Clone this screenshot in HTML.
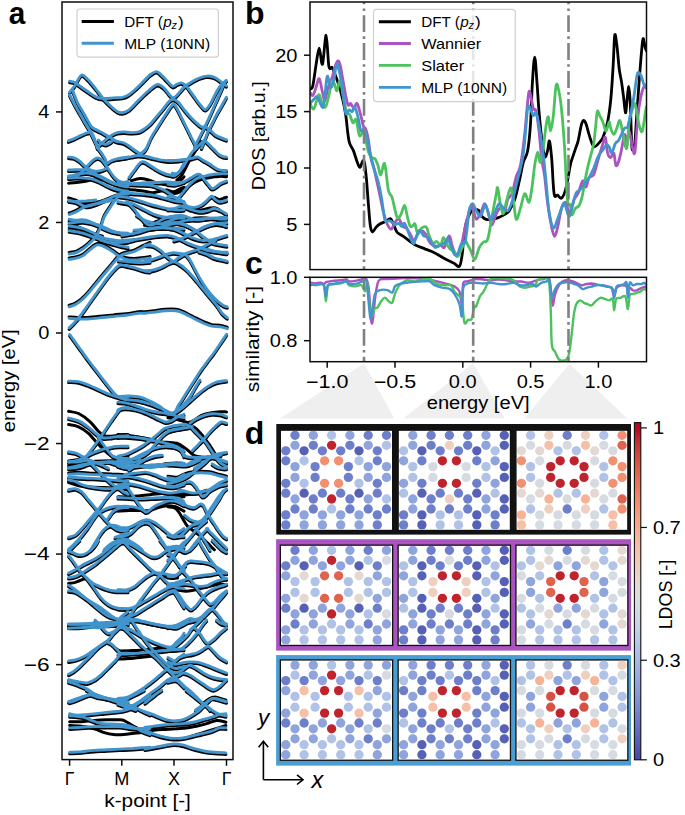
<!DOCTYPE html>
<html><head><meta charset="utf-8"><style>
html,body{margin:0;padding:0;background:#fff;}
svg{display:block;font-family:"Liberation Sans", sans-serif;}
</style></head><body>
<svg width="685" height="815" viewBox="0 0 685 815">
<rect x="0" y="0" width="685" height="815" fill="#fff"/>
<polygon points="364.0,363.5 280.0,418.4 394.3,418.4" fill="#efefef"/>
<polygon points="473.0,363.2 403.5,418.3 504.5,418.3" fill="#efefef"/>
<polygon points="569.5,363.8 524.5,418.6 627.3,418.6" fill="#efefef"/>
<defs><clipPath id="clipa"><rect x="62" y="2" width="171" height="757"/></clipPath></defs><g clip-path="url(#clipa)"><path d="M69.6,92.1 C70.5,91.0 72.9,88.5 74.8,85.7 C76.8,82.9 79.1,76.2 81.3,75.2 C83.4,74.1 85.3,77.1 87.7,79.3 C90.0,81.5 92.8,85.1 95.4,88.3 C98.0,91.5 100.5,95.5 103.1,98.5 C105.7,101.5 108.5,104.1 110.8,106.2 C113.2,108.4 115.3,110.3 117.2,111.4 C119.2,112.5 120.5,112.9 122.4,112.7 C124.3,112.5 126.4,111.8 128.8,110.1 C131.2,108.4 133.9,105.0 136.5,102.4 C139.1,99.8 142.0,96.8 144.2,94.7 C146.5,92.5 149.0,90.4 150.0,89.5" fill="none" stroke="#000" stroke-width="3.0" stroke-linecap="round" transform="translate(0,1.50)"/><path d="M69.6,81.2 C70.5,81.4 72.9,81.5 74.8,82.5 C76.8,83.4 79.1,85.5 81.3,87.0 C83.4,88.5 85.3,89.9 87.7,91.5 C90.0,93.1 92.8,95.4 95.4,96.6 C98.0,97.8 100.1,98.3 103.1,98.5 C106.1,98.8 110.2,98.1 113.4,97.9 C116.6,97.7 119.8,97.8 122.4,97.3 C124.9,96.7 126.4,96.2 128.8,94.7 C131.2,93.2 133.9,90.6 136.5,88.3 C139.1,85.9 142.0,82.8 144.2,80.6 C146.5,78.3 149.0,75.7 150.0,74.8" fill="none" stroke="#000" stroke-width="3.0" stroke-linecap="round" transform="translate(0,1.50)"/><path d="M69.6,94.7 C70.5,96.4 73.1,101.8 74.8,105.0 C76.6,108.2 78.3,111.0 80.0,114.0 C81.7,117.0 83.6,120.4 85.1,122.9 C86.6,125.5 87.7,127.0 89.0,129.4 C90.3,131.7 91.5,134.5 92.8,137.1 C94.1,139.7 95.7,143.0 96.7,144.8 C97.7,146.6 98.3,147.5 98.6,148.0" fill="none" stroke="#000" stroke-width="3.0" stroke-linecap="round" transform="translate(0,1.50)"/><path d="M72.3,89.5 C73.1,91.7 75.7,98.8 77.4,102.4 C79.1,106.0 80.8,108.4 82.6,111.4 C84.3,114.4 86.2,117.8 87.7,120.4 C89.2,122.9 90.3,125.3 91.5,126.8 C92.8,128.3 93.5,128.3 95.4,129.4 C97.3,130.4 100.8,131.9 103.1,133.2 C105.5,134.5 107.4,135.8 109.5,137.1 C111.7,138.4 114.9,140.3 116.0,140.9" fill="none" stroke="#000" stroke-width="3.0" stroke-linecap="round" transform="translate(0,1.50)"/><path d="M68.4,140.9 C69.5,140.5 72.7,139.3 74.8,138.4 C77.0,137.4 79.1,136.1 81.3,135.2 C83.4,134.2 86.0,133.0 87.7,132.6 C89.4,132.2 90.4,131.4 91.5,132.6 C92.7,133.8 93.8,137.1 94.8,139.7 C95.7,142.2 96.9,146.6 97.3,148.0" fill="none" stroke="#000" stroke-width="3.0" stroke-linecap="round" transform="translate(0,1.50)"/><path d="M99.3,145.4 C100.1,144.7 102.5,142.5 104.4,140.9 C106.3,139.3 108.7,137.2 110.8,135.8 C113.0,134.4 115.1,133.2 117.2,132.6 C119.4,131.9 121.3,131.9 123.7,131.9 C126.0,131.9 128.8,132.6 131.4,132.6 C133.9,132.6 136.7,132.7 139.1,131.9 C141.4,131.2 143.7,129.4 145.5,128.1 C147.3,126.8 149.3,124.9 150.0,124.2" fill="none" stroke="#000" stroke-width="3.0" stroke-linecap="round" transform="translate(0,1.50)"/><path d="M150.0,89.5 C150.2,89.3 150.1,89.1 151.4,88.3 C152.7,87.4 155.7,84.4 157.8,84.4 C160.0,84.4 162.3,86.6 164.3,88.3 C166.2,90.0 168.0,93.1 169.4,94.7 C170.8,96.2 171.4,97.5 172.6,97.6 C173.8,97.8 174.7,97.4 176.5,95.7 C178.3,94.0 181.5,89.6 183.5,87.6 C185.6,85.6 186.5,85.2 188.7,83.8 C190.8,82.4 193.4,80.6 196.4,79.3 C199.4,78.0 203.7,76.4 206.7,76.1 C209.7,75.7 212.2,76.6 214.4,77.3 C216.5,78.1 218.0,79.5 219.5,80.6 C221.0,81.6 222.2,82.9 223.4,83.8 C224.5,84.6 225.9,85.4 226.4,85.7" fill="none" stroke="#000" stroke-width="3.0" stroke-linecap="round" transform="translate(0,1.50)"/><path d="M150.0,74.8 C151.1,74.2 154.6,71.5 156.6,71.6 C158.5,71.7 160.0,73.9 161.7,75.4 C163.4,76.9 165.0,78.7 166.8,80.6 C168.7,82.4 170.9,85.7 172.6,86.3 C174.3,86.9 175.6,84.7 177.1,84.2 C178.6,83.6 180.1,82.6 181.6,82.9 C183.1,83.1 184.7,84.4 186.1,85.7 C187.5,87.0 188.3,88.5 190.0,90.8 C191.7,93.2 194.5,97.3 196.4,99.8 C198.3,102.4 200.0,104.6 201.5,106.2 C203.0,107.9 203.9,109.9 205.4,109.5 C206.9,109.0 208.8,106.4 210.5,103.7 C212.2,101.0 213.9,96.5 215.7,93.4 C217.4,90.3 219.0,87.2 220.8,85.1 C222.6,82.9 225.5,81.3 226.4,80.6" fill="none" stroke="#000" stroke-width="3.0" stroke-linecap="round" transform="translate(0,1.50)"/><path d="M150.0,124.2 C150.2,124.0 150.1,124.4 151.4,122.9 C152.7,121.5 155.7,117.8 157.8,115.2 C160.0,112.7 162.3,109.9 164.3,107.5 C166.2,105.2 167.9,102.5 169.4,101.1 C170.9,99.7 171.8,99.0 173.3,99.2 C174.8,99.4 176.7,100.8 178.4,102.4 C180.1,104.0 181.6,106.5 183.5,108.8 C185.5,111.2 187.8,114.2 190.0,116.5 C192.1,118.9 194.5,121.2 196.4,122.9 C198.3,124.7 200.0,126.2 201.5,126.8 C203.0,127.4 203.9,126.2 205.4,126.8 C206.9,127.4 208.8,129.3 210.5,130.7 C212.2,132.0 213.9,134.0 215.7,135.2 C217.4,136.3 219.0,137.0 220.8,137.7 C222.6,138.5 225.5,139.3 226.4,139.7" fill="none" stroke="#000" stroke-width="3.0" stroke-linecap="round" transform="translate(0,1.50)"/><path d="M141.1,153.4 C141.9,152.8 143.9,152.3 145.6,149.5 C147.4,146.8 149.4,140.9 151.4,137.1 C153.5,133.3 155.7,130.2 157.8,126.8 C160.0,123.4 162.3,119.5 164.3,116.5 C166.2,113.5 167.9,110.9 169.4,108.8 C171.0,106.8 172.2,104.3 173.5,104.3 C174.8,104.3 175.7,106.4 177.1,108.8 C178.6,111.3 180.5,115.7 182.3,119.1 C184.0,122.5 185.9,126.4 187.4,129.4 C188.9,132.4 190.1,134.7 191.2,137.1 C192.4,139.4 193.6,141.7 194.5,143.5 C195.3,145.3 196.1,147.3 196.4,148.0" fill="none" stroke="#000" stroke-width="3.0" stroke-linecap="round" transform="translate(0,1.50)"/><path d="M225.9,80.6 C225.4,81.6 224.0,84.2 222.7,87.0 C221.4,89.8 219.8,93.6 218.2,97.3 C216.6,100.9 214.8,105.0 213.1,108.8 C211.4,112.7 209.6,117.0 207.9,120.4 C206.3,123.8 204.8,126.6 203.5,129.4 C202.1,132.2 200.7,134.9 199.6,137.1 C198.5,139.2 197.9,140.4 197.0,142.2 C196.2,144.0 194.9,147.0 194.5,148.0" fill="none" stroke="#000" stroke-width="3.0" stroke-linecap="round" transform="translate(0,1.50)"/><path d="M226.4,97.3 C225.7,98.5 223.7,102.2 222.1,105.0 C220.5,107.7 218.7,110.7 216.9,114.0 C215.2,117.2 213.3,121.2 211.8,124.2 C210.3,127.2 209.0,129.6 207.9,131.9 C206.9,134.3 206.2,136.2 205.4,138.4 C204.5,140.5 203.5,143.2 202.8,144.8 C202.2,146.4 201.7,147.5 201.5,148.0" fill="none" stroke="#000" stroke-width="3.0" stroke-linecap="round" transform="translate(0,1.50)"/><path d="M98.4,148.8 C99.0,149.6 100.6,151.6 101.8,153.3 C102.9,154.9 104.1,157.1 105.1,158.8 C106.0,160.4 106.4,162.8 107.3,163.2 C108.2,163.6 108.9,161.7 110.6,161.0 C112.2,160.2 115.0,159.3 117.2,158.8 C119.4,158.2 122.0,157.9 123.8,157.7 C125.6,157.4 127.3,157.2 128.0,157.1" fill="none" stroke="#000" stroke-width="3.0" stroke-linecap="round" transform="translate(0,1.50)"/><path d="M98.4,140.0 C99.0,140.6 100.5,142.6 101.8,143.3 C103.0,144.0 104.7,144.6 106.2,144.4 C107.6,144.2 109.5,142.9 110.6,142.2 C111.7,141.5 112.4,140.4 112.8,140.0" fill="none" stroke="#000" stroke-width="3.0" stroke-linecap="round" transform="translate(0,1.50)"/><path d="M68.6,157.1 C69.5,157.2 72.3,157.2 74.1,157.9 C76.0,158.6 77.9,159.9 79.7,161.2 C81.4,162.5 83.0,164.6 84.6,165.9 C86.3,167.3 87.9,168.7 89.6,169.6 C91.4,170.5 93.3,171.1 95.1,171.2 C97.0,171.4 98.9,171.1 100.6,170.7 C102.4,170.3 104.8,169.2 105.6,168.9" fill="none" stroke="#000" stroke-width="3.0" stroke-linecap="round" transform="translate(0,1.50)"/><path d="M76.4,176.4 C77.3,175.7 80.0,173.8 81.9,172.0 C83.7,170.3 85.6,167.9 87.4,165.9 C89.2,164.0 91.3,161.8 92.9,160.4 C94.6,159.1 96.0,158.2 97.3,158.0 C98.7,157.8 100.0,158.5 101.2,159.3 C102.4,160.2 103.4,161.7 104.5,163.2 C105.6,164.7 106.7,166.5 107.8,168.2 C108.9,169.8 109.9,171.5 111.1,173.1 C112.3,174.8 113.6,176.7 115.0,178.1 C116.4,179.5 117.9,180.7 119.4,181.4 C120.9,182.1 122.4,182.5 123.8,182.5 C125.3,182.5 127.3,181.6 128.0,181.4" fill="none" stroke="#000" stroke-width="3.0" stroke-linecap="round" transform="translate(0,1.50)"/><path d="M68.6,170.0 C69.7,170.0 73.0,169.9 75.3,169.8 C77.5,169.7 79.9,169.5 81.9,169.6 C83.9,169.7 85.4,169.8 87.4,170.4 C89.4,171.0 91.8,172.1 94.0,173.1 C96.2,174.1 98.4,175.3 100.6,176.4 C102.9,177.5 105.1,178.6 107.3,179.8 C109.5,180.9 111.9,182.1 113.9,183.1 C115.9,184.0 117.8,184.7 119.4,185.3 C121.1,185.8 122.4,186.1 123.8,186.4 C125.3,186.7 127.3,186.8 128.0,186.9" fill="none" stroke="#000" stroke-width="3.0" stroke-linecap="round" transform="translate(0,1.50)"/><path d="M68.6,175.9 C69.5,175.8 72.1,175.5 74.1,175.1 C76.2,174.7 78.7,174.0 80.8,173.7 C82.8,173.3 84.3,173.0 86.3,173.1 C88.3,173.2 90.9,173.7 92.9,174.2 C94.9,174.8 96.6,175.6 98.4,176.4 C100.3,177.3 102.1,178.3 104.0,179.2 C105.8,180.1 107.6,181.1 109.5,182.0 C111.3,182.8 113.2,183.6 115.0,184.2 C116.8,184.7 118.4,185.0 120.5,185.3 C122.7,185.5 126.8,185.7 128.0,185.8" fill="none" stroke="#000" stroke-width="3.0" stroke-linecap="round" transform="translate(0,1.50)"/><path d="M68.6,181.7 C69.9,181.6 73.8,181.4 76.4,181.1 C78.9,180.8 81.7,180.4 84.1,180.0 C86.5,179.6 88.5,179.0 90.7,178.6 C92.9,178.3 95.1,178.1 97.3,178.1 C99.5,178.1 102.9,178.6 104.0,178.6" fill="none" stroke="#000" stroke-width="3.0" stroke-linecap="round" transform="translate(0,1.50)"/><path d="M68.6,178.1 C69.9,178.0 73.8,177.5 76.4,177.5 C78.9,177.5 81.7,177.9 84.1,178.1 C86.5,178.3 88.5,178.2 90.7,178.6 C92.9,179.1 95.1,179.9 97.3,180.9 C99.5,181.8 101.8,183.1 104.0,184.2 C106.2,185.3 108.4,186.6 110.6,187.5 C112.8,188.4 115.0,189.1 117.2,189.7 C119.4,190.2 122.0,190.5 123.8,190.8 C125.6,191.1 127.3,191.3 128.0,191.3" fill="none" stroke="#000" stroke-width="3.0" stroke-linecap="round" transform="translate(0,1.50)"/><path d="M68.6,196.3 C69.7,196.7 73.0,197.6 75.3,198.5 C77.5,199.4 79.9,201.0 81.9,201.8 C83.9,202.7 85.6,203.3 87.4,203.5 C89.2,203.7 91.1,203.3 92.9,202.9 C94.8,202.6 96.6,202.0 98.4,201.3 C100.3,200.5 102.1,199.4 104.0,198.5 C105.8,197.7 107.6,197.1 109.5,196.3 C111.3,195.6 113.3,194.7 115.0,194.1 C116.7,193.6 117.9,193.4 119.4,193.0 C120.9,192.6 122.4,192.2 123.8,191.9 C125.3,191.6 127.3,191.4 128.0,191.3" fill="none" stroke="#000" stroke-width="3.0" stroke-linecap="round" transform="translate(0,1.50)"/><path d="M68.6,200.2 C69.7,200.5 73.2,201.1 75.3,201.8 C77.3,202.6 79.1,203.9 80.8,204.6 C82.4,205.3 83.5,206.1 85.2,206.3 C86.8,206.4 88.7,206.2 90.7,205.7 C92.7,205.2 95.1,204.3 97.3,203.5 C99.5,202.7 101.9,201.6 104.0,200.7 C106.0,199.9 107.6,199.4 109.5,198.5 C111.3,197.7 113.0,196.5 115.0,195.8 C117.0,195.0 119.5,194.4 121.6,194.1 C123.8,193.8 127.0,194.1 128.0,194.1" fill="none" stroke="#000" stroke-width="3.0" stroke-linecap="round" transform="translate(0,1.50)"/><path d="M115.8,141.1 C116.2,141.2 116.5,141.3 118.0,141.7 C119.5,142.0 122.4,142.3 124.6,143.3 C126.8,144.3 129.2,146.3 131.3,147.7 C133.3,149.1 135.1,150.7 136.8,151.6 C138.4,152.5 139.7,153.6 141.2,153.3 C142.7,152.9 144.9,150.0 145.6,149.4" fill="none" stroke="#000" stroke-width="3.0" stroke-linecap="round" transform="translate(0,1.50)"/><path d="M118.0,158.8 C119.1,158.6 122.4,158.0 124.6,157.7 C126.8,157.3 129.0,156.9 131.3,156.6 C133.5,156.2 135.7,155.6 137.9,155.5 C140.1,155.4 142.3,155.6 144.5,156.0 C146.7,156.4 148.9,157.1 151.1,157.7 C153.3,158.2 155.5,158.9 157.8,159.3 C160.0,159.8 162.2,160.2 164.4,160.4 C166.6,160.7 168.8,161.0 171.0,161.0 C173.2,161.0 175.5,160.6 177.6,160.4 C179.8,160.2 183.0,160.0 184.0,159.9" fill="none" stroke="#000" stroke-width="3.0" stroke-linecap="round" transform="translate(0,1.50)"/><path d="M129.0,177.5 C130.0,176.3 132.5,172.4 134.6,169.8 C136.6,167.2 139.3,163.3 141.2,162.1 C143.0,160.9 143.6,161.7 145.6,162.6 C147.6,163.6 150.6,165.9 153.3,167.6 C156.1,169.3 159.2,171.3 162.2,172.6 C165.1,173.9 168.8,174.9 171.0,175.3 C173.2,175.8 173.9,176.1 175.4,175.3 C176.9,174.6 178.4,172.9 179.8,170.9 C181.3,168.9 183.3,164.5 184.0,163.2" fill="none" stroke="#000" stroke-width="3.0" stroke-linecap="round" transform="translate(0,1.50)"/><path d="M131.3,179.2 C132.7,178.8 137.1,177.1 140.1,177.0 C143.0,176.9 146.2,177.9 148.9,178.6 C151.7,179.4 154.1,180.7 156.6,181.4 C159.2,182.1 162.0,182.7 164.4,183.1 C166.8,183.4 169.0,183.8 171.0,183.6 C173.0,183.4 174.7,183.0 176.5,182.0 C178.4,180.9 180.8,178.6 182.0,177.5 C183.3,176.4 183.7,175.7 184.0,175.3" fill="none" stroke="#000" stroke-width="3.0" stroke-linecap="round" transform="translate(0,1.50)"/><path d="M118.0,182.0 C119.1,182.1 122.4,182.8 124.6,183.1 C126.8,183.3 128.7,183.6 131.3,183.6 C133.8,183.6 137.1,183.2 140.1,183.1 C143.0,182.9 146.0,182.6 148.9,182.5 C151.9,182.4 154.8,182.6 157.8,182.5 C160.7,182.4 163.6,182.0 166.6,182.0 C169.5,182.0 172.5,182.5 175.4,182.5 C178.3,182.5 182.6,182.1 184.0,182.0" fill="none" stroke="#000" stroke-width="3.0" stroke-linecap="round" transform="translate(0,1.50)"/><path d="M126.8,184.2 C129.0,184.3 136.0,184.5 140.1,184.7 C144.1,184.9 148.2,184.8 151.1,185.3 C154.1,185.7 155.5,186.7 157.8,187.5 C160.0,188.3 162.4,189.2 164.4,190.2 C166.4,191.3 167.9,192.2 169.9,193.6 C171.9,194.9 174.2,197.1 176.5,198.5 C178.9,199.9 182.8,201.3 184.0,201.8" fill="none" stroke="#000" stroke-width="3.0" stroke-linecap="round" transform="translate(0,1.50)"/><path d="M118.0,188.6 C119.5,188.5 123.9,188.0 126.8,188.0 C129.8,188.0 132.7,188.3 135.7,188.6 C138.6,188.9 141.7,189.2 144.5,189.7 C147.3,190.2 149.7,191.3 152.2,191.3 C154.8,191.3 157.6,190.2 160.0,189.7 C162.4,189.2 164.4,188.5 166.6,188.6 C168.8,188.7 171.0,190.4 173.2,190.2 C175.4,190.1 178.0,188.2 179.8,187.5 C181.6,186.7 183.3,186.1 184.0,185.8" fill="none" stroke="#000" stroke-width="3.0" stroke-linecap="round" transform="translate(0,1.50)"/><path d="M118.0,194.1 C119.5,193.9 123.9,193.1 126.8,193.0 C129.8,192.9 132.7,193.4 135.7,193.6 C138.6,193.7 141.6,193.8 144.5,194.1 C147.4,194.4 150.4,194.7 153.3,195.2 C156.3,195.8 159.4,196.7 162.2,197.4 C164.9,198.2 167.5,199.0 169.9,199.6 C172.3,200.3 174.2,200.9 176.5,201.3 C178.9,201.7 182.8,201.7 184.0,201.8" fill="none" stroke="#000" stroke-width="3.0" stroke-linecap="round" transform="translate(0,1.50)"/><path d="M118.0,196.3 C119.5,196.5 123.9,196.9 126.8,197.4 C129.8,198.0 132.7,198.8 135.7,199.6 C138.6,200.5 141.6,201.5 144.5,202.4 C147.4,203.3 150.4,204.3 153.3,205.2 C156.3,206.0 159.4,206.7 162.2,207.4 C164.9,208.0 167.3,208.6 169.9,209.0 C172.5,209.5 175.3,210.0 177.6,210.1 C180.0,210.2 183.0,209.7 184.0,209.6" fill="none" stroke="#000" stroke-width="3.0" stroke-linecap="round" transform="translate(0,1.50)"/><path d="M118.0,201.8 C119.1,202.0 122.8,202.6 124.6,202.9 C126.5,203.3 127.6,203.1 129.0,204.0 C130.5,205.0 132.0,206.8 133.5,208.5 C134.9,210.1 136.4,212.1 137.9,214.0 C139.3,215.8 140.8,217.8 142.3,219.5 C143.8,221.2 145.2,223.0 146.7,223.9 C148.2,224.8 149.5,225.2 151.1,225.0 C152.8,224.8 154.8,223.7 156.6,222.8 C158.5,221.9 160.3,220.4 162.2,219.5 C164.0,218.6 165.9,217.8 167.7,217.3 C169.5,216.7 171.2,216.4 173.2,216.2 C175.2,216.0 178.0,216.0 179.8,216.2 C181.6,216.4 183.3,217.1 184.0,217.3" fill="none" stroke="#000" stroke-width="3.0" stroke-linecap="round" transform="translate(0,1.50)"/><path d="M126.8,201.8 C127.9,202.2 131.3,203.1 133.5,204.0 C135.7,205.0 137.9,206.3 140.1,207.4 C142.3,208.5 144.5,209.6 146.7,210.7 C148.9,211.8 151.1,213.1 153.3,214.0 C155.5,214.9 157.8,215.6 160.0,216.2 C162.2,216.7 164.4,217.1 166.6,217.3 C168.8,217.5 170.3,217.1 173.2,217.3 C176.1,217.5 182.2,218.2 184.0,218.4" fill="none" stroke="#000" stroke-width="3.0" stroke-linecap="round" transform="translate(0,1.50)"/><path d="M144.5,223.9 C145.6,223.6 148.9,223.0 151.1,222.3 C153.3,221.5 155.5,220.3 157.8,219.5 C160.0,218.7 162.2,217.8 164.4,217.3 C166.6,216.7 169.9,216.4 171.0,216.2" fill="none" stroke="#000" stroke-width="3.0" stroke-linecap="round" transform="translate(0,1.50)"/><path d="M162.2,223.9 C163.1,223.6 165.9,222.4 167.7,221.7 C169.5,221.0 171.2,220.2 173.2,219.5 C175.2,218.8 178.0,217.8 179.8,217.3 C181.6,216.7 183.3,216.4 184.0,216.2" fill="none" stroke="#000" stroke-width="3.0" stroke-linecap="round" transform="translate(0,1.50)"/><path d="M140.1,230.0 C141.9,229.7 147.4,228.7 151.1,228.3 C154.8,228.0 158.5,227.8 162.2,227.8 C165.9,227.8 169.6,228.2 173.2,228.3 C176.9,228.5 182.2,228.8 184.0,228.9" fill="none" stroke="#000" stroke-width="3.0" stroke-linecap="round" transform="translate(0,1.50)"/><path d="M168.0,160.4 C169.1,160.4 172.4,160.5 174.6,160.4 C176.8,160.3 179.2,160.1 181.3,159.9 C183.3,159.7 184.9,159.6 186.8,159.3 C188.6,159.0 190.5,158.6 192.3,158.2 C194.1,157.9 196.0,156.7 197.8,157.1 C199.7,157.5 201.3,159.2 203.3,160.4 C205.4,161.6 207.8,162.9 210.0,164.3 C212.2,165.7 214.6,167.7 216.6,168.7 C218.6,169.7 220.5,170.1 222.1,170.4 C223.8,170.6 225.8,170.4 226.5,170.4" fill="none" stroke="#000" stroke-width="3.0" stroke-linecap="round" transform="translate(0,1.50)"/><path d="M172.4,173.1 C173.0,173.2 174.6,173.9 175.7,173.7 C176.8,173.5 177.8,173.2 179.0,172.0 C180.3,170.8 182.0,168.7 183.5,166.5 C184.9,164.3 186.4,161.2 187.9,158.8 C189.3,156.4 190.8,154.0 192.3,152.1 C193.8,150.3 195.2,149.2 196.7,147.7 C198.2,146.3 199.8,144.6 201.1,143.3 C202.4,142.0 203.9,140.6 204.4,140.0" fill="none" stroke="#000" stroke-width="3.0" stroke-linecap="round" transform="translate(0,1.50)"/><path d="M176.8,178.6 C177.6,177.9 179.8,176.3 181.3,174.2 C182.7,172.2 184.2,169.3 185.7,166.5 C187.1,163.7 188.6,160.2 190.1,157.7 C191.6,155.1 193.2,153.1 194.5,151.0 C195.8,149.0 196.9,147.0 197.8,145.5 C198.7,144.0 199.5,143.1 200.0,142.2 C200.6,141.3 200.9,140.4 201.1,140.0" fill="none" stroke="#000" stroke-width="3.0" stroke-linecap="round" transform="translate(0,1.50)"/><path d="M204.4,140.0 C205.4,140.9 208.3,143.9 210.0,145.5 C211.6,147.2 212.9,148.5 214.4,149.9 C215.9,151.4 217.3,153.3 218.8,154.4 C220.3,155.5 221.9,156.1 223.2,156.6 C224.5,157.0 226.0,157.0 226.5,157.1" fill="none" stroke="#000" stroke-width="3.0" stroke-linecap="round" transform="translate(0,1.50)"/><path d="M168.0,184.2 C169.1,184.3 172.4,184.9 174.6,184.7 C176.8,184.5 179.0,183.9 181.3,183.1 C183.5,182.2 185.9,180.9 187.9,179.8 C189.9,178.6 191.7,177.4 193.4,176.4 C195.1,175.5 196.5,174.4 197.8,174.2 C199.1,174.0 200.0,174.4 201.1,175.3 C202.2,176.3 203.2,178.1 204.4,179.8 C205.7,181.4 207.6,183.8 208.9,185.3 C210.1,186.7 210.9,188.4 212.2,188.6 C213.5,188.8 215.1,187.3 216.6,186.4 C218.1,185.5 219.3,184.0 221.0,183.1 C222.7,182.1 225.6,181.2 226.5,180.9" fill="none" stroke="#000" stroke-width="3.0" stroke-linecap="round" transform="translate(0,1.50)"/><path d="M168.0,189.7 C169.1,190.1 172.4,191.9 174.6,191.9 C176.8,191.9 179.0,190.8 181.3,189.7 C183.5,188.6 185.7,186.7 187.9,185.3 C190.1,183.8 192.3,182.1 194.5,180.9 C196.7,179.7 198.9,178.8 201.1,178.1 C203.3,177.4 205.5,176.9 207.8,176.4 C210.0,176.0 212.2,175.6 214.4,175.3 C216.6,175.1 219.0,174.8 221.0,174.8 C223.0,174.8 225.6,175.2 226.5,175.3" fill="none" stroke="#000" stroke-width="3.0" stroke-linecap="round" transform="translate(0,1.50)"/><path d="M179.0,197.4 C179.8,196.5 182.0,193.7 183.5,191.9 C184.9,190.1 186.4,188.0 187.9,186.4 C189.3,184.7 190.8,183.2 192.3,182.0 C193.8,180.7 195.2,179.5 196.7,178.6 C198.2,177.8 199.3,177.5 201.1,177.0 C203.0,176.4 205.5,175.8 207.8,175.3 C210.0,174.9 212.2,174.5 214.4,174.2 C216.6,174.0 219.0,173.8 221.0,173.7 C223.0,173.6 225.6,173.7 226.5,173.7" fill="none" stroke="#000" stroke-width="3.0" stroke-linecap="round" transform="translate(0,1.50)"/><path d="M168.0,196.3 C169.1,196.5 172.8,197.1 174.6,197.4 C176.5,197.8 177.6,197.6 179.0,198.5 C180.5,199.4 182.0,201.7 183.5,202.9 C184.9,204.2 186.0,205.5 187.9,206.3 C189.7,207.0 192.3,207.5 194.5,207.4 C196.7,207.2 199.3,206.1 201.1,205.2 C203.0,204.2 204.1,203.1 205.5,201.8 C207.0,200.5 208.9,198.3 210.0,197.4 C211.1,196.5 211.2,195.9 212.2,196.3 C213.1,196.7 214.2,198.7 215.5,199.6 C216.8,200.5 218.1,201.7 219.9,201.8 C221.7,201.9 225.4,200.5 226.5,200.2" fill="none" stroke="#000" stroke-width="3.0" stroke-linecap="round" transform="translate(0,1.50)"/><path d="M210.0,197.4 C210.7,197.1 212.9,195.7 214.4,195.8 C215.9,195.9 217.3,197.8 218.8,198.0 C220.3,198.2 221.9,197.2 223.2,196.9 C224.5,196.5 226.0,195.9 226.5,195.8" fill="none" stroke="#000" stroke-width="3.0" stroke-linecap="round" transform="translate(0,1.50)"/><path d="M168.0,209.6 C169.1,209.4 172.4,209.0 174.6,208.5 C176.8,207.9 179.0,206.3 181.3,206.3 C183.5,206.3 185.7,207.7 187.9,208.5 C190.1,209.2 192.3,210.1 194.5,210.7 C196.7,211.2 198.9,211.8 201.1,211.8 C203.3,211.8 205.5,211.2 207.8,210.7 C210.0,210.1 212.2,208.5 214.4,208.5 C216.6,208.5 219.0,209.8 221.0,210.7 C223.0,211.6 225.6,213.4 226.5,214.0" fill="none" stroke="#000" stroke-width="3.0" stroke-linecap="round" transform="translate(0,1.50)"/><path d="M190.1,209.6 C191.9,209.4 197.4,209.0 201.1,208.5 C204.8,207.9 209.4,206.4 212.2,206.3 C214.9,206.1 215.9,206.4 217.7,207.4 C219.5,208.3 221.7,210.7 223.2,211.8 C224.7,212.9 226.0,213.6 226.5,214.0" fill="none" stroke="#000" stroke-width="3.0" stroke-linecap="round" transform="translate(0,1.50)"/><path d="M168.0,217.3 C169.1,217.1 172.4,216.6 174.6,216.2 C176.8,215.8 179.0,214.9 181.3,215.1 C183.5,215.3 185.7,216.6 187.9,217.3 C190.1,218.0 192.3,219.1 194.5,219.5 C196.7,219.9 198.9,219.7 201.1,219.5 C203.3,219.3 205.5,218.6 207.8,218.4 C210.0,218.2 212.2,218.3 214.4,218.4 C216.6,218.5 219.0,218.9 221.0,219.0 C223.0,219.0 225.6,219.0 226.5,219.0" fill="none" stroke="#000" stroke-width="3.0" stroke-linecap="round" transform="translate(0,1.50)"/><path d="M168.0,219.5 C169.8,219.7 175.4,221.0 179.0,220.6 C182.7,220.2 186.4,218.0 190.1,217.3 C193.8,216.6 197.4,216.2 201.1,216.2 C204.8,216.2 207.9,216.4 212.2,217.3 C216.4,218.2 224.1,221.0 226.5,221.7" fill="none" stroke="#000" stroke-width="3.0" stroke-linecap="round" transform="translate(0,1.50)"/><path d="M168.0,223.9 C169.5,223.7 174.3,222.8 176.8,222.8 C179.4,222.8 181.3,223.2 183.5,223.9 C185.7,224.7 188.2,226.2 190.1,227.2 C191.9,228.2 193.8,229.5 194.5,230.0" fill="none" stroke="#000" stroke-width="3.0" stroke-linecap="round" transform="translate(0,1.50)"/><path d="M201.1,228.3 C202.6,227.8 207.4,225.8 210.0,225.0 C212.5,224.3 214.4,223.9 216.6,223.9 C218.8,223.9 221.6,224.7 223.2,225.0 C224.9,225.4 226.0,225.9 226.5,226.1" fill="none" stroke="#000" stroke-width="3.0" stroke-linecap="round" transform="translate(0,1.50)"/><path d="M134.1,230.3 C136.2,230.1 143.0,229.5 146.9,229.1 C150.7,228.6 153.7,228.4 157.1,227.8 C160.5,227.1 163.9,226.1 167.3,225.2 C170.7,224.4 174.1,223.5 177.5,222.7 C180.9,221.8 183.5,220.7 187.7,220.1 C192.0,219.5 198.0,219.3 203.1,218.8 C208.2,218.4 214.4,217.8 218.4,217.6 C222.4,217.3 225.4,217.6 226.8,217.6" fill="none" stroke="#000" stroke-width="3.0" stroke-linecap="round" transform="translate(0,1.50)"/><path d="M122.1,235.4 C124.5,235.0 132.1,233.9 136.6,232.9 C141.2,231.8 145.2,229.9 149.4,229.1 C153.7,228.2 158.1,227.8 162.2,227.8 C166.3,227.8 170.5,228.2 173.9,229.1 C177.4,229.9 179.5,231.4 182.6,232.9 C185.8,234.4 189.4,236.7 192.9,238.0 C196.3,239.3 199.7,240.3 203.1,240.5 C206.5,240.8 209.3,240.1 213.3,239.3 C217.3,238.4 224.6,236.1 226.8,235.4" fill="none" stroke="#000" stroke-width="3.0" stroke-linecap="round" transform="translate(0,1.50)"/><path d="M122.1,240.5 C124.5,240.3 131.7,239.9 136.6,239.3 C141.6,238.6 146.9,237.4 152.0,236.7 C157.1,236.1 163.0,235.2 167.3,235.4 C171.6,235.7 174.1,236.7 177.5,238.0 C180.9,239.3 184.3,241.6 187.7,243.1 C191.2,244.6 194.6,245.9 198.0,246.9 C201.4,248.0 204.8,248.6 208.2,249.5 C211.6,250.3 215.3,251.4 218.4,252.0 C221.5,252.7 225.4,253.1 226.8,253.3" fill="none" stroke="#000" stroke-width="3.0" stroke-linecap="round" transform="translate(0,1.50)"/><path d="M173.9,240.5 C175.4,240.1 179.5,239.3 182.6,238.0 C185.8,236.7 189.4,234.6 192.9,232.9 C196.3,231.2 199.7,229.3 203.1,227.8 C206.5,226.3 209.3,224.8 213.3,223.9 C217.3,223.1 224.6,222.9 226.8,222.7" fill="none" stroke="#000" stroke-width="3.0" stroke-linecap="round" transform="translate(0,1.50)"/><path d="M136.6,215.0 C137.9,215.9 141.8,218.8 144.3,220.1 C146.9,221.4 149.0,222.0 152.0,222.7 C155.0,223.3 158.5,223.9 162.2,223.9 C165.9,223.9 170.1,222.5 173.9,222.7 C177.8,222.9 181.6,223.9 185.2,225.2 C188.8,226.5 192.4,228.4 195.4,230.3 C198.4,232.2 200.1,234.6 203.1,236.7 C206.1,238.8 209.3,241.6 213.3,243.1 C217.3,244.6 224.6,245.2 226.8,245.7" fill="none" stroke="#000" stroke-width="3.0" stroke-linecap="round" transform="translate(0,1.50)"/><path d="M68.6,381.1 C70.3,381.2 75.1,380.9 78.6,381.7 C82.1,382.4 85.9,384.0 89.6,385.5 C93.3,387.0 97.3,389.0 100.6,390.5 C104.0,392.0 106.9,393.3 109.5,394.4 C112.1,395.4 114.1,396.1 116.1,396.6 C118.1,397.0 119.6,397.0 121.6,397.1 C123.6,397.2 127.0,397.1 128.0,397.1" fill="none" stroke="#000" stroke-width="3.0" stroke-linecap="round" transform="translate(0,1.50)"/><path d="M68.6,409.8 C70.3,410.2 75.1,410.4 78.6,412.0 C82.1,413.7 86.3,416.8 89.6,419.8 C92.9,422.7 96.0,427.3 98.4,429.7 C100.8,432.1 101.8,433.3 104.0,434.1 C106.2,434.9 109.1,434.8 111.7,434.7 C114.3,434.6 116.7,433.8 119.4,433.6 C122.1,433.3 126.6,433.1 128.0,433.0" fill="none" stroke="#000" stroke-width="3.0" stroke-linecap="round" transform="translate(0,1.50)"/><path d="M68.6,418.1 C70.3,418.6 75.4,419.5 78.6,420.9 C81.7,422.2 84.6,424.4 87.4,426.4 C90.2,428.4 93.1,431.3 95.1,433.0 C97.2,434.7 98.1,435.5 99.5,436.3 C101.0,437.1 101.9,437.8 104.0,438.0 C106.0,438.2 109.1,437.7 111.7,437.4 C114.3,437.1 116.7,436.6 119.4,436.3 C122.1,436.0 126.6,435.9 128.0,435.8" fill="none" stroke="#000" stroke-width="3.0" stroke-linecap="round" transform="translate(0,1.50)"/><path d="M68.6,423.1 C70.3,423.4 75.3,423.8 78.6,425.3 C81.9,426.7 85.4,429.1 88.5,431.9 C91.6,434.7 94.8,439.1 97.3,441.8 C99.9,444.6 101.8,446.4 104.0,448.5 C106.2,450.5 108.4,452.7 110.6,454.0 C112.8,455.3 115.0,455.8 117.2,456.2 C119.4,456.6 122.0,456.3 123.8,456.2 C125.6,456.1 127.3,455.7 128.0,455.6" fill="none" stroke="#000" stroke-width="3.0" stroke-linecap="round" transform="translate(0,1.50)"/><path d="M98.4,437.4 C99.7,439.3 103.8,445.3 106.2,448.5 C108.6,451.6 110.4,454.5 112.8,456.2 C115.2,457.8 118.0,458.0 120.5,458.4 C123.1,458.8 126.8,458.4 128.0,458.4" fill="none" stroke="#000" stroke-width="3.0" stroke-linecap="round" transform="translate(0,1.50)"/><path d="M84.1,459.5 C85.2,458.0 88.5,453.6 90.7,450.7 C92.9,447.7 95.1,445.0 97.3,441.8 C99.5,438.7 101.8,435.2 104.0,431.9 C106.2,428.6 108.6,424.9 110.6,422.0 C112.6,419.0 114.5,416.4 116.1,414.2 C117.8,412.0 119.1,409.8 120.5,408.7 C122.0,407.6 123.7,407.8 124.9,407.6 C126.2,407.4 127.5,407.6 128.0,407.6" fill="none" stroke="#000" stroke-width="3.0" stroke-linecap="round" transform="translate(0,1.50)"/><path d="M68.6,451.8 C69.7,452.0 73.0,452.1 75.3,452.9 C77.5,453.6 79.7,455.1 81.9,456.2 C84.1,457.3 86.3,458.5 88.5,459.5 C90.7,460.5 92.9,461.3 95.1,462.3 C97.3,463.2 99.5,464.0 101.8,465.0 C104.0,466.0 107.3,467.8 108.4,468.3" fill="none" stroke="#000" stroke-width="3.0" stroke-linecap="round" transform="translate(0,1.50)"/><path d="M68.6,461.7 C69.9,461.5 73.8,461.3 76.4,460.6 C78.9,459.9 81.3,458.6 84.1,457.3 C86.8,456.0 90.0,454.2 92.9,452.9 C95.9,451.6 98.8,450.5 101.8,449.6 C104.7,448.6 107.6,447.9 110.6,447.4 C113.5,446.8 116.5,446.4 119.4,446.3 C122.3,446.1 126.6,446.3 128.0,446.3" fill="none" stroke="#000" stroke-width="3.0" stroke-linecap="round" transform="translate(0,1.50)"/><path d="M68.6,459.5 C69.7,459.4 73.0,459.0 75.3,458.6 C77.5,458.3 79.7,457.9 81.9,457.3 C84.1,456.7 87.4,455.5 88.5,455.1" fill="none" stroke="#000" stroke-width="3.0" stroke-linecap="round" transform="translate(0,1.50)"/><path d="M68.6,468.3 C70.3,468.2 75.1,468.0 78.6,467.2 C82.1,466.5 85.9,464.8 89.6,463.9 C93.3,463.1 97.0,462.6 100.6,462.3 C104.3,461.9 108.0,461.7 111.7,461.7 C115.4,461.7 120.0,462.2 122.7,462.3 C125.5,462.4 127.2,462.3 128.0,462.3" fill="none" stroke="#000" stroke-width="3.0" stroke-linecap="round" transform="translate(0,1.50)"/><path d="M89.6,461.7 C90.5,462.6 93.8,465.9 95.1,467.2 C96.4,468.6 97.0,469.5 97.3,470.0" fill="none" stroke="#000" stroke-width="3.0" stroke-linecap="round" transform="translate(0,1.50)"/><path d="M108.4,461.7 C109.5,462.1 112.8,463.0 115.0,463.9 C117.2,464.8 119.5,466.5 121.6,467.2 C123.8,468.0 127.0,468.2 128.0,468.3" fill="none" stroke="#000" stroke-width="3.0" stroke-linecap="round" transform="translate(0,1.50)"/><path d="M118.0,396.6 C119.8,396.5 125.4,395.9 129.0,396.0 C132.7,396.1 136.4,396.2 140.1,397.1 C143.8,398.0 147.8,400.0 151.1,401.5 C154.4,403.1 157.4,404.8 160.0,406.5 C162.5,408.3 164.7,410.7 166.6,412.0 C168.4,413.3 169.3,414.4 171.0,414.2 C172.7,414.0 174.4,412.6 176.5,410.9 C178.7,409.3 182.8,405.4 184.0,404.3" fill="none" stroke="#000" stroke-width="3.0" stroke-linecap="round" transform="translate(0,1.50)"/><path d="M118.0,402.1 C119.1,402.2 121.9,402.1 124.6,402.6 C127.4,403.2 131.1,404.3 134.6,405.4 C138.1,406.5 141.9,408.2 145.6,409.3 C149.3,410.4 153.5,411.4 156.6,412.0 C159.8,412.7 162.0,412.8 164.4,413.1 C166.8,413.5 168.8,413.7 171.0,414.2 C173.2,414.8 175.5,415.9 177.6,416.4 C179.8,417.0 183.0,417.4 184.0,417.5" fill="none" stroke="#000" stroke-width="3.0" stroke-linecap="round" transform="translate(0,1.50)"/><path d="M118.0,409.8 C119.1,409.5 121.9,408.3 124.6,408.2 C127.4,408.1 131.4,408.6 134.6,409.3 C137.7,409.9 140.6,411.0 143.4,412.0 C146.2,413.0 148.6,414.1 151.1,415.3 C153.7,416.5 156.5,418.1 158.9,419.2 C161.2,420.3 163.5,421.7 165.5,422.0 C167.5,422.2 169.2,421.6 171.0,420.9 C172.8,420.1 174.4,418.6 176.5,417.5 C178.7,416.4 182.8,414.8 184.0,414.2" fill="none" stroke="#000" stroke-width="3.0" stroke-linecap="round" transform="translate(0,1.50)"/><path d="M118.0,433.0 C119.8,433.2 125.4,433.6 129.0,434.1 C132.7,434.6 136.4,435.1 140.1,435.8 C143.8,436.4 148.2,437.2 151.1,438.0 C154.1,438.7 155.5,439.7 157.8,440.2 C160.0,440.6 162.2,440.5 164.4,440.7 C166.6,440.9 168.8,440.9 171.0,441.3 C173.2,441.7 175.5,442.1 177.6,442.9 C179.8,443.8 183.0,445.7 184.0,446.3" fill="none" stroke="#000" stroke-width="3.0" stroke-linecap="round" transform="translate(0,1.50)"/><path d="M118.0,436.9 C119.8,436.9 125.4,436.7 129.0,436.9 C132.7,437.1 136.4,437.4 140.1,438.0 C143.8,438.5 147.8,439.5 151.1,440.2 C154.4,440.8 157.4,441.3 160.0,441.8 C162.5,442.4 164.4,442.9 166.6,443.5 C168.8,444.0 171.0,444.3 173.2,445.2 C175.4,446.0 178.0,446.6 179.8,448.5 C181.6,450.3 183.3,454.9 184.0,456.2" fill="none" stroke="#000" stroke-width="3.0" stroke-linecap="round" transform="translate(0,1.50)"/><path d="M118.0,456.2 C119.5,455.8 123.9,455.1 126.8,454.0 C129.8,452.9 132.9,451.0 135.7,449.6 C138.4,448.1 140.8,446.8 143.4,445.2 C146.0,443.5 148.7,441.5 151.1,439.6 C153.5,437.8 155.5,435.9 157.8,434.1 C160.0,432.3 162.2,429.9 164.4,428.6 C166.6,427.3 168.8,426.9 171.0,426.4 C173.2,425.8 175.5,425.5 177.6,425.3 C179.8,425.0 183.0,424.8 184.0,424.7" fill="none" stroke="#000" stroke-width="3.0" stroke-linecap="round" transform="translate(0,1.50)"/><path d="M118.0,459.5 C119.8,459.5 125.4,459.9 129.0,459.5 C132.7,459.1 136.8,458.6 140.1,457.3 C143.4,456.0 146.3,454.0 148.9,451.8 C151.5,449.6 153.3,446.6 155.5,444.0 C157.8,441.5 160.1,438.3 162.2,436.3 C164.2,434.3 165.9,433.0 167.7,431.9 C169.5,430.8 171.2,430.2 173.2,429.7 C175.2,429.1 178.0,429.0 179.8,428.6 C181.6,428.2 183.3,427.7 184.0,427.5" fill="none" stroke="#000" stroke-width="3.0" stroke-linecap="round" transform="translate(0,1.50)"/><path d="M131.3,459.5 C132.7,458.8 137.1,456.6 140.1,455.1 C143.0,453.6 146.0,452.0 148.9,450.7 C151.9,449.4 154.8,448.1 157.8,447.4 C160.7,446.6 163.6,446.3 166.6,446.3 C169.5,446.3 172.5,446.6 175.4,447.4 C178.3,448.1 182.6,450.1 184.0,450.7" fill="none" stroke="#000" stroke-width="3.0" stroke-linecap="round" transform="translate(0,1.50)"/><path d="M118.0,466.1 C119.8,466.3 125.4,467.2 129.0,467.2 C132.7,467.2 136.4,466.5 140.1,466.1 C143.8,465.8 147.4,465.3 151.1,465.0 C154.8,464.8 158.5,464.7 162.2,464.5 C165.9,464.3 169.6,464.1 173.2,463.9 C176.9,463.7 182.2,463.5 184.0,463.4" fill="none" stroke="#000" stroke-width="3.0" stroke-linecap="round" transform="translate(0,1.50)"/><path d="M129.0,470.0 C130.5,469.0 135.1,465.7 137.9,463.9 C140.6,462.2 142.8,460.8 145.6,459.5 C148.4,458.2 151.7,456.9 154.4,456.2 C157.2,455.5 160.9,455.3 162.2,455.1" fill="none" stroke="#000" stroke-width="3.0" stroke-linecap="round" transform="translate(0,1.50)"/><path d="M172.4,413.1 C173.5,412.6 176.8,411.7 179.0,409.8 C181.3,408.0 183.8,404.3 185.7,402.1 C187.5,399.9 188.6,398.8 190.1,396.6 C191.6,394.4 193.2,391.0 194.5,388.8 C195.8,386.6 196.9,384.8 197.8,383.3 C198.7,381.8 199.7,380.6 200.0,380.0" fill="none" stroke="#000" stroke-width="3.0" stroke-linecap="round" transform="translate(0,1.50)"/><path d="M168.0,414.2 C169.1,414.0 172.4,414.0 174.6,413.1 C176.8,412.2 178.7,410.7 181.3,408.7 C183.8,406.7 187.1,403.6 190.1,401.0 C193.0,398.4 196.0,395.6 198.9,393.3 C201.9,390.9 204.8,388.5 207.8,386.6 C210.7,384.8 213.5,383.2 216.6,382.2 C219.7,381.2 224.9,380.8 226.5,380.6" fill="none" stroke="#000" stroke-width="3.0" stroke-linecap="round" transform="translate(0,1.50)"/><path d="M168.0,416.4 C169.8,416.8 175.7,417.9 179.0,418.6 C182.4,419.4 185.3,420.9 187.9,420.9 C190.5,420.9 192.3,419.8 194.5,418.6 C196.7,417.5 198.6,415.4 201.1,414.2 C203.7,413.0 207.2,412.1 210.0,411.5 C212.7,410.8 214.9,410.6 217.7,410.4 C220.5,410.2 225.1,410.4 226.5,410.4" fill="none" stroke="#000" stroke-width="3.0" stroke-linecap="round" transform="translate(0,1.50)"/><path d="M190.1,423.1 C191.2,422.3 194.3,419.9 196.7,418.6 C199.1,417.4 201.9,416.2 204.4,415.3 C207.0,414.5 209.6,413.9 212.2,413.7 C214.7,413.5 217.5,413.8 219.9,414.2 C222.3,414.7 225.4,416.1 226.5,416.4" fill="none" stroke="#000" stroke-width="3.0" stroke-linecap="round" transform="translate(0,1.50)"/><path d="M184.6,424.2 C185.5,424.5 188.2,425.1 190.1,426.4 C191.9,427.7 193.8,430.1 195.6,431.9 C197.4,433.7 199.5,435.8 201.1,437.4 C202.8,439.1 204.1,440.0 205.5,441.8 C207.0,443.7 208.5,446.3 210.0,448.5 C211.4,450.7 212.7,453.2 214.4,455.1 C216.0,456.9 217.9,458.4 219.9,459.5 C221.9,460.6 225.4,461.3 226.5,461.7" fill="none" stroke="#000" stroke-width="3.0" stroke-linecap="round" transform="translate(0,1.50)"/><path d="M190.1,423.1 C191.2,423.8 194.5,425.5 196.7,427.5 C198.9,429.5 201.1,432.5 203.3,435.2 C205.5,438.0 207.9,441.1 210.0,444.0 C212.0,447.0 213.6,450.3 215.5,452.9 C217.3,455.5 219.2,457.8 221.0,459.5 C222.8,461.2 225.6,462.3 226.5,462.8" fill="none" stroke="#000" stroke-width="3.0" stroke-linecap="round" transform="translate(0,1.50)"/><path d="M192.3,450.7 C193.4,449.6 196.9,446.1 198.9,444.0 C200.9,442.0 202.6,440.5 204.4,438.5 C206.3,436.5 208.1,433.9 210.0,431.9 C211.8,429.9 213.6,428.0 215.5,426.4 C217.3,424.7 219.2,422.5 221.0,422.0 C222.8,421.4 225.6,422.9 226.5,423.1" fill="none" stroke="#000" stroke-width="3.0" stroke-linecap="round" transform="translate(0,1.50)"/><path d="M168.0,430.8 C169.1,430.6 172.4,430.1 174.6,429.7 C176.8,429.3 179.0,429.0 181.3,428.6 C183.5,428.2 186.0,427.9 187.9,427.5 C189.7,427.1 191.6,426.6 192.3,426.4" fill="none" stroke="#000" stroke-width="3.0" stroke-linecap="round" transform="translate(0,1.50)"/><path d="M168.0,441.8 C169.5,441.8 174.1,441.1 176.8,441.8 C179.6,442.6 182.4,444.8 184.6,446.3 C186.8,447.7 188.4,449.4 190.1,450.7 C191.7,452.0 192.7,453.2 194.5,454.0 C196.3,454.8 198.9,455.3 201.1,455.6 C203.3,456.0 205.5,455.9 207.8,456.2 C210.0,456.5 212.2,456.7 214.4,457.3 C216.6,457.8 219.0,459.0 221.0,459.5 C223.0,460.1 225.6,460.4 226.5,460.6" fill="none" stroke="#000" stroke-width="3.0" stroke-linecap="round" transform="translate(0,1.50)"/><path d="M168.0,446.3 C169.1,446.3 172.4,446.1 174.6,446.8 C176.8,447.5 179.4,449.1 181.3,450.7 C183.1,452.2 183.8,455.1 185.7,456.2 C187.5,457.3 189.7,457.1 192.3,457.3 C194.9,457.5 198.2,457.5 201.1,457.3 C204.1,457.1 207.2,456.7 210.0,456.2 C212.7,455.6 214.9,454.6 217.7,454.0 C220.5,453.3 225.1,452.6 226.5,452.3" fill="none" stroke="#000" stroke-width="3.0" stroke-linecap="round" transform="translate(0,1.50)"/><path d="M168.0,463.9 C169.5,463.9 173.9,463.7 176.8,463.9 C179.8,464.1 183.5,465.2 185.7,465.0 C187.9,464.8 188.2,463.7 190.1,462.8 C191.9,461.9 194.3,460.4 196.7,459.5 C199.1,458.6 201.9,457.7 204.4,457.3 C207.0,456.9 209.6,456.9 212.2,457.3 C214.7,457.7 217.5,458.7 219.9,459.5 C222.3,460.3 225.4,461.8 226.5,462.3" fill="none" stroke="#000" stroke-width="3.0" stroke-linecap="round" transform="translate(0,1.50)"/><path d="M194.5,468.3 C195.6,467.6 198.9,465.4 201.1,463.9 C203.3,462.4 205.5,460.8 207.8,459.5 C210.0,458.2 212.2,456.9 214.4,456.2 C216.6,455.5 219.9,455.3 221.0,455.1" fill="none" stroke="#000" stroke-width="3.0" stroke-linecap="round" transform="translate(0,1.50)"/><path d="M212.2,463.9 C213.1,464.5 215.9,466.5 217.7,467.2 C219.5,468.0 221.7,468.2 223.2,468.3 C224.7,468.5 226.0,468.3 226.5,468.3" fill="none" stroke="#000" stroke-width="3.0" stroke-linecap="round" transform="translate(0,1.50)"/><path d="M68.6,462.2 C70.3,462.1 75.4,462.0 78.6,461.7 C81.7,461.3 85.9,460.3 87.4,460.0" fill="none" stroke="#000" stroke-width="3.0" stroke-linecap="round" transform="translate(0,1.50)"/><path d="M68.6,467.7 C71.2,467.2 79.7,465.2 84.1,464.4 C88.5,463.6 90.5,463.1 95.1,462.8 C99.7,462.4 106.2,462.2 111.7,462.2 C117.2,462.2 125.3,462.7 128.0,462.8" fill="none" stroke="#000" stroke-width="3.0" stroke-linecap="round" transform="translate(0,-1.50)"/><path d="M87.4,460.0 C88.3,460.9 91.1,463.7 92.9,465.5 C94.8,467.4 96.6,469.2 98.4,471.0 C100.3,472.9 102.1,474.7 104.0,476.6 C105.8,478.4 107.8,480.6 109.5,482.1 C111.1,483.6 112.2,484.3 113.9,485.4 C115.6,486.5 117.8,487.6 119.4,488.7 C121.1,489.8 122.4,491.1 123.8,492.0 C125.3,492.9 127.3,493.9 128.0,494.2" fill="none" stroke="#000" stroke-width="3.0" stroke-linecap="round" transform="translate(0,1.50)"/><path d="M68.6,474.4 C70.3,474.3 75.1,473.8 78.6,473.8 C82.1,473.8 85.9,474.2 89.6,474.4 C93.3,474.5 97.0,474.7 100.6,474.9 C104.3,475.1 108.0,475.3 111.7,475.5 C115.4,475.6 120.0,475.8 122.7,476.0 C125.5,476.2 127.2,476.5 128.0,476.6" fill="none" stroke="#000" stroke-width="3.0" stroke-linecap="round" transform="translate(0,-1.50)"/><path d="M68.6,477.1 C70.3,477.2 75.1,477.5 78.6,477.7 C82.1,477.9 85.9,478.0 89.6,478.2 C93.3,478.4 97.0,478.5 100.6,478.8 C104.3,479.0 108.0,479.5 111.7,479.9 C115.4,480.2 120.0,480.8 122.7,481.0 C125.5,481.2 127.2,481.0 128.0,481.0" fill="none" stroke="#000" stroke-width="3.0" stroke-linecap="round" transform="translate(0,1.50)"/><path d="M68.6,481.0 C70.3,481.5 75.1,483.6 78.6,484.3 C82.1,485.0 85.9,485.1 89.6,485.4 C93.3,485.7 97.0,485.8 100.6,485.9 C104.3,486.1 108.0,486.2 111.7,486.5 C115.4,486.8 120.0,487.2 122.7,487.6 C125.5,488.0 127.2,488.5 128.0,488.7" fill="none" stroke="#000" stroke-width="3.0" stroke-linecap="round" transform="translate(0,1.50)"/><path d="M68.6,479.9 C69.7,480.2 72.7,480.6 75.3,481.5 C77.8,482.5 80.8,484.4 84.1,485.4 C87.4,486.4 91.4,487.1 95.1,487.6 C98.8,488.2 102.5,488.6 106.2,488.7 C109.9,488.8 113.6,488.4 117.2,488.2 C120.9,487.9 126.2,487.2 128.0,487.1" fill="none" stroke="#000" stroke-width="3.0" stroke-linecap="round" transform="translate(0,1.50)"/><path d="M68.6,489.8 C69.7,489.6 73.0,488.3 75.3,488.7 C77.5,489.1 79.9,490.4 81.9,492.0 C83.9,493.7 85.4,496.3 87.4,498.6 C89.4,501.0 92.0,504.0 94.0,506.4 C96.0,508.8 97.7,510.8 99.5,513.0 C101.4,515.2 103.2,517.6 105.1,519.6 C106.9,521.7 108.6,523.5 110.6,525.2 C112.6,526.8 115.0,528.6 117.2,529.6 C119.4,530.5 122.0,530.7 123.8,530.7 C125.6,530.7 127.3,529.8 128.0,529.6" fill="none" stroke="#000" stroke-width="3.0" stroke-linecap="round" transform="translate(0,1.50)"/><path d="M68.6,537.3 C69.7,536.9 73.0,536.6 75.3,535.1 C77.5,533.6 79.7,530.9 81.9,528.5 C84.1,526.1 86.3,523.3 88.5,520.7 C90.7,518.2 93.1,515.4 95.1,513.0 C97.2,510.6 98.8,508.8 100.6,506.4 C102.5,504.0 104.3,501.0 106.2,498.6 C108.0,496.3 109.9,493.9 111.7,492.0 C113.5,490.2 115.2,488.5 117.2,487.6 C119.2,486.7 122.0,486.8 123.8,486.5 C125.6,486.2 127.3,486.0 128.0,485.9" fill="none" stroke="#000" stroke-width="3.0" stroke-linecap="round" transform="translate(0,1.50)"/><path d="M68.6,549.4 C70.3,547.8 75.4,543.0 78.6,539.5 C81.7,536.0 84.8,532.0 87.4,528.5 C90.0,525.0 92.2,521.1 94.0,518.5 C95.9,515.9 96.8,514.5 98.4,513.0 C100.1,511.5 102.1,510.6 104.0,509.7 C105.8,508.8 107.6,508.0 109.5,507.5 C111.3,506.9 113.0,506.6 115.0,506.4 C117.0,506.2 119.5,506.2 121.6,506.4 C123.8,506.6 127.0,507.3 128.0,507.5" fill="none" stroke="#000" stroke-width="3.0" stroke-linecap="round" transform="translate(0,1.50)"/><path d="M107.3,519.6 C108.2,518.3 111.0,513.7 112.8,511.9 C114.6,510.1 116.3,509.3 118.3,508.6 C120.3,507.9 123.3,507.7 124.9,507.5 C126.6,507.3 127.5,507.5 128.0,507.5" fill="none" stroke="#000" stroke-width="3.0" stroke-linecap="round" transform="translate(0,1.50)"/><path d="M104.0,550.0 C105.1,549.0 108.4,545.5 110.6,543.9 C112.8,542.4 115.0,541.3 117.2,540.6 C119.4,539.9 122.0,539.7 123.8,539.5 C125.6,539.3 127.3,539.5 128.0,539.5" fill="none" stroke="#000" stroke-width="3.0" stroke-linecap="round" transform="translate(0,1.50)"/><path d="M115.0,537.3 C116.1,536.9 119.5,535.8 121.6,535.1 C123.8,534.4 127.0,533.2 128.0,532.9" fill="none" stroke="#000" stroke-width="3.0" stroke-linecap="round" transform="translate(0,1.50)"/><path d="M90.7,550.0 C92.0,547.9 96.2,540.7 98.4,537.3 C100.6,533.9 102.3,531.4 104.0,529.6 C105.6,527.7 106.7,527.0 108.4,526.3 C110.0,525.5 111.9,525.0 113.9,525.2 C115.9,525.3 118.2,526.8 120.5,527.4 C122.9,527.9 126.8,528.3 128.0,528.5" fill="none" stroke="#000" stroke-width="3.0" stroke-linecap="round" transform="translate(0,1.50)"/><path d="M118.0,461.1 C119.5,461.2 124.1,461.5 126.8,461.7 C129.6,461.8 132.4,462.5 134.6,462.2 C136.8,461.9 139.2,460.4 140.1,460.0" fill="none" stroke="#000" stroke-width="3.0" stroke-linecap="round" transform="translate(0,1.50)"/><path d="M118.0,465.0 C119.8,464.9 125.4,464.2 129.0,464.4 C132.7,464.6 136.8,465.5 140.1,466.1 C143.4,466.6 146.0,467.6 148.9,467.7 C151.9,467.8 154.6,467.1 157.8,466.6 C160.9,466.2 164.6,465.3 167.7,465.0 C170.8,464.6 173.8,464.4 176.5,464.4 C179.2,464.4 182.8,464.9 184.0,465.0" fill="none" stroke="#000" stroke-width="3.0" stroke-linecap="round" transform="translate(0,-1.50)"/><path d="M124.6,474.4 C126.3,474.2 131.1,473.6 134.6,473.3 C138.1,472.9 142.3,472.0 145.6,472.1 C148.9,472.3 151.7,473.4 154.4,474.4 C157.2,475.3 159.8,476.7 162.2,477.7 C164.6,478.6 166.6,479.6 168.8,479.9 C171.0,480.2 172.9,480.2 175.4,479.3 C178.0,478.4 182.6,475.2 184.0,474.4" fill="none" stroke="#000" stroke-width="3.0" stroke-linecap="round" transform="translate(0,1.50)"/><path d="M118.0,477.7 C119.8,477.5 125.4,476.4 129.0,476.6 C132.7,476.7 136.4,477.9 140.1,478.8 C143.8,479.7 147.8,481.0 151.1,482.1 C154.4,483.2 157.2,484.6 160.0,485.4 C162.7,486.2 165.1,486.8 167.7,487.1 C170.3,487.3 172.7,487.5 175.4,487.1 C178.1,486.6 182.6,484.8 184.0,484.3" fill="none" stroke="#000" stroke-width="3.0" stroke-linecap="round" transform="translate(0,1.50)"/><path d="M118.0,485.4 C119.8,485.1 125.4,483.6 129.0,483.7 C132.7,483.8 136.4,485.0 140.1,485.9 C143.8,486.9 147.4,488.3 151.1,489.3 C154.8,490.3 159.0,491.4 162.2,492.0 C165.3,492.7 167.3,493.1 169.9,493.1 C172.5,493.1 175.3,492.4 177.6,492.0 C180.0,491.7 183.0,491.1 184.0,490.9" fill="none" stroke="#000" stroke-width="3.0" stroke-linecap="round" transform="translate(0,1.50)"/><path d="M118.0,495.3 C119.8,495.3 125.4,495.5 129.0,495.3 C132.7,495.2 136.4,494.6 140.1,494.2 C143.8,493.9 147.4,493.5 151.1,493.1 C154.8,492.8 158.9,492.0 162.2,492.0 C165.5,492.0 168.1,492.6 171.0,493.1 C173.9,493.7 177.7,495.0 179.8,495.3 C182.0,495.7 183.3,495.3 184.0,495.3" fill="none" stroke="#000" stroke-width="3.0" stroke-linecap="round" transform="translate(0,1.50)"/><path d="M118.0,497.5 C119.8,497.6 125.4,497.9 129.0,498.1 C132.7,498.3 136.4,498.6 140.1,498.6 C143.8,498.6 147.4,498.3 151.1,498.1 C154.8,497.9 158.9,497.6 162.2,497.5 C165.5,497.5 168.1,497.4 171.0,497.5 C173.9,497.7 177.7,497.9 179.8,498.6 C182.0,499.4 183.3,501.4 184.0,502.0" fill="none" stroke="#000" stroke-width="3.0" stroke-linecap="round" transform="translate(0,1.50)"/><path d="M124.6,483.2 C125.4,484.3 127.6,487.6 129.0,489.8 C130.5,492.0 132.0,494.2 133.5,496.4 C134.9,498.6 136.4,501.0 137.9,503.1 C139.3,505.1 141.0,507.1 142.3,508.6 C143.6,510.1 144.5,511.5 145.6,511.9 C146.7,512.3 147.4,511.7 148.9,510.8 C150.4,509.9 152.2,507.7 154.4,506.4 C156.6,505.1 159.6,504.0 162.2,503.1 C164.7,502.1 167.3,501.0 169.9,500.9 C172.5,500.7 175.3,501.2 177.6,502.0 C180.0,502.7 183.0,504.7 184.0,505.3" fill="none" stroke="#000" stroke-width="3.0" stroke-linecap="round" transform="translate(0,1.50)"/><path d="M118.0,506.4 C119.8,506.4 125.4,506.0 129.0,506.4 C132.7,506.7 137.3,507.7 140.1,508.6 C142.8,509.5 144.7,511.3 145.6,511.9" fill="none" stroke="#000" stroke-width="3.0" stroke-linecap="round" transform="translate(0,1.50)"/><path d="M118.0,509.7 C119.8,509.6 125.4,509.2 129.0,509.1 C132.7,509.0 136.8,509.1 140.1,509.1 C143.4,509.1 146.0,509.6 148.9,509.1 C151.9,508.7 154.8,507.2 157.8,506.4 C160.7,505.5 163.6,504.4 166.6,504.2 C169.5,504.0 172.5,504.4 175.4,505.3 C178.3,506.2 182.6,509.0 184.0,509.7" fill="none" stroke="#000" stroke-width="3.0" stroke-linecap="round" transform="translate(0,1.50)"/><path d="M118.0,528.5 C119.8,528.3 125.4,528.5 129.0,527.4 C132.7,526.3 137.1,523.1 140.1,521.8 C143.0,520.5 144.5,519.6 146.7,519.6 C148.9,519.6 151.1,520.7 153.3,521.8 C155.5,522.9 157.8,524.6 160.0,526.3 C162.2,527.9 164.4,530.1 166.6,531.8 C168.8,533.4 170.3,535.5 173.2,536.2 C176.1,536.9 182.2,536.2 184.0,536.2" fill="none" stroke="#000" stroke-width="3.0" stroke-linecap="round" transform="translate(0,1.50)"/><path d="M118.0,537.3 C119.1,537.1 122.4,536.9 124.6,536.2 C126.8,535.5 129.0,534.5 131.3,532.9 C133.5,531.2 135.7,527.9 137.9,526.3 C140.1,524.6 142.5,523.3 144.5,522.9 C146.5,522.6 148.4,522.9 150.0,524.0 C151.7,525.2 153.0,527.5 154.4,529.6 C155.9,531.6 157.4,534.0 158.9,536.2 C160.3,538.4 162.0,540.8 163.3,542.8 C164.6,544.8 165.7,547.1 166.6,548.3 C167.5,549.5 168.4,549.7 168.8,550.0" fill="none" stroke="#000" stroke-width="3.0" stroke-linecap="round" transform="translate(0,1.50)"/><path d="M118.0,540.6 C119.1,540.4 122.4,539.3 124.6,539.5 C126.8,539.7 129.0,540.6 131.3,541.7 C133.5,542.8 136.0,544.8 137.9,546.1 C139.7,547.5 141.6,549.4 142.3,550.0" fill="none" stroke="#000" stroke-width="3.0" stroke-linecap="round" transform="translate(0,1.50)"/><path d="M173.2,536.2 C173.9,535.6 175.8,534.2 177.6,532.9 C179.4,531.6 183.0,529.2 184.0,528.5" fill="none" stroke="#000" stroke-width="3.0" stroke-linecap="round" transform="translate(0,1.50)"/><path d="M166.6,548.3 C167.3,548.2 169.3,547.6 171.0,547.2 C172.7,546.9 174.4,546.1 176.5,546.1 C178.7,546.1 182.8,547.1 184.0,547.2" fill="none" stroke="#000" stroke-width="3.0" stroke-linecap="round" transform="translate(0,1.50)"/><path d="M168.0,464.4 C169.5,464.5 173.9,464.8 176.8,465.0 C179.8,465.2 183.5,465.6 185.7,465.5 C187.9,465.4 188.4,465.0 190.1,464.4 C191.7,463.9 193.9,462.9 195.6,462.2 C197.3,461.5 199.3,460.4 200.0,460.0" fill="none" stroke="#000" stroke-width="3.0" stroke-linecap="round" transform="translate(0,1.50)"/><path d="M168.0,477.7 C169.5,477.9 174.1,479.1 176.8,478.8 C179.6,478.4 182.0,476.4 184.6,475.5 C187.1,474.5 189.5,473.7 192.3,473.3 C195.1,472.8 198.2,472.7 201.1,472.7 C204.1,472.7 207.2,472.8 210.0,473.3 C212.7,473.7 214.9,474.7 217.7,475.5 C220.5,476.2 225.1,477.3 226.5,477.7" fill="none" stroke="#000" stroke-width="3.0" stroke-linecap="round" transform="translate(0,-1.50)"/><path d="M168.0,483.2 C169.1,483.0 172.4,482.6 174.6,482.1 C176.8,481.5 179.0,480.8 181.3,479.9 C183.5,479.0 185.9,477.9 187.9,476.6 C189.9,475.3 191.6,473.6 193.4,472.1 C195.2,470.7 197.1,469.2 198.9,467.7 C200.8,466.3 203.0,464.6 204.4,463.3 C205.9,462.0 207.2,460.6 207.8,460.0" fill="none" stroke="#000" stroke-width="3.0" stroke-linecap="round" transform="translate(0,1.50)"/><path d="M168.0,485.4 C169.1,485.6 172.4,486.7 174.6,486.5 C176.8,486.3 179.2,485.0 181.3,484.3 C183.3,483.6 185.1,482.5 186.8,482.1 C188.4,481.7 189.7,481.3 191.2,482.1 C192.7,482.8 194.1,484.7 195.6,486.5 C197.1,488.3 198.9,491.5 200.0,493.1 C201.1,494.8 201.3,496.1 202.2,496.4 C203.2,496.8 204.3,496.3 205.5,495.3 C206.8,494.4 208.3,492.2 210.0,490.9 C211.6,489.6 213.6,488.5 215.5,487.6 C217.3,486.7 219.2,485.9 221.0,485.4 C222.8,484.8 225.6,484.5 226.5,484.3" fill="none" stroke="#000" stroke-width="3.0" stroke-linecap="round" transform="translate(0,1.50)"/><path d="M179.0,489.8 C180.1,490.1 183.3,490.9 185.7,491.5 C188.1,492.0 190.8,493.0 193.4,493.1 C196.0,493.2 198.6,492.6 201.1,492.0 C203.7,491.5 206.5,490.9 208.9,489.8 C211.2,488.7 213.5,486.7 215.5,485.4 C217.5,484.1 219.2,483.0 221.0,482.1 C222.8,481.2 225.6,480.2 226.5,479.9" fill="none" stroke="#000" stroke-width="3.0" stroke-linecap="round" transform="translate(0,1.50)"/><path d="M179.0,494.2 C181.8,493.9 191.0,492.9 195.6,492.0 C200.2,491.1 204.8,489.3 206.6,488.7" fill="none" stroke="#000" stroke-width="3.0" stroke-linecap="round" transform="translate(0,1.50)"/><path d="M168.0,497.5 C169.1,497.6 172.4,497.4 174.6,498.1 C176.8,498.8 179.0,500.6 181.3,502.0 C183.5,503.3 185.7,505.5 187.9,506.4 C190.1,507.3 192.5,507.9 194.5,507.5 C196.5,507.1 198.6,504.5 200.0,504.2 C201.5,503.8 202.2,504.0 203.3,505.3 C204.4,506.6 205.5,509.9 206.6,511.9 C207.8,513.9 208.7,515.4 210.0,517.4 C211.2,519.4 212.9,521.8 214.4,524.0 C215.9,526.3 217.3,528.6 218.8,530.7 C220.3,532.7 221.9,534.9 223.2,536.2 C224.5,537.5 226.0,538.0 226.5,538.4" fill="none" stroke="#000" stroke-width="3.0" stroke-linecap="round" transform="translate(0,1.50)"/><path d="M168.0,505.3 C169.1,505.5 172.8,505.5 174.6,506.4 C176.5,507.3 177.6,508.8 179.0,510.8 C180.5,512.8 182.0,516.1 183.5,518.5 C184.9,520.9 186.4,523.5 187.9,525.2 C189.3,526.8 190.8,527.4 192.3,528.5 C193.8,529.6 195.2,530.7 196.7,531.8 C198.2,532.9 199.7,533.8 201.1,535.1 C202.6,536.4 204.1,538.0 205.5,539.5 C207.0,541.0 208.5,542.4 210.0,543.9 C211.4,545.4 213.6,547.6 214.4,548.3" fill="none" stroke="#000" stroke-width="3.0" stroke-linecap="round" transform="translate(0,1.50)"/><path d="M168.0,535.1 C169.1,535.5 172.4,537.3 174.6,537.3 C176.8,537.3 179.0,536.6 181.3,535.1 C183.5,533.6 186.0,530.1 187.9,528.5 C189.7,526.8 190.8,525.9 192.3,525.2 C193.8,524.4 195.2,524.6 196.7,524.0 C198.2,523.5 199.7,522.8 201.1,521.8 C202.6,520.9 204.1,520.0 205.5,518.5 C207.0,517.1 208.5,515.0 210.0,513.0 C211.4,511.0 212.9,508.6 214.4,506.4 C215.9,504.2 217.3,502.1 218.8,499.8 C220.3,497.4 221.9,493.9 223.2,492.0 C224.5,490.2 226.0,489.3 226.5,488.7" fill="none" stroke="#000" stroke-width="3.0" stroke-linecap="round" transform="translate(0,1.50)"/><path d="M184.6,515.2 C185.5,515.9 188.1,518.5 190.1,519.6 C192.1,520.7 194.9,521.7 196.7,521.8 C198.6,522.0 199.7,521.7 201.1,520.7 C202.6,519.8 204.1,518.2 205.5,516.3 C207.0,514.5 208.5,511.9 210.0,509.7 C211.4,507.5 212.9,505.3 214.4,503.1 C215.9,500.9 217.3,498.5 218.8,496.4 C220.3,494.4 222.5,491.8 223.2,490.9" fill="none" stroke="#000" stroke-width="3.0" stroke-linecap="round" transform="translate(0,1.50)"/><path d="M179.0,550.0 C180.0,549.0 182.7,546.0 184.6,543.9 C186.4,541.8 188.2,539.5 190.1,537.3 C191.9,535.1 193.8,532.7 195.6,530.7 C197.4,528.6 199.3,526.8 201.1,525.2 C203.0,523.5 205.7,521.5 206.6,520.7" fill="none" stroke="#000" stroke-width="3.0" stroke-linecap="round" transform="translate(0,1.50)"/><path d="M190.1,550.0 C190.8,549.0 193.0,545.9 194.5,543.9 C196.0,542.0 197.4,540.2 198.9,538.4 C200.4,536.6 201.9,534.5 203.3,532.9 C204.8,531.2 207.0,529.2 207.8,528.5" fill="none" stroke="#000" stroke-width="3.0" stroke-linecap="round" transform="translate(0,1.50)"/><path d="M195.6,528.5 C196.5,529.6 199.7,533.1 201.1,535.1 C202.6,537.1 203.3,538.8 204.4,540.6 C205.5,542.4 206.8,544.6 207.8,546.1 C208.7,547.7 209.6,549.4 210.0,550.0" fill="none" stroke="#000" stroke-width="3.0" stroke-linecap="round" transform="translate(0,1.50)"/><path d="M206.6,528.5 C207.6,529.4 210.3,532.1 212.2,534.0 C214.0,535.8 215.9,537.7 217.7,539.5 C219.5,541.3 221.7,543.6 223.2,545.0 C224.7,546.5 226.0,547.8 226.5,548.3" fill="none" stroke="#000" stroke-width="3.0" stroke-linecap="round" transform="translate(0,1.50)"/><path d="M217.7,460.0 C218.2,460.6 219.5,462.2 221.0,463.3 C222.5,464.4 225.6,466.1 226.5,466.6" fill="none" stroke="#000" stroke-width="3.0" stroke-linecap="round" transform="translate(0,1.50)"/><path d="M168.0,547.2 C169.1,547.2 172.8,547.1 174.6,547.2 C176.5,547.4 178.3,548.2 179.0,548.3" fill="none" stroke="#000" stroke-width="3.0" stroke-linecap="round" transform="translate(0,1.50)"/><path d="M79.7,540.0 C78.6,541.1 74.9,544.8 73.0,546.6 C71.2,548.5 69.4,550.3 68.6,551.0" fill="none" stroke="#000" stroke-width="3.0" stroke-linecap="round" transform="translate(0,1.50)"/><path d="M68.6,551.0 C69.4,551.3 71.4,552.1 73.0,552.7 C74.7,553.3 76.7,554.6 78.6,554.9 C80.4,555.2 82.2,555.0 84.1,554.4 C85.9,553.7 87.8,552.5 89.6,551.0 C91.4,549.6 93.7,547.4 95.1,545.5 C96.6,543.7 97.9,540.9 98.4,540.0" fill="none" stroke="#000" stroke-width="3.0" stroke-linecap="round" transform="translate(0,1.50)"/><path d="M68.6,555.5 C69.4,556.4 71.6,559.0 73.0,561.0 C74.5,563.0 76.0,565.6 77.5,567.6 C78.9,569.6 80.4,571.5 81.9,573.1 C83.3,574.8 84.5,575.9 86.3,577.5 C88.1,579.2 90.7,581.6 92.9,583.1 C95.1,584.5 97.3,585.4 99.5,586.4 C101.8,587.4 104.0,588.4 106.2,589.1 C108.4,589.9 110.4,590.4 112.8,590.8 C115.2,591.2 118.0,591.3 120.5,591.3 C123.1,591.4 126.8,591.3 128.0,591.3" fill="none" stroke="#000" stroke-width="3.0" stroke-linecap="round" transform="translate(0,1.50)"/><path d="M68.6,573.1 C69.7,572.6 73.0,571.1 75.3,569.8 C77.5,568.5 79.7,566.7 81.9,565.4 C84.1,564.1 86.3,563.2 88.5,562.1 C90.7,561.0 92.9,560.1 95.1,558.8 C97.3,557.5 99.5,556.0 101.8,554.4 C104.0,552.7 106.4,550.5 108.4,548.8 C110.4,547.2 112.1,545.6 113.9,544.4 C115.7,543.2 117.8,542.0 119.4,541.7 C121.1,541.3 122.4,541.7 123.8,542.2 C125.3,542.7 127.3,544.0 128.0,544.4" fill="none" stroke="#000" stroke-width="3.0" stroke-linecap="round" transform="translate(0,1.50)"/><path d="M68.6,577.5 C69.7,577.4 73.0,577.2 75.3,576.4 C77.5,575.7 79.7,574.4 81.9,573.1 C84.1,571.8 86.3,570.2 88.5,568.7 C90.7,567.2 92.9,565.9 95.1,564.3 C97.3,562.6 99.5,560.6 101.8,558.8 C104.0,556.9 106.2,555.1 108.4,553.3 C110.6,551.4 113.0,549.4 115.0,547.7 C117.0,546.1 118.4,544.6 120.5,543.3 C122.7,542.0 126.8,540.6 128.0,540.0" fill="none" stroke="#000" stroke-width="3.0" stroke-linecap="round" transform="translate(0,1.50)"/><path d="M68.6,582.0 C69.7,581.8 72.7,581.6 75.3,580.9 C77.8,580.1 82.6,578.1 84.1,577.5" fill="none" stroke="#000" stroke-width="3.0" stroke-linecap="round" transform="translate(0,1.50)"/><path d="M68.6,585.3 C69.7,586.0 73.0,588.0 75.3,589.7 C77.5,591.3 79.7,593.4 81.9,595.2 C84.1,597.1 86.3,598.9 88.5,600.7 C90.7,602.6 92.9,604.4 95.1,606.3 C97.3,608.1 99.5,610.1 101.8,611.8 C104.0,613.4 106.2,615.1 108.4,616.2 C110.6,617.3 112.8,617.8 115.0,618.4 C117.2,619.0 119.5,619.1 121.6,619.5 C123.8,619.9 127.0,620.4 128.0,620.6" fill="none" stroke="#000" stroke-width="3.0" stroke-linecap="round" transform="translate(0,1.50)"/><path d="M68.6,590.8 C69.7,591.0 72.7,590.8 75.3,591.9 C77.8,593.0 81.1,595.6 84.1,597.4 C87.0,599.3 90.0,601.1 92.9,602.9 C95.9,604.8 98.8,606.4 101.8,608.5 C104.7,610.5 108.0,613.2 110.6,615.1 C113.2,616.9 115.0,618.4 117.2,619.5 C119.4,620.6 122.0,621.0 123.8,621.7 C125.6,622.4 127.3,623.6 128.0,623.9" fill="none" stroke="#000" stroke-width="3.0" stroke-linecap="round" transform="translate(0,1.50)"/><path d="M84.1,575.3 C85.0,576.4 87.8,579.6 89.6,582.0 C91.4,584.4 93.3,587.1 95.1,589.7 C97.0,592.3 98.8,595.2 100.6,597.4 C102.5,599.6 104.3,601.5 106.2,602.9 C108.0,604.4 109.5,605.3 111.7,606.3 C113.9,607.2 116.7,608.0 119.4,608.5 C122.1,608.9 126.6,608.9 128.0,609.0" fill="none" stroke="#000" stroke-width="3.0" stroke-linecap="round" transform="translate(0,1.50)"/><path d="M68.6,623.9 C70.3,623.9 75.1,624.0 78.6,623.9 C82.1,623.8 85.9,623.6 89.6,623.4 C93.3,623.2 97.0,623.0 100.6,622.8 C104.3,622.6 108.0,622.4 111.7,622.3 C115.4,622.2 120.0,622.3 122.7,622.3 C125.5,622.3 127.2,622.3 128.0,622.3" fill="none" stroke="#000" stroke-width="3.0" stroke-linecap="round" transform="translate(0,1.50)"/><path d="M68.6,627.2 C70.3,627.2 75.1,627.4 78.6,627.2 C82.1,627.1 85.9,626.4 89.6,626.1 C93.3,625.9 97.0,625.8 100.6,625.6 C104.3,625.4 107.1,625.1 111.7,625.0 C116.3,624.9 125.3,625.0 128.0,625.0" fill="none" stroke="#000" stroke-width="3.0" stroke-linecap="round" transform="translate(0,1.50)"/><path d="M120.5,617.3 C121.3,616.7 123.7,614.9 124.9,614.0 C126.2,613.1 127.5,612.1 128.0,611.8" fill="none" stroke="#000" stroke-width="3.0" stroke-linecap="round" transform="translate(0,1.50)"/><path d="M118.0,542.2 C119.8,542.4 125.4,542.0 129.0,543.3 C132.7,544.6 136.4,547.7 140.1,549.9 C143.8,552.1 148.2,555.5 151.1,556.6 C154.1,557.7 155.5,557.3 157.8,556.6 C160.0,555.8 162.4,553.4 164.4,552.1 C166.4,550.9 168.1,549.6 169.9,548.8 C171.7,548.1 173.6,547.7 175.4,547.7 C177.3,547.7 179.5,548.3 180.9,548.8 C182.4,549.4 183.5,550.7 184.0,551.0" fill="none" stroke="#000" stroke-width="3.0" stroke-linecap="round" transform="translate(0,1.50)"/><path d="M122.4,540.0 C123.5,541.3 126.8,545.3 129.0,547.7 C131.3,550.1 133.5,552.1 135.7,554.4 C137.9,556.6 140.1,558.8 142.3,561.0 C144.5,563.2 146.9,565.8 148.9,567.6 C150.9,569.4 152.6,570.7 154.4,572.0 C156.3,573.3 157.9,573.7 160.0,575.3 C162.0,577.0 164.7,580.3 166.6,582.0 C168.4,583.6 169.3,584.4 171.0,585.3 C172.7,586.2 174.4,586.9 176.5,587.5 C178.7,588.0 182.8,588.4 184.0,588.6" fill="none" stroke="#000" stroke-width="3.0" stroke-linecap="round" transform="translate(0,1.50)"/><path d="M160.0,540.0 C160.7,540.9 162.9,543.7 164.4,545.5 C165.9,547.4 167.3,549.2 168.8,551.0 C170.3,552.9 171.6,554.4 173.2,556.6 C174.9,558.8 176.9,561.9 178.7,564.3 C180.5,566.7 183.2,569.8 184.0,570.9" fill="none" stroke="#000" stroke-width="3.0" stroke-linecap="round" transform="translate(0,1.50)"/><path d="M118.0,589.7 C119.5,589.7 124.1,590.2 126.8,589.7 C129.6,589.1 132.2,587.9 134.6,586.4 C137.0,584.9 139.2,582.5 141.2,580.9 C143.2,579.2 144.7,577.7 146.7,576.4 C148.7,575.2 151.1,573.7 153.3,573.1 C155.5,572.6 157.8,572.9 160.0,573.1 C162.2,573.3 164.4,573.9 166.6,574.2 C168.8,574.6 171.4,575.3 173.2,575.3 C175.1,575.3 175.8,575.3 177.6,574.2 C179.4,573.1 183.0,569.6 184.0,568.7" fill="none" stroke="#000" stroke-width="3.0" stroke-linecap="round" transform="translate(0,1.50)"/><path d="M160.0,574.2 C161.1,574.5 164.4,575.4 166.6,575.9 C168.8,576.3 171.4,576.9 173.2,577.0 C175.1,577.1 176.9,576.5 177.6,576.4" fill="none" stroke="#000" stroke-width="3.0" stroke-linecap="round" transform="translate(0,1.50)"/><path d="M129.0,617.3 C130.0,615.8 132.7,611.2 134.6,608.5 C136.4,605.7 138.1,603.5 140.1,600.7 C142.1,598.0 144.5,594.8 146.7,591.9 C148.9,589.0 151.3,585.6 153.3,583.1 C155.4,580.5 157.0,578.8 158.9,576.4 C160.7,574.0 162.5,571.3 164.4,568.7 C166.2,566.1 168.1,563.6 169.9,561.0 C171.7,558.4 173.8,555.6 175.4,553.3 C177.1,550.9 178.4,548.5 179.8,546.6 C181.3,544.8 183.3,542.9 184.0,542.2" fill="none" stroke="#000" stroke-width="3.0" stroke-linecap="round" transform="translate(0,1.50)"/><path d="M118.0,608.5 C119.8,608.5 126.1,608.8 129.0,608.5 C132.0,608.1 133.3,607.4 135.7,606.3 C138.1,605.2 140.8,603.3 143.4,601.8 C146.0,600.4 148.6,598.9 151.1,597.4 C153.7,595.9 156.3,594.5 158.9,593.0 C161.4,591.5 164.2,589.7 166.6,588.6 C169.0,587.5 171.0,587.1 173.2,586.4 C175.4,585.6 178.0,584.9 179.8,584.2 C181.6,583.4 183.3,582.3 184.0,582.0" fill="none" stroke="#000" stroke-width="3.0" stroke-linecap="round" transform="translate(0,1.50)"/><path d="M118.0,619.5 C119.5,619.1 123.9,618.2 126.8,617.3 C129.8,616.4 132.7,615.5 135.7,614.0 C138.6,612.5 141.6,610.3 144.5,608.5 C147.4,606.6 150.4,604.8 153.3,602.9 C156.3,601.1 159.6,599.1 162.2,597.4 C164.7,595.8 166.6,594.1 168.8,593.0 C171.0,591.9 174.3,591.2 175.4,590.8" fill="none" stroke="#000" stroke-width="3.0" stroke-linecap="round" transform="translate(0,1.50)"/><path d="M118.0,621.7 C119.5,621.3 123.9,619.9 126.8,619.5 C129.8,619.1 132.7,619.1 135.7,619.5 C138.6,619.9 141.6,621.0 144.5,621.7 C147.4,622.4 150.4,623.3 153.3,623.9 C156.3,624.6 159.2,625.2 162.2,625.6 C165.1,625.9 168.4,626.2 171.0,626.1 C173.6,626.0 175.5,625.8 177.6,625.0 C179.8,624.3 183.0,622.3 184.0,621.7" fill="none" stroke="#000" stroke-width="3.0" stroke-linecap="round" transform="translate(0,1.50)"/><path d="M173.2,590.8 C173.8,591.5 175.4,593.6 176.5,595.2 C177.6,596.9 178.6,598.7 179.8,600.7 C181.1,602.8 183.3,606.3 184.0,607.4" fill="none" stroke="#000" stroke-width="3.0" stroke-linecap="round" transform="translate(0,1.50)"/><path d="M118.0,627.2 C119.1,627.4 122.4,627.9 124.6,628.3 C126.8,628.8 130.1,629.7 131.3,630.0" fill="none" stroke="#000" stroke-width="3.0" stroke-linecap="round" transform="translate(0,1.50)"/><path d="M168.0,549.9 C168.7,549.8 170.9,549.1 172.4,548.8 C173.9,548.6 175.4,548.0 176.8,548.3 C178.3,548.6 179.8,549.8 181.3,550.5 C182.7,551.1 184.2,552.2 185.7,552.1 C187.1,552.1 188.6,551.0 190.1,549.9 C191.6,548.8 193.2,547.0 194.5,545.5 C195.8,544.0 197.1,542.0 197.8,541.1 C198.6,540.2 198.7,540.2 198.9,540.0" fill="none" stroke="#000" stroke-width="3.0" stroke-linecap="round" transform="translate(0,1.50)"/><path d="M168.0,547.7 C169.1,547.5 172.8,546.6 174.6,546.6 C176.5,546.6 178.3,547.5 179.0,547.7" fill="none" stroke="#000" stroke-width="3.0" stroke-linecap="round" transform="translate(0,1.50)"/><path d="M186.8,540.0 C186.0,540.7 183.8,542.8 182.4,544.4 C180.9,546.1 179.4,548.1 177.9,549.9 C176.5,551.8 174.8,554.0 173.5,555.5 C172.2,556.9 171.1,558.0 170.2,558.8 C169.3,559.5 168.4,559.7 168.0,559.9" fill="none" stroke="#000" stroke-width="3.0" stroke-linecap="round" transform="translate(0,1.50)"/><path d="M198.9,540.0 C199.5,541.1 201.1,544.6 202.2,546.6 C203.3,548.6 204.4,550.3 205.5,552.1 C206.6,554.0 207.8,556.0 208.9,557.7 C210.0,559.3 211.1,560.6 212.2,562.1 C213.3,563.6 214.4,564.8 215.5,566.5 C216.6,568.2 217.7,570.4 218.8,572.0 C219.9,573.7 220.8,575.3 222.1,576.4 C223.4,577.5 225.8,578.3 226.5,578.6" fill="none" stroke="#000" stroke-width="3.0" stroke-linecap="round" transform="translate(0,1.50)"/><path d="M212.2,540.0 C212.9,540.7 215.1,542.9 216.6,544.4 C218.1,545.9 219.7,547.7 221.0,548.8 C222.3,549.9 223.4,550.5 224.3,551.0 C225.2,551.6 226.2,552.0 226.5,552.1" fill="none" stroke="#000" stroke-width="3.0" stroke-linecap="round" transform="translate(0,1.50)"/><path d="M168.0,554.4 C168.7,554.7 170.9,555.3 172.4,556.6 C173.9,557.9 175.4,560.2 176.8,562.1 C178.3,563.9 179.8,567.4 181.3,567.6 C182.7,567.8 184.2,564.3 185.7,563.2 C187.1,562.1 188.2,561.3 190.1,561.0 C191.9,560.7 194.5,561.3 196.7,561.5 C198.9,561.7 201.1,561.7 203.3,562.1 C205.5,562.5 207.9,563.0 210.0,563.7 C212.0,564.5 213.6,565.5 215.5,566.5 C217.3,567.5 219.2,568.7 221.0,569.8 C222.8,570.9 225.6,572.6 226.5,573.1" fill="none" stroke="#000" stroke-width="3.0" stroke-linecap="round" transform="translate(0,1.50)"/><path d="M168.0,576.4 C169.1,576.4 172.8,577.0 174.6,576.4 C176.5,575.9 177.8,574.4 179.0,573.1 C180.3,571.8 181.3,570.0 182.4,568.7 C183.5,567.4 185.1,565.9 185.7,565.4" fill="none" stroke="#000" stroke-width="3.0" stroke-linecap="round" transform="translate(0,1.50)"/><path d="M168.0,584.2 C169.1,584.0 172.4,583.6 174.6,583.1 C176.8,582.5 179.0,581.6 181.3,580.9 C183.5,580.1 185.5,579.4 187.9,578.6 C190.3,577.9 193.0,577.0 195.6,576.4 C198.2,575.9 200.6,575.7 203.3,575.3 C206.1,575.0 209.8,574.6 212.2,574.2 C214.6,573.9 215.3,573.3 217.7,573.1 C220.1,572.9 225.1,573.1 226.5,573.1" fill="none" stroke="#000" stroke-width="3.0" stroke-linecap="round" transform="translate(0,1.50)"/><path d="M168.0,588.6 C169.5,588.6 173.9,588.4 176.8,588.6 C179.8,588.8 182.7,589.7 185.7,589.7 C188.6,589.7 191.6,589.1 194.5,588.6 C197.4,588.0 200.4,587.1 203.3,586.4 C206.3,585.6 209.6,584.7 212.2,584.2 C214.7,583.6 216.4,583.2 218.8,583.1 C221.2,582.9 225.2,583.1 226.5,583.1" fill="none" stroke="#000" stroke-width="3.0" stroke-linecap="round" transform="translate(0,1.50)"/><path d="M168.0,586.4 C169.1,586.2 172.4,585.6 174.6,585.3 C176.8,584.9 179.0,584.4 181.3,584.2 C183.5,584.0 185.7,584.0 187.9,584.2 C190.1,584.4 192.3,584.9 194.5,585.3 C196.7,585.6 198.9,586.4 201.1,586.4 C203.3,586.4 205.5,586.0 207.8,585.3 C210.0,584.5 212.2,582.9 214.4,582.0 C216.6,581.0 219.0,580.3 221.0,579.8 C223.0,579.2 225.6,578.8 226.5,578.6" fill="none" stroke="#000" stroke-width="3.0" stroke-linecap="round" transform="translate(0,1.50)"/><path d="M168.0,591.9 C169.1,591.7 172.8,590.2 174.6,590.8 C176.5,591.3 177.6,593.4 179.0,595.2 C180.5,597.1 182.0,599.8 183.5,601.8 C184.9,603.9 186.6,606.1 187.9,607.4 C189.2,608.6 189.9,609.8 191.2,609.6 C192.5,609.4 194.1,607.7 195.6,606.3 C197.1,604.8 198.6,602.6 200.0,600.7 C201.5,598.9 202.8,596.9 204.4,595.2 C206.1,593.6 207.9,592.1 210.0,590.8 C212.0,589.5 214.4,588.4 216.6,587.5 C218.8,586.6 221.6,585.8 223.2,585.3 C224.9,584.7 226.0,584.4 226.5,584.2" fill="none" stroke="#000" stroke-width="3.0" stroke-linecap="round" transform="translate(0,1.50)"/><path d="M181.3,569.8 C182.4,570.9 185.9,574.2 187.9,576.4 C189.9,578.6 191.7,580.9 193.4,583.1 C195.1,585.3 196.3,587.7 197.8,589.7 C199.3,591.7 200.8,593.4 202.2,595.2 C203.7,597.1 205.4,599.3 206.6,600.7 C207.9,602.2 208.9,603.7 210.0,604.0 C211.1,604.4 212.0,603.9 213.3,602.9 C214.6,602.0 216.2,600.0 217.7,598.5 C219.2,597.1 220.6,595.4 222.1,594.1 C223.6,592.8 225.8,591.3 226.5,590.8" fill="none" stroke="#000" stroke-width="3.0" stroke-linecap="round" transform="translate(0,1.50)"/><path d="M168.0,627.2 C169.5,626.9 173.9,626.1 176.8,625.0 C179.8,623.9 183.5,621.7 185.7,620.6 C187.9,619.5 188.4,618.6 190.1,618.4 C191.7,618.2 193.8,619.7 195.6,619.5 C197.4,619.3 199.3,618.6 201.1,617.3 C203.0,616.0 205.0,613.2 206.6,611.8 C208.3,610.3 209.6,608.5 211.1,608.5 C212.5,608.5 214.0,610.3 215.5,611.8 C217.0,613.2 218.4,615.5 219.9,617.3 C221.4,619.1 223.2,621.7 224.3,622.8 C225.4,623.9 226.2,623.7 226.5,623.9" fill="none" stroke="#000" stroke-width="3.0" stroke-linecap="round" transform="translate(0,1.50)"/><path d="M190.1,630.0 C191.2,629.0 194.5,626.0 196.7,623.9 C198.9,621.8 201.3,619.3 203.3,617.3 C205.4,615.3 207.0,613.6 208.9,611.8 C210.7,609.9 212.5,608.3 214.4,606.3 C216.2,604.2 217.9,602.0 219.9,599.6 C221.9,597.2 225.4,593.2 226.5,591.9" fill="none" stroke="#000" stroke-width="3.0" stroke-linecap="round" transform="translate(0,1.50)"/><path d="M68.6,624.4 C70.3,624.4 75.1,624.2 78.6,624.2 C82.1,624.2 86.3,624.3 89.6,624.4 C92.9,624.5 95.7,625.0 98.4,625.0 C101.2,625.0 103.4,624.7 106.2,624.4 C108.9,624.1 112.1,623.7 115.0,623.3 C117.9,622.9 121.7,622.5 123.8,622.2 C126.0,621.9 127.3,621.7 128.0,621.7" fill="none" stroke="#000" stroke-width="3.0" stroke-linecap="round" transform="translate(0,1.50)"/><path d="M68.6,628.3 C70.3,628.2 75.1,627.9 78.6,627.7 C82.1,627.5 86.3,627.2 89.6,627.2 C92.9,627.2 95.7,627.8 98.4,627.7 C101.2,627.6 103.8,627.0 106.2,626.6 C108.6,626.3 110.6,626.1 112.8,625.5 C115.0,625.0 117.6,624.0 119.4,623.3 C121.3,622.6 123.1,621.5 123.8,621.1" fill="none" stroke="#000" stroke-width="3.0" stroke-linecap="round" transform="translate(0,-1.50)"/><path d="M95.1,620.0 C95.9,620.7 98.1,622.8 99.5,624.4 C101.0,626.1 102.5,628.5 104.0,629.9 C105.4,631.4 106.9,632.9 108.4,633.3 C109.9,633.6 111.3,632.9 112.8,632.1 C114.3,631.4 115.7,629.9 117.2,628.8 C118.7,627.7 119.8,626.4 121.6,625.5 C123.4,624.6 127.0,623.7 128.0,623.3" fill="none" stroke="#000" stroke-width="3.0" stroke-linecap="round" transform="translate(0,1.50)"/><path d="M68.6,660.9 C69.7,660.7 73.0,660.3 75.3,659.8 C77.5,659.2 79.5,658.6 81.9,657.5 C84.3,656.4 87.0,654.8 89.6,653.1 C92.2,651.5 94.9,649.3 97.3,647.6 C99.7,645.9 102.1,644.5 104.0,643.2 C105.8,641.9 106.9,641.3 108.4,639.9 C109.9,638.4 111.3,636.0 112.8,634.4 C114.3,632.7 115.7,631.4 117.2,629.9 C118.7,628.5 120.2,626.8 121.6,625.5 C123.1,624.2 125.0,622.9 126.0,622.2 C127.1,621.5 127.7,621.3 128.0,621.1" fill="none" stroke="#000" stroke-width="3.0" stroke-linecap="round" transform="translate(0,1.50)"/><path d="M68.6,674.1 C69.4,673.7 71.2,673.2 73.0,671.9 C74.9,670.6 77.5,668.4 79.7,666.4 C81.9,664.4 84.1,662.0 86.3,659.8 C88.5,657.5 90.7,655.3 92.9,653.1 C95.1,650.9 97.3,648.3 99.5,646.5 C101.8,644.7 104.1,642.5 106.2,642.1 C108.2,641.7 109.9,643.0 111.7,644.3 C113.5,645.6 115.7,648.3 117.2,649.8 C118.7,651.3 119.2,652.6 120.5,653.1 C121.8,653.7 123.7,653.1 124.9,653.1 C126.2,653.1 127.5,653.1 128.0,653.1" fill="none" stroke="#000" stroke-width="3.0" stroke-linecap="round" transform="translate(0,1.50)"/><path d="M108.4,641.0 C109.3,641.7 112.1,644.0 113.9,645.4 C115.7,646.8 117.8,648.5 119.4,649.3 C121.1,650.0 122.4,649.8 123.8,649.8 C125.3,649.9 127.3,649.6 128.0,649.6" fill="none" stroke="#000" stroke-width="3.0" stroke-linecap="round" transform="translate(0,1.50)"/><path d="M68.6,679.6 C70.3,680.0 75.4,681.3 78.6,681.8 C81.7,682.4 84.6,683.3 87.4,682.9 C90.2,682.6 92.7,681.1 95.1,679.6 C97.5,678.2 99.5,676.1 101.8,674.1 C104.0,672.1 106.2,669.7 108.4,667.5 C110.6,665.3 113.0,663.1 115.0,660.9 C117.0,658.6 119.6,655.3 120.5,654.2" fill="none" stroke="#000" stroke-width="3.0" stroke-linecap="round" transform="translate(0,1.50)"/><path d="M68.6,681.8 C70.3,682.4 75.6,684.0 78.6,685.2 C81.5,686.3 83.9,687.2 86.3,688.5 C88.7,689.8 90.7,691.6 92.9,692.9 C95.1,694.2 97.3,695.3 99.5,696.2 C101.8,697.1 104.0,697.8 106.2,698.4 C108.4,699.0 110.6,699.1 112.8,699.5 C115.0,699.9 116.9,700.2 119.4,700.6 C122.0,701.0 126.6,701.5 128.0,701.7" fill="none" stroke="#000" stroke-width="3.0" stroke-linecap="round" transform="translate(0,1.50)"/><path d="M68.6,701.7 C71.2,700.8 80.4,697.3 84.1,696.2 C87.8,695.1 88.3,694.9 90.7,695.1 C93.1,695.3 95.9,696.7 98.4,697.3 C101.0,697.8 103.4,698.0 106.2,698.4 C108.9,698.8 112.1,699.3 115.0,699.5 C117.9,699.7 121.7,699.7 123.8,699.5 C126.0,699.3 127.3,698.6 128.0,698.4" fill="none" stroke="#000" stroke-width="3.0" stroke-linecap="round" transform="translate(0,1.50)"/><path d="M119.4,700.6 C120.2,701.0 122.4,702.1 123.8,702.8 C125.3,703.6 127.3,704.7 128.0,705.0" fill="none" stroke="#000" stroke-width="3.0" stroke-linecap="round" transform="translate(0,1.50)"/><path d="M118.0,622.2 C119.5,622.0 123.9,621.4 126.8,621.1 C129.8,620.8 132.5,620.4 135.7,620.6 C138.8,620.7 142.1,621.6 145.6,622.2 C149.1,622.9 153.0,623.7 156.6,624.4 C160.3,625.2 164.4,626.1 167.7,626.6 C171.0,627.2 174.3,627.9 176.5,627.7 C178.7,627.5 179.7,626.3 180.9,625.5 C182.2,624.8 183.5,623.7 184.0,623.3" fill="none" stroke="#000" stroke-width="3.0" stroke-linecap="round" transform="translate(0,1.50)"/><path d="M118.0,624.4 C119.8,625.2 125.4,627.0 129.0,628.8 C132.7,630.7 136.4,633.4 140.1,635.5 C143.8,637.5 147.4,639.3 151.1,641.0 C154.8,642.6 158.9,644.4 162.2,645.4 C165.5,646.4 168.6,647.6 171.0,647.1 C173.4,646.5 174.7,643.8 176.5,642.1 C178.4,640.3 180.8,638.0 182.0,636.6 C183.3,635.1 183.7,633.8 184.0,633.3" fill="none" stroke="#000" stroke-width="3.0" stroke-linecap="round" transform="translate(0,1.50)"/><path d="M122.4,626.6 C123.5,627.7 126.8,631.0 129.0,633.3 C131.3,635.5 133.5,637.7 135.7,639.9 C137.9,642.1 140.1,644.5 142.3,646.5 C144.5,648.5 146.7,650.2 148.9,652.0 C151.1,653.9 153.3,655.5 155.5,657.5 C157.8,659.6 160.1,662.1 162.2,664.2 C164.2,666.2 165.9,667.9 167.7,669.7 C169.5,671.5 171.4,673.2 173.2,675.2 C175.1,677.2 176.9,679.8 178.7,681.8 C180.5,683.9 183.2,686.4 184.0,687.4" fill="none" stroke="#000" stroke-width="3.0" stroke-linecap="round" transform="translate(0,1.50)"/><path d="M118.0,649.8 C119.8,649.7 125.4,649.4 129.0,649.3 C132.7,649.1 136.4,649.0 140.1,648.7 C143.8,648.4 147.4,648.0 151.1,647.6 C154.8,647.2 158.9,646.6 162.2,646.5 C165.5,646.4 169.5,647.0 171.0,647.1" fill="none" stroke="#000" stroke-width="3.0" stroke-linecap="round" transform="translate(0,1.50)"/><path d="M118.0,654.2 C119.8,654.1 125.4,653.9 129.0,653.7 C132.7,653.5 136.4,653.4 140.1,653.1 C143.8,652.9 147.4,652.4 151.1,652.0 C154.8,651.7 158.9,651.3 162.2,650.9 C165.5,650.6 168.4,650.1 171.0,649.8 C173.6,649.5 175.5,649.4 177.6,649.3 C179.8,649.2 183.0,649.3 184.0,649.3" fill="none" stroke="#000" stroke-width="3.0" stroke-linecap="round" transform="translate(0,1.50)"/><path d="M118.0,657.5 C119.8,657.5 125.4,657.3 129.0,657.0 C132.7,656.7 136.4,656.3 140.1,655.9 C143.8,655.5 149.3,655.0 151.1,654.8" fill="none" stroke="#000" stroke-width="3.0" stroke-linecap="round" transform="translate(0,1.50)"/><path d="M131.3,620.0 C132.0,621.1 134.2,624.4 135.7,626.6 C137.1,628.8 138.6,631.0 140.1,633.3 C141.6,635.5 143.0,637.9 144.5,639.9 C146.0,641.9 147.3,643.4 148.9,645.4 C150.6,647.4 152.6,650.0 154.4,652.0 C156.3,654.0 158.1,655.7 160.0,657.5 C161.8,659.4 163.8,661.6 165.5,663.1 C167.1,664.5 168.2,665.5 169.9,666.4 C171.6,667.3 173.6,668.4 175.4,668.6 C177.3,668.8 179.5,667.9 180.9,667.5 C182.4,667.1 183.5,666.6 184.0,666.4" fill="none" stroke="#000" stroke-width="3.0" stroke-linecap="round" transform="translate(0,1.50)"/><path d="M118.0,698.4 C119.5,698.2 123.9,698.2 126.8,697.3 C129.8,696.4 132.7,694.5 135.7,692.9 C138.6,691.2 141.6,689.4 144.5,687.4 C147.4,685.3 150.4,683.1 153.3,680.7 C156.3,678.3 159.6,675.2 162.2,673.0 C164.7,670.8 166.6,669.5 168.8,667.5 C171.0,665.5 173.4,662.7 175.4,660.9 C177.4,659.0 179.5,657.5 180.9,656.4 C182.4,655.3 183.5,654.6 184.0,654.2" fill="none" stroke="#000" stroke-width="3.0" stroke-linecap="round" transform="translate(0,1.50)"/><path d="M124.6,708.3 C126.1,707.8 130.5,706.5 133.5,705.0 C136.4,703.6 139.3,701.5 142.3,699.5 C145.2,697.5 148.2,695.1 151.1,692.9 C154.1,690.7 157.4,688.3 160.0,686.3 C162.5,684.2 164.4,682.2 166.6,680.7 C168.8,679.3 171.4,677.6 173.2,677.4 C175.1,677.2 175.8,678.2 177.6,679.6 C179.4,681.1 183.0,685.2 184.0,686.3" fill="none" stroke="#000" stroke-width="3.0" stroke-linecap="round" transform="translate(0,1.50)"/><path d="M118.0,703.9 C119.1,704.3 122.4,705.4 124.6,706.1 C126.8,706.9 129.4,707.7 131.3,708.3 C133.1,709.0 134.9,709.7 135.7,710.0" fill="none" stroke="#000" stroke-width="3.0" stroke-linecap="round" transform="translate(0,1.50)"/><path d="M168.0,626.6 C169.1,626.7 172.4,627.4 174.6,627.2 C176.8,627.0 179.0,626.3 181.3,625.5 C183.5,624.7 186.0,622.9 187.9,622.2 C189.7,621.5 190.8,621.5 192.3,621.1 C193.8,620.7 196.0,620.2 196.7,620.0" fill="none" stroke="#000" stroke-width="3.0" stroke-linecap="round" transform="translate(0,1.50)"/><path d="M168.0,647.6 C169.1,647.4 172.4,647.6 174.6,646.5 C176.8,645.4 179.0,643.0 181.3,641.0 C183.5,639.0 185.9,636.6 187.9,634.4 C189.9,632.1 191.6,628.1 193.4,627.7 C195.2,627.4 197.3,630.3 198.9,632.1 C200.6,634.0 201.9,636.9 203.3,638.8 C204.8,640.6 205.9,643.2 207.8,643.2 C209.6,643.2 212.2,640.6 214.4,638.8 C216.6,636.9 219.0,634.0 221.0,632.1 C223.0,630.3 225.6,628.5 226.5,627.7" fill="none" stroke="#000" stroke-width="3.0" stroke-linecap="round" transform="translate(0,1.50)"/><path d="M206.6,620.0 C205.9,620.9 203.7,623.5 202.2,625.5 C200.8,627.5 199.5,629.9 197.8,632.1 C196.2,634.4 194.1,636.7 192.3,638.8 C190.5,640.8 188.6,642.6 186.8,644.3 C184.9,645.9 183.3,647.8 181.3,648.7 C179.2,649.6 176.8,649.6 174.6,649.8 C172.4,650.0 169.1,649.8 168.0,649.8" fill="none" stroke="#000" stroke-width="3.0" stroke-linecap="round" transform="translate(0,1.50)"/><path d="M216.6,620.0 C217.3,620.6 219.3,622.5 221.0,623.3 C222.7,624.1 225.6,624.7 226.5,625.0" fill="none" stroke="#000" stroke-width="3.0" stroke-linecap="round" transform="translate(0,1.50)"/><path d="M168.0,657.5 C169.1,658.1 172.8,660.9 174.6,660.9 C176.5,660.9 177.2,658.5 179.0,657.5 C180.9,656.6 183.5,655.9 185.7,655.3 C187.9,654.8 190.1,654.8 192.3,654.2 C194.5,653.7 196.7,653.1 198.9,652.0 C201.1,650.9 203.9,648.5 205.5,647.6 C207.2,646.7 207.4,645.8 208.9,646.5 C210.3,647.2 212.5,650.2 214.4,652.0 C216.2,653.9 217.9,656.0 219.9,657.5 C221.9,659.1 225.4,660.8 226.5,661.4" fill="none" stroke="#000" stroke-width="3.0" stroke-linecap="round" transform="translate(0,1.50)"/><path d="M168.0,662.0 C169.1,662.3 172.4,664.0 174.6,664.2 C176.8,664.4 179.0,663.4 181.3,663.1 C183.5,662.7 185.7,662.1 187.9,662.0 C190.1,661.8 192.3,661.8 194.5,662.0 C196.7,662.1 198.6,662.3 201.1,663.1 C203.7,663.8 207.2,665.3 210.0,666.4 C212.7,667.5 214.9,668.6 217.7,669.7 C220.5,670.8 225.1,672.5 226.5,673.0" fill="none" stroke="#000" stroke-width="3.0" stroke-linecap="round" transform="translate(0,1.50)"/><path d="M168.0,669.7 C169.1,670.2 172.4,672.8 174.6,673.0 C176.8,673.2 179.4,671.7 181.3,670.8 C183.1,669.9 184.2,668.4 185.7,667.5 C187.1,666.6 188.2,665.1 190.1,665.3 C191.9,665.5 194.5,667.3 196.7,668.6 C198.9,669.9 201.1,671.7 203.3,673.0 C205.5,674.3 207.6,675.4 210.0,676.3 C212.4,677.2 214.9,678.0 217.7,678.5 C220.5,679.1 225.1,679.4 226.5,679.6" fill="none" stroke="#000" stroke-width="3.0" stroke-linecap="round" transform="translate(0,1.50)"/><path d="M168.0,679.6 C169.1,679.3 172.8,678.2 174.6,677.4 C176.5,676.7 177.6,675.9 179.0,675.2 C180.5,674.5 181.6,673.0 183.5,673.0 C185.3,673.0 187.9,674.1 190.1,675.2 C192.3,676.3 194.5,678.2 196.7,679.6 C198.9,681.1 201.1,682.6 203.3,684.0 C205.5,685.5 208.1,687.5 210.0,688.5 C211.8,689.4 212.7,689.9 214.4,689.6 C216.0,689.2 217.9,687.9 219.9,686.3 C221.9,684.6 225.4,680.7 226.5,679.6" fill="none" stroke="#000" stroke-width="3.0" stroke-linecap="round" transform="translate(0,1.50)"/><path d="M168.0,681.8 C169.1,681.6 172.8,680.2 174.6,680.2 C176.5,680.2 177.2,680.6 179.0,681.8 C180.9,683.0 183.5,685.5 185.7,687.4 C187.9,689.2 190.1,690.9 192.3,692.9 C194.5,694.9 197.1,697.7 198.9,699.5 C200.8,701.3 201.9,703.6 203.3,703.9 C204.8,704.3 206.3,702.6 207.8,701.7 C209.2,700.8 210.3,698.8 212.2,698.4 C214.0,698.0 216.4,699.0 218.8,699.5 C221.2,700.1 225.2,701.3 226.5,701.7" fill="none" stroke="#000" stroke-width="3.0" stroke-linecap="round" transform="translate(0,1.50)"/><path d="M195.6,710.0 C196.5,709.4 199.7,707.1 201.1,706.1 C202.6,705.1 203.3,703.7 204.4,703.9 C205.5,704.1 206.8,706.2 207.8,707.2 C208.7,708.2 209.6,709.5 210.0,710.0" fill="none" stroke="#000" stroke-width="3.0" stroke-linecap="round" transform="translate(0,1.50)"/><path d="M69.7,702.2 C71.0,701.8 74.4,700.8 77.4,699.6 C80.4,698.5 85.1,696.1 87.7,695.1 C90.3,694.2 90.7,693.6 92.8,693.9 C95.0,694.1 97.5,695.6 100.5,696.4 C103.5,697.3 107.4,698.4 110.8,699.0 C114.2,699.6 118.1,700.5 121.1,700.3 C124.1,700.1 126.2,698.8 128.8,697.7 C131.4,696.6 134.4,694.9 136.5,693.9 C138.7,692.8 140.4,691.9 141.7,691.3 C142.9,690.6 143.8,690.2 144.2,690.0" fill="none" stroke="#000" stroke-width="3.0" stroke-linecap="round" transform="translate(0,1.50)"/><path d="M69.7,700.5 L74.8,699.0" fill="none" stroke="#000" stroke-width="3.0" stroke-linecap="round" transform="translate(0,1.50)"/><path d="M86.4,690.0 C87.7,690.6 91.1,692.6 94.1,693.9 C97.1,695.1 100.8,696.4 104.4,697.7 C108.0,699.0 112.3,700.5 116.0,701.6 C119.6,702.6 123.2,703.3 126.2,704.1 C129.2,705.0 131.4,705.6 133.9,706.7 C136.5,707.8 139.0,709.3 141.7,710.6 C144.3,711.8 148.6,713.8 150.0,714.4" fill="none" stroke="#000" stroke-width="3.0" stroke-linecap="round" transform="translate(0,1.50)"/><path d="M69.7,713.8 C71.0,714.0 74.4,714.9 77.4,715.1 C80.4,715.2 83.8,714.7 87.7,714.4 C91.5,714.1 96.3,713.6 100.5,713.1 C104.8,712.7 109.5,712.3 113.4,711.8 C117.2,711.4 120.7,711.2 123.7,710.6 C126.7,709.9 128.8,709.3 131.4,708.0 C133.9,706.7 136.5,704.6 139.1,702.8 C141.7,701.1 145.0,699.0 146.8,697.7 C148.6,696.4 149.5,695.6 150.0,695.1" fill="none" stroke="#000" stroke-width="3.0" stroke-linecap="round" transform="translate(0,1.50)"/><path d="M69.7,715.7 C71.0,715.8 74.8,716.0 77.4,716.3 C80.0,716.7 82.6,716.9 85.1,717.6 C87.7,718.4 90.3,719.9 92.8,720.8 C95.4,721.8 97.5,722.9 100.5,723.4 C103.5,723.9 107.0,723.8 110.8,724.0 C114.7,724.3 119.8,724.2 123.7,724.7 C127.5,725.2 130.9,726.2 133.9,727.3 C136.9,728.3 139.0,729.9 141.7,731.1 C144.3,732.3 148.6,733.8 150.0,734.3" fill="none" stroke="#000" stroke-width="3.0" stroke-linecap="round" transform="translate(0,1.50)"/><path d="M69.7,720.2 C71.6,720.2 77.2,720.4 81.3,720.2 C85.3,720.0 89.8,719.2 94.1,718.9 C98.4,718.6 102.9,718.4 107.0,718.3 C111.0,718.2 115.7,718.2 118.5,718.3 C121.3,718.4 121.5,718.0 123.7,718.9 C125.8,719.8 128.8,722.0 131.4,723.4 C133.9,724.8 136.0,726.2 139.1,727.3 C142.2,728.3 148.2,729.4 150.0,729.8" fill="none" stroke="#000" stroke-width="3.0" stroke-linecap="round" transform="translate(0,1.50)"/><path d="M69.7,724.0 C71.6,724.2 77.2,724.2 81.3,724.7 C85.3,725.2 90.3,726.2 94.1,727.3 C98.0,728.3 101.2,730.1 104.4,731.1 C107.6,732.1 110.2,732.7 113.4,733.0 C116.6,733.4 120.2,733.3 123.7,733.0 C127.1,732.8 130.9,732.1 133.9,731.8 C136.9,731.4 139.0,731.3 141.7,731.1 C144.3,730.9 148.6,730.6 150.0,730.5" fill="none" stroke="#000" stroke-width="3.0" stroke-linecap="round" transform="translate(0,1.50)"/><path d="M69.7,727.9 C71.6,727.8 77.2,727.5 81.3,727.3 C85.3,727.0 89.8,726.7 94.1,726.6 C98.4,726.5 102.7,726.6 107.0,726.6 C111.2,726.6 116.2,726.4 119.8,726.6 C123.5,726.8 126.0,727.6 128.8,727.9 C131.6,728.2 133.9,728.4 136.5,728.5 C139.1,728.6 142.0,728.5 144.2,728.5 C146.5,728.5 149.0,728.5 150.0,728.5" fill="none" stroke="#000" stroke-width="3.0" stroke-linecap="round" transform="translate(0,1.50)"/><path d="M69.7,752.3 C71.6,752.2 77.2,752.0 81.3,751.7 C85.3,751.3 89.8,750.7 94.1,750.4 C98.4,750.1 102.7,750.0 107.0,749.7 C111.2,749.5 115.5,749.3 119.8,749.1 C124.1,748.9 129.0,748.7 132.7,748.5 C136.3,748.2 138.8,748.0 141.7,747.8 C144.5,747.6 148.6,747.3 150.0,747.2" fill="none" stroke="#000" stroke-width="3.0" stroke-linecap="round" transform="translate(0,1.50)"/><path d="M145.0,702.8 C146.1,702.0 149.3,699.4 151.4,697.7 C153.6,696.0 156.1,693.9 157.8,692.6 C159.6,691.3 161.1,690.4 161.7,690.0" fill="none" stroke="#000" stroke-width="3.0" stroke-linecap="round" transform="translate(0,1.50)"/><path d="M186.1,690.0 C187.2,690.9 190.4,693.4 192.5,695.1 C194.7,696.9 197.0,698.8 199.0,700.3 C200.9,701.8 202.4,702.8 204.1,704.1 C205.8,705.4 207.5,706.7 209.2,708.0 C210.9,709.3 212.7,710.8 214.4,711.8 C216.1,712.9 217.6,713.8 219.5,714.4 C221.4,715.1 224.9,715.5 225.9,715.7" fill="none" stroke="#000" stroke-width="3.0" stroke-linecap="round" transform="translate(0,1.50)"/><path d="M204.1,704.1 C205.0,703.5 207.5,701.2 209.2,700.3 C210.9,699.3 212.7,698.5 214.4,698.4 C216.1,698.2 217.6,699.1 219.5,699.6 C221.4,700.2 224.9,701.2 225.9,701.6" fill="none" stroke="#000" stroke-width="3.0" stroke-linecap="round" transform="translate(0,-1.50)"/><path d="M145.0,711.8 C146.3,712.3 150.1,713.4 152.7,714.4 C155.3,715.4 157.8,716.7 160.4,717.6 C163.0,718.6 165.6,719.7 168.1,720.2 C170.7,720.7 173.3,720.9 175.8,720.8 C178.4,720.7 181.0,720.4 183.5,719.5 C186.1,718.7 188.7,717.2 191.2,715.7 C193.8,714.2 196.8,712.3 199.0,710.6 C201.1,708.8 202.4,707.1 204.1,705.4 C205.8,703.7 208.4,701.1 209.2,700.3" fill="none" stroke="#000" stroke-width="3.0" stroke-linecap="round" transform="translate(0,1.50)"/><path d="M145.0,727.3 C146.7,727.0 151.9,726.4 155.3,726.0 C158.7,725.5 162.1,725.0 165.6,724.7 C169.0,724.4 172.4,724.3 175.8,724.0 C179.3,723.8 182.7,723.8 186.1,723.4 C189.5,723.0 193.2,722.2 196.4,721.5 C199.6,720.7 202.4,719.8 205.4,718.9 C208.4,718.0 212.0,717.1 214.4,716.3 C216.7,715.6 217.6,714.8 219.5,714.4 C221.4,714.0 224.9,713.9 225.9,713.8" fill="none" stroke="#000" stroke-width="3.0" stroke-linecap="round" transform="translate(0,1.50)"/><path d="M145.0,730.5 C146.7,730.1 151.9,729.0 155.3,728.5 C158.7,728.1 162.1,728.1 165.6,727.9 C169.0,727.7 172.4,727.5 175.8,727.3 C179.3,727.0 182.7,727.0 186.1,726.6 C189.5,726.2 193.0,725.4 196.4,724.7 C199.8,723.9 203.2,723.1 206.7,722.1 C210.1,721.2 213.7,719.1 216.9,718.9 C220.2,718.7 224.4,720.5 225.9,720.8" fill="none" stroke="#000" stroke-width="3.0" stroke-linecap="round" transform="translate(0,1.50)"/><path d="M145.0,729.8 C146.3,730.5 150.1,732.6 152.7,733.7 C155.3,734.7 157.4,735.5 160.4,736.2 C163.4,737.0 167.3,737.9 170.7,738.2 C174.1,738.5 177.5,738.5 181.0,738.2 C184.4,737.9 187.8,737.0 191.2,736.2 C194.7,735.5 198.1,734.5 201.5,733.7 C205.0,732.8 208.8,732.1 211.8,731.1 C214.8,730.1 217.2,728.4 219.5,727.9 C221.9,727.4 224.9,727.9 225.9,727.9" fill="none" stroke="#000" stroke-width="3.0" stroke-linecap="round" transform="translate(0,1.50)"/><path d="M145.0,729.8 C146.7,730.5 151.0,732.4 155.3,733.7 C159.6,735.0 166.0,737.0 170.7,737.5 C175.4,738.1 178.8,737.7 183.5,736.9 C188.3,736.0 194.2,733.8 199.0,732.4 C203.7,731.0 207.3,729.9 211.8,728.5 C216.3,727.1 223.6,724.8 225.9,724.0" fill="none" stroke="#000" stroke-width="3.0" stroke-linecap="round" transform="translate(0,1.50)"/><path d="M145.0,749.1 C146.7,748.8 151.9,747.8 155.3,747.2 C158.7,746.5 162.3,745.8 165.6,745.2 C168.8,744.7 171.6,744.0 174.5,744.0 C177.5,744.0 180.3,744.5 183.5,745.2 C186.8,746.0 190.4,747.5 193.8,748.5 C197.2,749.4 200.7,750.4 204.1,751.0 C207.5,751.7 210.7,752.0 214.4,752.3 C218.0,752.6 224.0,752.8 225.9,752.9" fill="none" stroke="#000" stroke-width="3.0" stroke-linecap="round" transform="translate(0,1.50)"/><path d="M69.1,306.8 C70.0,306.5 72.8,305.9 74.8,304.9 C76.9,303.8 79.1,302.2 81.3,300.4 C83.4,298.6 85.6,296.3 87.7,294.0 C89.8,291.6 92.0,288.8 94.1,286.2 C96.3,283.7 98.4,281.1 100.5,278.5 C102.7,276.0 104.8,273.4 107.0,270.8 C109.1,268.3 111.7,265.2 113.4,263.1 C115.1,261.1 116.0,259.9 117.2,258.6 C118.5,257.3 119.6,256.3 121.1,255.4 C122.6,254.6 124.1,254.1 126.2,253.5 C128.4,252.8 131.4,252.5 133.9,251.6 C136.5,250.6 139.0,249.0 141.7,247.7 C144.3,246.4 148.6,244.5 150.0,243.9" fill="none" stroke="#000" stroke-width="3.0" stroke-linecap="round" transform="translate(0,-1.50)"/><path d="M69.1,328.0 C70.0,327.0 72.8,324.5 74.8,322.2 C76.9,320.0 79.1,317.3 81.3,314.5 C83.4,311.7 85.6,308.5 87.7,305.5 C89.8,302.5 92.0,299.5 94.1,296.5 C96.3,293.5 98.4,290.5 100.5,287.5 C102.7,284.5 104.8,281.3 107.0,278.5 C109.1,275.8 111.5,273.0 113.4,270.8 C115.3,268.7 117.0,266.7 118.5,265.7 C120.0,264.7 120.7,264.9 122.4,265.1 C124.1,265.2 126.4,265.8 128.8,266.3 C131.2,266.9 133.9,267.5 136.5,268.3 C139.1,269.0 142.0,270.3 144.2,270.8 C146.5,271.4 149.0,271.4 150.0,271.5" fill="none" stroke="#000" stroke-width="3.0" stroke-linecap="round" transform="translate(0,1.50)"/><path d="M69.2,259.4 C70.4,259.2 74.2,258.8 76.5,258.2 C78.8,257.6 81.1,256.8 83.2,255.5 C85.3,254.2 87.2,252.0 89.0,250.6 C90.8,249.2 92.4,247.8 93.8,246.8 C95.2,245.9 96.1,245.1 97.6,244.9 C99.0,244.7 100.7,245.2 102.5,245.8 C104.3,246.4 106.3,247.6 108.2,248.7 C110.1,249.8 112.4,251.5 114.0,252.6 C115.6,253.7 116.6,254.7 117.9,255.5 C119.2,256.3 120.3,256.8 121.7,257.4 C123.1,258.0 124.2,258.9 126.2,259.3 C128.2,259.7 131.3,259.9 133.9,259.9 C136.5,259.9 139.0,259.6 141.7,259.3 C144.4,259.0 148.6,258.2 150.0,258.0" fill="none" stroke="#000" stroke-width="3.0" stroke-linecap="round" transform="translate(0,-1.50)"/><path d="M118.5,260.6 C120.2,260.8 125.4,261.5 128.8,261.8 C132.2,262.2 135.5,262.5 139.1,262.5 C142.6,262.5 148.2,261.9 150.0,261.8" fill="none" stroke="#000" stroke-width="3.0" stroke-linecap="round" transform="translate(0,1.50)"/><path d="M100.5,240.0 C101.6,240.3 104.4,241.5 107.0,241.9 C109.5,242.4 112.7,242.6 116.0,242.6 C119.2,242.6 123.2,242.4 126.2,241.9 C129.2,241.5 132.7,240.3 133.9,240.0" fill="none" stroke="#000" stroke-width="3.0" stroke-linecap="round" transform="translate(0,1.50)"/><path d="M145.0,270.8 C146.3,270.7 150.1,270.7 152.7,270.2 C155.3,269.7 158.1,268.6 160.4,267.6 C162.8,266.7 164.7,265.4 166.8,264.4 C169.0,263.4 171.3,261.9 173.3,261.8 C175.2,261.7 176.5,262.7 178.4,263.8 C180.3,264.8 182.7,266.4 184.8,268.3 C187.0,270.1 189.1,272.3 191.2,274.7 C193.4,277.0 195.5,279.8 197.7,282.4 C199.8,285.0 202.0,287.5 204.1,290.1 C206.2,292.7 208.4,295.2 210.5,297.8 C212.7,300.4 215.0,302.9 216.9,305.5 C218.9,308.1 220.4,311.2 222.1,313.2 C223.8,315.3 226.4,317.0 227.2,317.7" fill="none" stroke="#000" stroke-width="3.0" stroke-linecap="round" transform="translate(0,1.50)"/><path d="M145.0,260.6 C146.3,260.3 150.1,259.9 152.7,259.3 C155.3,258.6 158.1,257.6 160.4,256.7 C162.8,255.8 164.7,254.8 166.8,254.1 C169.0,253.5 171.1,253.0 173.3,252.8 C175.4,252.7 177.8,253.3 179.7,253.5 C181.6,253.7 183.3,253.4 184.8,254.1 C186.3,254.9 187.4,256.3 188.7,258.0 C190.0,259.7 191.2,262.1 192.5,264.4 C193.8,266.8 194.9,269.3 196.4,272.1 C197.9,274.9 199.8,278.3 201.5,281.1 C203.2,283.9 205.0,286.5 206.7,288.8 C208.4,291.2 209.9,293.1 211.8,295.2 C213.7,297.4 216.3,300.0 218.2,301.7 C220.2,303.4 221.9,304.7 223.4,305.5 C224.9,306.4 226.6,306.6 227.2,306.8" fill="none" stroke="#000" stroke-width="3.0" stroke-linecap="round" transform="translate(0,1.50)"/><path d="M145.0,245.1 C146.3,245.2 150.1,244.9 152.7,245.8 C155.3,246.6 158.1,248.5 160.4,250.3 C162.8,252.1 164.9,255.0 166.8,256.7 C168.8,258.4 170.9,259.7 172.0,260.6 C173.1,261.4 172.4,262.0 173.5,261.6 C174.6,261.2 176.5,259.2 178.4,258.0 C180.3,256.7 182.7,255.2 184.8,254.1 C187.0,253.1 188.9,252.4 191.2,251.6 C193.6,250.7 196.4,250.1 199.0,249.0 C201.5,247.9 204.3,246.4 206.7,245.1 C209.0,243.9 211.6,242.1 213.1,241.3 C214.6,240.4 215.2,240.2 215.7,240.0" fill="none" stroke="#000" stroke-width="3.0" stroke-linecap="round" transform="translate(0,1.50)"/><path d="M199.0,247.7 C200.2,248.1 204.1,249.6 206.7,250.3 C209.2,250.9 211.8,251.2 214.4,251.6 C216.9,251.9 219.9,252.1 222.1,252.2 C224.2,252.3 226.4,252.2 227.2,252.2" fill="none" stroke="#000" stroke-width="3.0" stroke-linecap="round" transform="translate(0,1.50)"/><path d="M199.0,251.6 C200.2,252.0 204.1,253.1 206.7,254.1 C209.2,255.2 211.8,257.0 214.4,258.0 C216.9,258.9 219.9,259.4 222.1,259.9 C224.2,260.4 226.4,261.0 227.2,261.2" fill="none" stroke="#000" stroke-width="3.0" stroke-linecap="round" transform="translate(0,1.50)"/><path d="M69.7,334.5 C71.1,336.4 75.1,342.0 78.0,346.0 C80.9,350.0 84.0,354.5 87.0,358.5 C90.0,362.5 92.8,366.2 95.8,370.0 C98.8,373.8 101.8,377.8 104.7,381.5 C107.6,385.2 110.6,389.3 113.0,392.0 C115.4,394.7 116.8,396.2 119.0,397.5 C121.2,398.8 123.0,398.9 126.4,399.5 C129.8,400.1 135.3,400.2 139.2,401.0 C143.1,401.8 146.5,402.8 150.0,404.0 C153.5,405.2 157.0,406.8 160.0,408.0 C163.0,409.2 165.7,410.6 168.0,411.5 C170.3,412.4 172.3,414.4 174.0,413.5 C175.7,412.6 176.7,408.2 178.0,406.0 C179.3,403.8 180.4,402.5 182.0,400.0 C183.6,397.5 185.6,394.2 187.6,391.0 C189.6,387.8 191.8,384.4 194.0,381.0 C196.2,377.6 198.7,373.5 200.9,370.3 C203.1,367.1 204.9,364.8 207.0,362.0 C209.1,359.2 211.3,356.5 213.5,353.5 C215.7,350.5 217.8,347.2 220.0,344.0 C222.2,340.8 225.5,335.8 226.6,334.2" fill="none" stroke="#000" stroke-width="3.0" stroke-linecap="round" transform="translate(0,1.50)"/><path d="M69.1,318.4 C70.5,318.5 74.3,318.9 77.4,319.0 C80.5,319.1 83.8,319.2 87.7,319.0 C91.5,318.8 96.3,318.2 100.5,317.7 C104.8,317.3 109.1,316.9 113.4,316.5 C117.7,316.0 122.0,315.7 126.2,315.2 C130.5,314.6 136.0,313.6 139.1,313.2 C142.2,312.9 142.3,313.5 145.0,313.2 C147.7,313.0 151.9,312.4 155.3,312.0 C158.7,311.5 162.1,310.9 165.6,310.7 C169.0,310.5 173.0,310.4 175.8,310.7 C178.6,311.0 180.1,311.7 182.3,312.6 C184.4,313.5 186.3,314.6 188.7,315.8 C191.0,317.0 193.8,318.4 196.4,319.7 C199.0,321.0 201.5,322.4 204.1,323.5 C206.7,324.6 209.2,325.6 211.8,326.1 C214.4,326.6 216.9,326.3 219.5,326.7 C222.1,327.2 225.9,328.3 227.2,328.7" fill="none" stroke="#000" stroke-width="3.0" stroke-linecap="round" transform="translate(0,-1.50)"/><path d="M69.2,254.0 C70.4,253.8 74.2,253.5 76.5,252.6 C78.8,251.7 81.1,250.1 83.2,248.7 C85.3,247.2 87.2,245.5 89.0,243.9 C90.8,242.3 92.4,240.8 93.8,239.1 C95.2,237.4 96.3,235.6 97.5,233.5 C98.7,231.4 99.9,229.2 101.0,226.5 C102.1,223.8 102.6,220.3 104.0,217.3 C105.4,214.3 107.8,211.1 109.5,208.5 C111.2,205.9 112.4,203.8 113.9,201.8 C115.4,199.8 117.0,197.8 118.3,196.3 C119.6,194.8 121.0,193.6 121.6,193.0" fill="none" stroke="#000" stroke-width="3.0" stroke-linecap="round" transform="translate(0,-1.50)"/><path d="M69.2,201.0 C70.4,201.0 73.6,201.4 76.5,201.4 C79.3,201.4 82.9,201.2 86.1,201.0 C89.3,200.7 94.1,200.2 95.7,200.0" fill="none" stroke="#000" stroke-width="3.0" stroke-linecap="round" transform="translate(0,1.50)"/><path d="M69.2,214.5 C70.4,214.0 74.1,212.7 76.5,211.6 C78.8,210.4 81.1,208.8 83.2,207.7 C85.3,206.7 86.9,205.9 89.0,205.3 C91.1,204.7 93.0,204.4 95.7,203.9 C98.4,203.3 102.6,202.5 105.4,201.9 C108.1,201.4 110.3,200.8 112.1,200.5 C113.9,200.2 115.3,200.1 115.9,200.0" fill="none" stroke="#000" stroke-width="3.0" stroke-linecap="round" transform="translate(0,-1.50)"/><path d="M69.2,219.3 C70.4,219.4 74.4,220.2 76.5,220.2 C78.5,220.3 79.7,219.7 81.3,219.7 C82.9,219.7 84.5,219.8 86.1,220.2 C87.7,220.6 89.3,221.5 90.9,222.2 C92.5,222.8 94.1,223.5 95.7,224.1 C97.3,224.6 98.9,224.9 100.5,225.5 C102.1,226.2 103.4,227.1 105.4,227.9 C107.3,228.8 109.7,229.9 112.1,230.8 C114.5,231.7 117.2,232.8 119.8,233.2 C122.5,233.7 126.6,233.6 128.0,233.7" fill="none" stroke="#000" stroke-width="3.0" stroke-linecap="round" transform="translate(0,1.50)"/><path d="M69.2,220.7 C70.4,221.4 74.0,223.4 76.5,224.6 C78.9,225.8 81.7,226.9 84.2,227.9 C86.6,229.0 88.8,229.9 90.9,230.8 C93.0,231.7 94.8,232.6 96.7,233.2 C98.6,233.9 101.5,234.4 102.5,234.7" fill="none" stroke="#000" stroke-width="3.0" stroke-linecap="round" transform="translate(0,1.50)"/><path d="M69.2,223.1 C70.4,223.0 74.1,222.4 76.5,222.2 C78.8,221.9 80.8,221.5 83.2,221.7 C85.6,221.8 88.3,222.4 90.9,223.1 C93.5,223.8 96.4,225.0 98.6,226.0 C100.9,227.0 102.1,227.9 104.4,228.9 C106.6,229.9 109.5,231.1 112.1,231.8 C114.7,232.4 117.2,232.5 119.8,232.8 C122.5,233.0 126.6,233.2 128.0,233.2" fill="none" stroke="#000" stroke-width="3.0" stroke-linecap="round" transform="translate(0,1.50)"/><path d="M69.2,226.0 C70.4,226.2 74.0,226.5 76.5,227.0 C78.9,227.5 81.7,228.1 84.2,228.9 C86.6,229.7 88.8,230.8 90.9,231.8 C93.0,232.8 94.8,233.7 96.7,234.7 C98.6,235.6 100.2,236.8 102.5,237.6 C104.7,238.4 107.6,239.0 110.2,239.5 C112.7,240.0 114.9,240.1 117.9,240.5 C120.8,240.8 126.3,241.3 128.0,241.4" fill="none" stroke="#000" stroke-width="3.0" stroke-linecap="round" transform="translate(0,1.50)"/><path d="M69.2,228.4 C70.4,228.7 74.0,229.3 76.5,229.9 C78.9,230.4 81.7,231.1 84.2,231.8 C86.6,232.4 88.8,233.1 90.9,233.7 C93.0,234.4 95.7,235.3 96.7,235.6" fill="none" stroke="#000" stroke-width="3.0" stroke-linecap="round" transform="translate(0,1.50)"/><path d="M69.2,230.8 C70.4,231.0 74.0,231.3 76.5,231.8 C78.9,232.3 81.7,233.0 84.2,233.7 C86.6,234.4 88.8,235.4 90.9,236.1 C93.0,236.8 94.8,237.3 96.7,238.1 C98.6,238.8 100.5,239.7 102.5,240.5 C104.4,241.2 106.2,241.7 108.2,242.4 C110.3,243.0 112.7,243.7 115.0,244.3 C117.2,245.0 119.6,245.8 121.7,246.2 C123.9,246.7 126.9,247.0 128.0,247.2" fill="none" stroke="#000" stroke-width="3.0" stroke-linecap="round" transform="translate(0,1.50)"/><path d="M69.6,92.1 C70.5,91.0 72.9,88.5 74.8,85.7 C76.8,82.9 79.1,76.2 81.3,75.2 C83.4,74.1 85.3,77.1 87.7,79.3 C90.0,81.5 92.8,85.1 95.4,88.3 C98.0,91.5 100.5,95.5 103.1,98.5 C105.7,101.5 108.5,104.1 110.8,106.2 C113.2,108.4 115.3,110.3 117.2,111.4 C119.2,112.5 120.5,112.9 122.4,112.7 C124.3,112.5 126.4,111.8 128.8,110.1 C131.2,108.4 133.9,105.0 136.5,102.4 C139.1,99.8 142.0,96.8 144.2,94.7 C146.5,92.5 149.0,90.4 150.0,89.5" fill="none" stroke="#4194cc" stroke-width="2.9" stroke-linecap="round"/><path d="M69.6,81.2 C70.5,81.4 72.9,81.5 74.8,82.5 C76.8,83.4 79.1,85.5 81.3,87.0 C83.4,88.5 85.3,89.9 87.7,91.5 C90.0,93.1 92.8,95.4 95.4,96.6 C98.0,97.8 100.1,98.3 103.1,98.5 C106.1,98.8 110.2,98.1 113.4,97.9 C116.6,97.7 119.8,97.8 122.4,97.3 C124.9,96.7 126.4,96.2 128.8,94.7 C131.2,93.2 133.9,90.6 136.5,88.3 C139.1,85.9 142.0,82.8 144.2,80.6 C146.5,78.3 149.0,75.7 150.0,74.8" fill="none" stroke="#4194cc" stroke-width="2.9" stroke-linecap="round"/><path d="M69.6,94.7 C70.5,96.4 73.1,101.8 74.8,105.0 C76.6,108.2 78.3,111.0 80.0,114.0 C81.7,117.0 83.6,120.4 85.1,122.9 C86.6,125.5 87.7,127.0 89.0,129.4 C90.3,131.7 91.5,134.5 92.8,137.1 C94.1,139.7 95.7,143.0 96.7,144.8 C97.7,146.6 98.3,147.5 98.6,148.0" fill="none" stroke="#4194cc" stroke-width="2.9" stroke-linecap="round"/><path d="M72.3,89.5 C73.1,91.7 75.7,98.8 77.4,102.4 C79.1,106.0 80.8,108.4 82.6,111.4 C84.3,114.4 86.2,117.8 87.7,120.4 C89.2,122.9 90.3,125.3 91.5,126.8 C92.8,128.3 93.5,128.3 95.4,129.4 C97.3,130.4 100.8,131.9 103.1,133.2 C105.5,134.5 107.4,135.8 109.5,137.1 C111.7,138.4 114.9,140.3 116.0,140.9" fill="none" stroke="#4194cc" stroke-width="2.9" stroke-linecap="round"/><path d="M68.4,140.9 C69.5,140.5 72.7,139.3 74.8,138.4 C77.0,137.4 79.1,136.1 81.3,135.2 C83.4,134.2 86.0,133.0 87.7,132.6 C89.4,132.2 90.4,131.4 91.5,132.6 C92.7,133.8 93.8,137.1 94.8,139.7 C95.7,142.2 96.9,146.6 97.3,148.0" fill="none" stroke="#4194cc" stroke-width="2.9" stroke-linecap="round"/><path d="M99.3,145.4 C100.1,144.7 102.5,142.5 104.4,140.9 C106.3,139.3 108.7,137.2 110.8,135.8 C113.0,134.4 115.1,133.2 117.2,132.6 C119.4,131.9 121.3,131.9 123.7,131.9 C126.0,131.9 128.8,132.6 131.4,132.6 C133.9,132.6 136.7,132.7 139.1,131.9 C141.4,131.2 143.7,129.4 145.5,128.1 C147.3,126.8 149.3,124.9 150.0,124.2" fill="none" stroke="#4194cc" stroke-width="2.9" stroke-linecap="round"/><path d="M150.0,89.5 C150.2,89.3 150.1,89.1 151.4,88.3 C152.7,87.4 155.7,84.4 157.8,84.4 C160.0,84.4 162.3,86.6 164.3,88.3 C166.2,90.0 168.0,93.1 169.4,94.7 C170.8,96.2 171.4,97.5 172.6,97.6 C173.8,97.8 174.7,97.4 176.5,95.7 C178.3,94.0 181.5,89.6 183.5,87.6 C185.6,85.6 186.5,85.2 188.7,83.8 C190.8,82.4 193.4,80.6 196.4,79.3 C199.4,78.0 203.7,76.4 206.7,76.1 C209.7,75.7 212.2,76.6 214.4,77.3 C216.5,78.1 218.0,79.5 219.5,80.6 C221.0,81.6 222.2,82.9 223.4,83.8 C224.5,84.6 225.9,85.4 226.4,85.7" fill="none" stroke="#4194cc" stroke-width="2.9" stroke-linecap="round"/><path d="M150.0,74.8 C151.1,74.2 154.6,71.5 156.6,71.6 C158.5,71.7 160.0,73.9 161.7,75.4 C163.4,76.9 165.0,78.7 166.8,80.6 C168.7,82.4 170.9,85.7 172.6,86.3 C174.3,86.9 175.6,84.7 177.1,84.2 C178.6,83.6 180.1,82.6 181.6,82.9 C183.1,83.1 184.7,84.4 186.1,85.7 C187.5,87.0 188.3,88.5 190.0,90.8 C191.7,93.2 194.5,97.3 196.4,99.8 C198.3,102.4 200.0,104.6 201.5,106.2 C203.0,107.9 203.9,109.9 205.4,109.5 C206.9,109.0 208.8,106.4 210.5,103.7 C212.2,101.0 213.9,96.5 215.7,93.4 C217.4,90.3 219.0,87.2 220.8,85.1 C222.6,82.9 225.5,81.3 226.4,80.6" fill="none" stroke="#4194cc" stroke-width="2.9" stroke-linecap="round"/><path d="M150.0,124.2 C150.2,124.0 150.1,124.4 151.4,122.9 C152.7,121.5 155.7,117.8 157.8,115.2 C160.0,112.7 162.3,109.9 164.3,107.5 C166.2,105.2 167.9,102.5 169.4,101.1 C170.9,99.7 171.8,99.0 173.3,99.2 C174.8,99.4 176.7,100.8 178.4,102.4 C180.1,104.0 181.6,106.5 183.5,108.8 C185.5,111.2 187.8,114.2 190.0,116.5 C192.1,118.9 194.5,121.2 196.4,122.9 C198.3,124.7 200.0,126.2 201.5,126.8 C203.0,127.4 203.9,126.2 205.4,126.8 C206.9,127.4 208.8,129.3 210.5,130.7 C212.2,132.0 213.9,134.0 215.7,135.2 C217.4,136.3 219.0,137.0 220.8,137.7 C222.6,138.5 225.5,139.3 226.4,139.7" fill="none" stroke="#4194cc" stroke-width="2.9" stroke-linecap="round"/><path d="M141.1,153.4 C141.9,152.8 143.9,152.3 145.6,149.5 C147.4,146.8 149.4,140.9 151.4,137.1 C153.5,133.3 155.7,130.2 157.8,126.8 C160.0,123.4 162.3,119.5 164.3,116.5 C166.2,113.5 167.9,110.9 169.4,108.8 C171.0,106.8 172.2,104.3 173.5,104.3 C174.8,104.3 175.7,106.4 177.1,108.8 C178.6,111.3 180.5,115.7 182.3,119.1 C184.0,122.5 185.9,126.4 187.4,129.4 C188.9,132.4 190.1,134.7 191.2,137.1 C192.4,139.4 193.6,141.7 194.5,143.5 C195.3,145.3 196.1,147.3 196.4,148.0" fill="none" stroke="#4194cc" stroke-width="2.9" stroke-linecap="round"/><path d="M225.9,80.6 C225.4,81.6 224.0,84.2 222.7,87.0 C221.4,89.8 219.8,93.6 218.2,97.3 C216.6,100.9 214.8,105.0 213.1,108.8 C211.4,112.7 209.6,117.0 207.9,120.4 C206.3,123.8 204.8,126.6 203.5,129.4 C202.1,132.2 200.7,134.9 199.6,137.1 C198.5,139.2 197.9,140.4 197.0,142.2 C196.2,144.0 194.9,147.0 194.5,148.0" fill="none" stroke="#4194cc" stroke-width="2.9" stroke-linecap="round"/><path d="M226.4,97.3 C225.7,98.5 223.7,102.2 222.1,105.0 C220.5,107.7 218.7,110.7 216.9,114.0 C215.2,117.2 213.3,121.2 211.8,124.2 C210.3,127.2 209.0,129.6 207.9,131.9 C206.9,134.3 206.2,136.2 205.4,138.4 C204.5,140.5 203.5,143.2 202.8,144.8 C202.2,146.4 201.7,147.5 201.5,148.0" fill="none" stroke="#4194cc" stroke-width="2.9" stroke-linecap="round"/><path d="M98.4,148.8 C99.0,149.6 100.6,151.6 101.8,153.3 C102.9,154.9 104.1,157.1 105.1,158.8 C106.0,160.4 106.4,162.8 107.3,163.2 C108.2,163.6 108.9,161.7 110.6,161.0 C112.2,160.2 115.0,159.3 117.2,158.8 C119.4,158.2 122.0,157.9 123.8,157.7 C125.6,157.4 127.3,157.2 128.0,157.1" fill="none" stroke="#4194cc" stroke-width="2.9" stroke-linecap="round"/><path d="M98.4,140.0 C99.0,140.6 100.5,142.6 101.8,143.3 C103.0,144.0 104.7,144.6 106.2,144.4 C107.6,144.2 109.5,142.9 110.6,142.2 C111.7,141.5 112.4,140.4 112.8,140.0" fill="none" stroke="#4194cc" stroke-width="2.9" stroke-linecap="round"/><path d="M68.6,157.1 C69.5,157.2 72.3,157.2 74.1,157.9 C76.0,158.6 77.9,159.9 79.7,161.2 C81.4,162.5 83.0,164.6 84.6,165.9 C86.3,167.3 87.9,168.7 89.6,169.6 C91.4,170.5 93.3,171.1 95.1,171.2 C97.0,171.4 98.9,171.1 100.6,170.7 C102.4,170.3 104.8,169.2 105.6,168.9" fill="none" stroke="#4194cc" stroke-width="2.9" stroke-linecap="round"/><path d="M76.4,176.4 C77.3,175.7 80.0,173.8 81.9,172.0 C83.7,170.3 85.6,167.9 87.4,165.9 C89.2,164.0 91.3,161.8 92.9,160.4 C94.6,159.1 96.0,158.2 97.3,158.0 C98.7,157.8 100.0,158.5 101.2,159.3 C102.4,160.2 103.4,161.7 104.5,163.2 C105.6,164.7 106.7,166.5 107.8,168.2 C108.9,169.8 109.9,171.5 111.1,173.1 C112.3,174.8 113.6,176.7 115.0,178.1 C116.4,179.5 117.9,180.7 119.4,181.4 C120.9,182.1 122.4,182.5 123.8,182.5 C125.3,182.5 127.3,181.6 128.0,181.4" fill="none" stroke="#4194cc" stroke-width="2.9" stroke-linecap="round"/><path d="M68.6,170.0 C69.7,170.0 73.0,169.9 75.3,169.8 C77.5,169.7 79.9,169.5 81.9,169.6 C83.9,169.7 85.4,169.8 87.4,170.4 C89.4,171.0 91.8,172.1 94.0,173.1 C96.2,174.1 98.4,175.3 100.6,176.4 C102.9,177.5 105.1,178.6 107.3,179.8 C109.5,180.9 111.9,182.1 113.9,183.1 C115.9,184.0 117.8,184.7 119.4,185.3 C121.1,185.8 122.4,186.1 123.8,186.4 C125.3,186.7 127.3,186.8 128.0,186.9" fill="none" stroke="#4194cc" stroke-width="2.9" stroke-linecap="round"/><path d="M68.6,175.9 C69.5,175.8 72.1,175.5 74.1,175.1 C76.2,174.7 78.7,174.0 80.8,173.7 C82.8,173.3 84.3,173.0 86.3,173.1 C88.3,173.2 90.9,173.7 92.9,174.2 C94.9,174.8 96.6,175.6 98.4,176.4 C100.3,177.3 102.1,178.3 104.0,179.2 C105.8,180.1 107.6,181.1 109.5,182.0 C111.3,182.8 113.2,183.6 115.0,184.2 C116.8,184.7 118.4,185.0 120.5,185.3 C122.7,185.5 126.8,185.7 128.0,185.8" fill="none" stroke="#4194cc" stroke-width="2.9" stroke-linecap="round"/><path d="M68.6,178.1 C69.9,178.0 73.8,177.5 76.4,177.5 C78.9,177.5 81.7,177.9 84.1,178.1 C86.5,178.3 88.5,178.2 90.7,178.6 C92.9,179.1 95.1,179.9 97.3,180.9 C99.5,181.8 101.8,183.1 104.0,184.2 C106.2,185.3 108.4,186.6 110.6,187.5 C112.8,188.4 115.0,189.1 117.2,189.7 C119.4,190.2 122.0,190.5 123.8,190.8 C125.6,191.1 127.3,191.3 128.0,191.3" fill="none" stroke="#4194cc" stroke-width="2.9" stroke-linecap="round"/><path d="M68.6,200.2 C69.7,200.5 73.2,201.1 75.3,201.8 C77.3,202.6 79.1,203.9 80.8,204.6 C82.4,205.3 83.5,206.1 85.2,206.3 C86.8,206.4 88.7,206.2 90.7,205.7 C92.7,205.2 95.1,204.3 97.3,203.5 C99.5,202.7 101.9,201.6 104.0,200.7 C106.0,199.9 107.6,199.4 109.5,198.5 C111.3,197.7 113.0,196.5 115.0,195.8 C117.0,195.0 119.5,194.4 121.6,194.1 C123.8,193.8 127.0,194.1 128.0,194.1" fill="none" stroke="#4194cc" stroke-width="2.9" stroke-linecap="round"/><path d="M115.8,141.1 C116.2,141.2 116.5,141.3 118.0,141.7 C119.5,142.0 122.4,142.3 124.6,143.3 C126.8,144.3 129.2,146.3 131.3,147.7 C133.3,149.1 135.1,150.7 136.8,151.6 C138.4,152.5 139.7,153.6 141.2,153.3 C142.7,152.9 144.9,150.0 145.6,149.4" fill="none" stroke="#4194cc" stroke-width="2.9" stroke-linecap="round"/><path d="M118.0,158.8 C119.1,158.6 122.4,158.0 124.6,157.7 C126.8,157.3 129.0,156.9 131.3,156.6 C133.5,156.2 135.7,155.6 137.9,155.5 C140.1,155.4 142.3,155.6 144.5,156.0 C146.7,156.4 148.9,157.1 151.1,157.7 C153.3,158.2 155.5,158.9 157.8,159.3 C160.0,159.8 162.2,160.2 164.4,160.4 C166.6,160.7 168.8,161.0 171.0,161.0 C173.2,161.0 175.5,160.6 177.6,160.4 C179.8,160.2 183.0,160.0 184.0,159.9" fill="none" stroke="#4194cc" stroke-width="2.9" stroke-linecap="round"/><path d="M129.0,177.5 C130.0,176.3 132.5,172.4 134.6,169.8 C136.6,167.2 139.3,163.3 141.2,162.1 C143.0,160.9 143.6,161.7 145.6,162.6 C147.6,163.6 150.6,165.9 153.3,167.6 C156.1,169.3 159.2,171.3 162.2,172.6 C165.1,173.9 168.8,174.9 171.0,175.3 C173.2,175.8 173.9,176.1 175.4,175.3 C176.9,174.6 178.4,172.9 179.8,170.9 C181.3,168.9 183.3,164.5 184.0,163.2" fill="none" stroke="#4194cc" stroke-width="2.9" stroke-linecap="round"/><path d="M118.0,182.0 C119.1,182.1 122.4,182.8 124.6,183.1 C126.8,183.3 128.7,183.6 131.3,183.6 C133.8,183.6 137.1,183.2 140.1,183.1 C143.0,182.9 146.0,182.6 148.9,182.5 C151.9,182.4 154.8,182.6 157.8,182.5 C160.7,182.4 163.6,182.0 166.6,182.0 C169.5,182.0 172.5,182.5 175.4,182.5 C178.3,182.5 182.6,182.1 184.0,182.0" fill="none" stroke="#4194cc" stroke-width="2.9" stroke-linecap="round"/><path d="M126.8,184.2 C129.0,184.3 136.0,184.5 140.1,184.7 C144.1,184.9 148.2,184.8 151.1,185.3 C154.1,185.7 155.5,186.7 157.8,187.5 C160.0,188.3 162.4,189.2 164.4,190.2 C166.4,191.3 167.9,192.2 169.9,193.6 C171.9,194.9 174.2,197.1 176.5,198.5 C178.9,199.9 182.8,201.3 184.0,201.8" fill="none" stroke="#4194cc" stroke-width="2.9" stroke-linecap="round"/><path d="M118.0,194.1 C119.5,193.9 123.9,193.1 126.8,193.0 C129.8,192.9 132.7,193.4 135.7,193.6 C138.6,193.7 141.6,193.8 144.5,194.1 C147.4,194.4 150.4,194.7 153.3,195.2 C156.3,195.8 159.4,196.7 162.2,197.4 C164.9,198.2 167.5,199.0 169.9,199.6 C172.3,200.3 174.2,200.9 176.5,201.3 C178.9,201.7 182.8,201.7 184.0,201.8" fill="none" stroke="#4194cc" stroke-width="2.9" stroke-linecap="round"/><path d="M118.0,196.3 C119.5,196.5 123.9,196.9 126.8,197.4 C129.8,198.0 132.7,198.8 135.7,199.6 C138.6,200.5 141.6,201.5 144.5,202.4 C147.4,203.3 150.4,204.3 153.3,205.2 C156.3,206.0 159.4,206.7 162.2,207.4 C164.9,208.0 167.3,208.6 169.9,209.0 C172.5,209.5 175.3,210.0 177.6,210.1 C180.0,210.2 183.0,209.7 184.0,209.6" fill="none" stroke="#4194cc" stroke-width="2.9" stroke-linecap="round"/><path d="M118.0,201.8 C119.1,202.0 122.8,202.6 124.6,202.9 C126.5,203.3 127.6,203.1 129.0,204.0 C130.5,205.0 132.0,206.8 133.5,208.5 C134.9,210.1 136.4,212.1 137.9,214.0 C139.3,215.8 140.8,217.8 142.3,219.5 C143.8,221.2 145.2,223.0 146.7,223.9 C148.2,224.8 149.5,225.2 151.1,225.0 C152.8,224.8 154.8,223.7 156.6,222.8 C158.5,221.9 160.3,220.4 162.2,219.5 C164.0,218.6 165.9,217.8 167.7,217.3 C169.5,216.7 171.2,216.4 173.2,216.2 C175.2,216.0 178.0,216.0 179.8,216.2 C181.6,216.4 183.3,217.1 184.0,217.3" fill="none" stroke="#4194cc" stroke-width="2.9" stroke-linecap="round"/><path d="M126.8,201.8 C127.9,202.2 131.3,203.1 133.5,204.0 C135.7,205.0 137.9,206.3 140.1,207.4 C142.3,208.5 144.5,209.6 146.7,210.7 C148.9,211.8 151.1,213.1 153.3,214.0 C155.5,214.9 157.8,215.6 160.0,216.2 C162.2,216.7 164.4,217.1 166.6,217.3 C168.8,217.5 170.3,217.1 173.2,217.3 C176.1,217.5 182.2,218.2 184.0,218.4" fill="none" stroke="#4194cc" stroke-width="2.9" stroke-linecap="round"/><path d="M162.2,223.9 C163.1,223.6 165.9,222.4 167.7,221.7 C169.5,221.0 171.2,220.2 173.2,219.5 C175.2,218.8 178.0,217.8 179.8,217.3 C181.6,216.7 183.3,216.4 184.0,216.2" fill="none" stroke="#4194cc" stroke-width="2.9" stroke-linecap="round"/><path d="M140.1,230.0 C141.9,229.7 147.4,228.7 151.1,228.3 C154.8,228.0 158.5,227.8 162.2,227.8 C165.9,227.8 169.6,228.2 173.2,228.3 C176.9,228.5 182.2,228.8 184.0,228.9" fill="none" stroke="#4194cc" stroke-width="2.9" stroke-linecap="round"/><path d="M168.0,160.4 C169.1,160.4 172.4,160.5 174.6,160.4 C176.8,160.3 179.2,160.1 181.3,159.9 C183.3,159.7 184.9,159.6 186.8,159.3 C188.6,159.0 190.5,158.6 192.3,158.2 C194.1,157.9 196.0,156.7 197.8,157.1 C199.7,157.5 201.3,159.2 203.3,160.4 C205.4,161.6 207.8,162.9 210.0,164.3 C212.2,165.7 214.6,167.7 216.6,168.7 C218.6,169.7 220.5,170.1 222.1,170.4 C223.8,170.6 225.8,170.4 226.5,170.4" fill="none" stroke="#4194cc" stroke-width="2.9" stroke-linecap="round"/><path d="M172.4,173.1 C173.0,173.2 174.6,173.9 175.7,173.7 C176.8,173.5 177.8,173.2 179.0,172.0 C180.3,170.8 182.0,168.7 183.5,166.5 C184.9,164.3 186.4,161.2 187.9,158.8 C189.3,156.4 190.8,154.0 192.3,152.1 C193.8,150.3 195.2,149.2 196.7,147.7 C198.2,146.3 199.8,144.6 201.1,143.3 C202.4,142.0 203.9,140.6 204.4,140.0" fill="none" stroke="#4194cc" stroke-width="2.9" stroke-linecap="round"/><path d="M204.4,140.0 C205.4,140.9 208.3,143.9 210.0,145.5 C211.6,147.2 212.9,148.5 214.4,149.9 C215.9,151.4 217.3,153.3 218.8,154.4 C220.3,155.5 221.9,156.1 223.2,156.6 C224.5,157.0 226.0,157.0 226.5,157.1" fill="none" stroke="#4194cc" stroke-width="2.9" stroke-linecap="round"/><path d="M168.0,184.2 C169.1,184.3 172.4,184.9 174.6,184.7 C176.8,184.5 179.0,183.9 181.3,183.1 C183.5,182.2 185.9,180.9 187.9,179.8 C189.9,178.6 191.7,177.4 193.4,176.4 C195.1,175.5 196.5,174.4 197.8,174.2 C199.1,174.0 200.0,174.4 201.1,175.3 C202.2,176.3 203.2,178.1 204.4,179.8 C205.7,181.4 207.6,183.8 208.9,185.3 C210.1,186.7 210.9,188.4 212.2,188.6 C213.5,188.8 215.1,187.3 216.6,186.4 C218.1,185.5 219.3,184.0 221.0,183.1 C222.7,182.1 225.6,181.2 226.5,180.9" fill="none" stroke="#4194cc" stroke-width="2.9" stroke-linecap="round"/><path d="M179.0,197.4 C179.8,196.5 182.0,193.7 183.5,191.9 C184.9,190.1 186.4,188.0 187.9,186.4 C189.3,184.7 190.8,183.2 192.3,182.0 C193.8,180.7 195.2,179.5 196.7,178.6 C198.2,177.8 199.3,177.5 201.1,177.0 C203.0,176.4 205.5,175.8 207.8,175.3 C210.0,174.9 212.2,174.5 214.4,174.2 C216.6,174.0 219.0,173.8 221.0,173.7 C223.0,173.6 225.6,173.7 226.5,173.7" fill="none" stroke="#4194cc" stroke-width="2.9" stroke-linecap="round"/><path d="M168.0,196.3 C169.1,196.5 172.8,197.1 174.6,197.4 C176.5,197.8 177.6,197.6 179.0,198.5 C180.5,199.4 182.0,201.7 183.5,202.9 C184.9,204.2 186.0,205.5 187.9,206.3 C189.7,207.0 192.3,207.5 194.5,207.4 C196.7,207.2 199.3,206.1 201.1,205.2 C203.0,204.2 204.1,203.1 205.5,201.8 C207.0,200.5 208.9,198.3 210.0,197.4 C211.1,196.5 211.2,195.9 212.2,196.3 C213.1,196.7 214.2,198.7 215.5,199.6 C216.8,200.5 218.1,201.7 219.9,201.8 C221.7,201.9 225.4,200.5 226.5,200.2" fill="none" stroke="#4194cc" stroke-width="2.9" stroke-linecap="round"/><path d="M168.0,209.6 C169.1,209.4 172.4,209.0 174.6,208.5 C176.8,207.9 179.0,206.3 181.3,206.3 C183.5,206.3 185.7,207.7 187.9,208.5 C190.1,209.2 192.3,210.1 194.5,210.7 C196.7,211.2 198.9,211.8 201.1,211.8 C203.3,211.8 205.5,211.2 207.8,210.7 C210.0,210.1 212.2,208.5 214.4,208.5 C216.6,208.5 219.0,209.8 221.0,210.7 C223.0,211.6 225.6,213.4 226.5,214.0" fill="none" stroke="#4194cc" stroke-width="2.9" stroke-linecap="round"/><path d="M168.0,217.3 C169.1,217.1 172.4,216.6 174.6,216.2 C176.8,215.8 179.0,214.9 181.3,215.1 C183.5,215.3 185.7,216.6 187.9,217.3 C190.1,218.0 192.3,219.1 194.5,219.5 C196.7,219.9 198.9,219.7 201.1,219.5 C203.3,219.3 205.5,218.6 207.8,218.4 C210.0,218.2 212.2,218.3 214.4,218.4 C216.6,218.5 219.0,218.9 221.0,219.0 C223.0,219.0 225.6,219.0 226.5,219.0" fill="none" stroke="#4194cc" stroke-width="2.9" stroke-linecap="round"/><path d="M168.0,223.9 C169.5,223.7 174.3,222.8 176.8,222.8 C179.4,222.8 181.3,223.2 183.5,223.9 C185.7,224.7 188.2,226.2 190.1,227.2 C191.9,228.2 193.8,229.5 194.5,230.0" fill="none" stroke="#4194cc" stroke-width="2.9" stroke-linecap="round"/><path d="M201.1,228.3 C202.6,227.8 207.4,225.8 210.0,225.0 C212.5,224.3 214.4,223.9 216.6,223.9 C218.8,223.9 221.6,224.7 223.2,225.0 C224.9,225.4 226.0,225.9 226.5,226.1" fill="none" stroke="#4194cc" stroke-width="2.9" stroke-linecap="round"/><path d="M134.1,230.3 C136.2,230.1 143.0,229.5 146.9,229.1 C150.7,228.6 153.7,228.4 157.1,227.8 C160.5,227.1 163.9,226.1 167.3,225.2 C170.7,224.4 174.1,223.5 177.5,222.7 C180.9,221.8 183.5,220.7 187.7,220.1 C192.0,219.5 198.0,219.3 203.1,218.8 C208.2,218.4 214.4,217.8 218.4,217.6 C222.4,217.3 225.4,217.6 226.8,217.6" fill="none" stroke="#4194cc" stroke-width="2.9" stroke-linecap="round"/><path d="M122.1,235.4 C124.5,235.0 132.1,233.9 136.6,232.9 C141.2,231.8 145.2,229.9 149.4,229.1 C153.7,228.2 158.1,227.8 162.2,227.8 C166.3,227.8 170.5,228.2 173.9,229.1 C177.4,229.9 179.5,231.4 182.6,232.9 C185.8,234.4 189.4,236.7 192.9,238.0 C196.3,239.3 199.7,240.3 203.1,240.5 C206.5,240.8 209.3,240.1 213.3,239.3 C217.3,238.4 224.6,236.1 226.8,235.4" fill="none" stroke="#4194cc" stroke-width="2.9" stroke-linecap="round"/><path d="M122.1,240.5 C124.5,240.3 131.7,239.9 136.6,239.3 C141.6,238.6 146.9,237.4 152.0,236.7 C157.1,236.1 163.0,235.2 167.3,235.4 C171.6,235.7 174.1,236.7 177.5,238.0 C180.9,239.3 184.3,241.6 187.7,243.1 C191.2,244.6 194.6,245.9 198.0,246.9 C201.4,248.0 204.8,248.6 208.2,249.5 C211.6,250.3 215.3,251.4 218.4,252.0 C221.5,252.7 225.4,253.1 226.8,253.3" fill="none" stroke="#4194cc" stroke-width="2.9" stroke-linecap="round"/><path d="M173.9,240.5 C175.4,240.1 179.5,239.3 182.6,238.0 C185.8,236.7 189.4,234.6 192.9,232.9 C196.3,231.2 199.7,229.3 203.1,227.8 C206.5,226.3 209.3,224.8 213.3,223.9 C217.3,223.1 224.6,222.9 226.8,222.7" fill="none" stroke="#4194cc" stroke-width="2.9" stroke-linecap="round"/><path d="M136.6,215.0 C137.9,215.9 141.8,218.8 144.3,220.1 C146.9,221.4 149.0,222.0 152.0,222.7 C155.0,223.3 158.5,223.9 162.2,223.9 C165.9,223.9 170.1,222.5 173.9,222.7 C177.8,222.9 181.6,223.9 185.2,225.2 C188.8,226.5 192.4,228.4 195.4,230.3 C198.4,232.2 200.1,234.6 203.1,236.7 C206.1,238.8 209.3,241.6 213.3,243.1 C217.3,244.6 224.6,245.2 226.8,245.7" fill="none" stroke="#4194cc" stroke-width="2.9" stroke-linecap="round"/><path d="M68.6,381.1 C70.3,381.2 75.1,380.9 78.6,381.7 C82.1,382.4 85.9,384.0 89.6,385.5 C93.3,387.0 97.3,389.0 100.6,390.5 C104.0,392.0 106.9,393.3 109.5,394.4 C112.1,395.4 114.1,396.1 116.1,396.6 C118.1,397.0 119.6,397.0 121.6,397.1 C123.6,397.2 127.0,397.1 128.0,397.1" fill="none" stroke="#4194cc" stroke-width="2.9" stroke-linecap="round"/><path d="M68.6,418.1 C70.3,418.6 75.4,419.5 78.6,420.9 C81.7,422.2 84.6,424.4 87.4,426.4 C90.2,428.4 93.1,431.3 95.1,433.0 C97.2,434.7 98.1,435.5 99.5,436.3 C101.0,437.1 101.9,437.8 104.0,438.0 C106.0,438.2 109.1,437.7 111.7,437.4 C114.3,437.1 116.7,436.6 119.4,436.3 C122.1,436.0 126.6,435.9 128.0,435.8" fill="none" stroke="#4194cc" stroke-width="2.9" stroke-linecap="round"/><path d="M98.4,437.4 C99.7,439.3 103.8,445.3 106.2,448.5 C108.6,451.6 110.4,454.5 112.8,456.2 C115.2,457.8 118.0,458.0 120.5,458.4 C123.1,458.8 126.8,458.4 128.0,458.4" fill="none" stroke="#4194cc" stroke-width="2.9" stroke-linecap="round"/><path d="M84.1,459.5 C85.2,458.0 88.5,453.6 90.7,450.7 C92.9,447.7 95.1,445.0 97.3,441.8 C99.5,438.7 101.8,435.2 104.0,431.9 C106.2,428.6 108.6,424.9 110.6,422.0 C112.6,419.0 114.5,416.4 116.1,414.2 C117.8,412.0 119.1,409.8 120.5,408.7 C122.0,407.6 123.7,407.8 124.9,407.6 C126.2,407.4 127.5,407.6 128.0,407.6" fill="none" stroke="#4194cc" stroke-width="2.9" stroke-linecap="round"/><path d="M68.6,451.8 C69.7,452.0 73.0,452.1 75.3,452.9 C77.5,453.6 79.7,455.1 81.9,456.2 C84.1,457.3 86.3,458.5 88.5,459.5 C90.7,460.5 92.9,461.3 95.1,462.3 C97.3,463.2 99.5,464.0 101.8,465.0 C104.0,466.0 107.3,467.8 108.4,468.3" fill="none" stroke="#4194cc" stroke-width="2.9" stroke-linecap="round"/><path d="M68.6,461.7 C69.9,461.5 73.8,461.3 76.4,460.6 C78.9,459.9 81.3,458.6 84.1,457.3 C86.8,456.0 90.0,454.2 92.9,452.9 C95.9,451.6 98.8,450.5 101.8,449.6 C104.7,448.6 107.6,447.9 110.6,447.4 C113.5,446.8 116.5,446.4 119.4,446.3 C122.3,446.1 126.6,446.3 128.0,446.3" fill="none" stroke="#4194cc" stroke-width="2.9" stroke-linecap="round"/><path d="M68.6,468.3 C70.3,468.2 75.1,468.0 78.6,467.2 C82.1,466.5 85.9,464.8 89.6,463.9 C93.3,463.1 97.0,462.6 100.6,462.3 C104.3,461.9 108.0,461.7 111.7,461.7 C115.4,461.7 120.0,462.2 122.7,462.3 C125.5,462.4 127.2,462.3 128.0,462.3" fill="none" stroke="#4194cc" stroke-width="2.9" stroke-linecap="round"/><path d="M89.6,461.7 C90.5,462.6 93.8,465.9 95.1,467.2 C96.4,468.6 97.0,469.5 97.3,470.0" fill="none" stroke="#4194cc" stroke-width="2.9" stroke-linecap="round"/><path d="M108.4,461.7 C109.5,462.1 112.8,463.0 115.0,463.9 C117.2,464.8 119.5,466.5 121.6,467.2 C123.8,468.0 127.0,468.2 128.0,468.3" fill="none" stroke="#4194cc" stroke-width="2.9" stroke-linecap="round"/><path d="M118.0,396.6 C119.8,396.5 125.4,395.9 129.0,396.0 C132.7,396.1 136.4,396.2 140.1,397.1 C143.8,398.0 147.8,400.0 151.1,401.5 C154.4,403.1 157.4,404.8 160.0,406.5 C162.5,408.3 164.7,410.7 166.6,412.0 C168.4,413.3 169.3,414.4 171.0,414.2 C172.7,414.0 174.4,412.6 176.5,410.9 C178.7,409.3 182.8,405.4 184.0,404.3" fill="none" stroke="#4194cc" stroke-width="2.9" stroke-linecap="round"/><path d="M118.0,402.1 C119.1,402.2 121.9,402.1 124.6,402.6 C127.4,403.2 131.1,404.3 134.6,405.4 C138.1,406.5 141.9,408.2 145.6,409.3 C149.3,410.4 153.5,411.4 156.6,412.0 C159.8,412.7 162.0,412.8 164.4,413.1 C166.8,413.5 168.8,413.7 171.0,414.2 C173.2,414.8 175.5,415.9 177.6,416.4 C179.8,417.0 183.0,417.4 184.0,417.5" fill="none" stroke="#4194cc" stroke-width="2.9" stroke-linecap="round"/><path d="M118.0,409.8 C119.1,409.5 121.9,408.3 124.6,408.2 C127.4,408.1 131.4,408.6 134.6,409.3 C137.7,409.9 140.6,411.0 143.4,412.0 C146.2,413.0 148.6,414.1 151.1,415.3 C153.7,416.5 156.5,418.1 158.9,419.2 C161.2,420.3 163.5,421.7 165.5,422.0 C167.5,422.2 169.2,421.6 171.0,420.9 C172.8,420.1 174.4,418.6 176.5,417.5 C178.7,416.4 182.8,414.8 184.0,414.2" fill="none" stroke="#4194cc" stroke-width="2.9" stroke-linecap="round"/><path d="M118.0,436.9 C119.8,436.9 125.4,436.7 129.0,436.9 C132.7,437.1 136.4,437.4 140.1,438.0 C143.8,438.5 147.8,439.5 151.1,440.2 C154.4,440.8 157.4,441.3 160.0,441.8 C162.5,442.4 164.4,442.9 166.6,443.5 C168.8,444.0 171.0,444.3 173.2,445.2 C175.4,446.0 178.0,446.6 179.8,448.5 C181.6,450.3 183.3,454.9 184.0,456.2" fill="none" stroke="#4194cc" stroke-width="2.9" stroke-linecap="round"/><path d="M118.0,456.2 C119.5,455.8 123.9,455.1 126.8,454.0 C129.8,452.9 132.9,451.0 135.7,449.6 C138.4,448.1 140.8,446.8 143.4,445.2 C146.0,443.5 148.7,441.5 151.1,439.6 C153.5,437.8 155.5,435.9 157.8,434.1 C160.0,432.3 162.2,429.9 164.4,428.6 C166.6,427.3 168.8,426.9 171.0,426.4 C173.2,425.8 175.5,425.5 177.6,425.3 C179.8,425.0 183.0,424.8 184.0,424.7" fill="none" stroke="#4194cc" stroke-width="2.9" stroke-linecap="round"/><path d="M118.0,459.5 C119.8,459.5 125.4,459.9 129.0,459.5 C132.7,459.1 136.8,458.6 140.1,457.3 C143.4,456.0 146.3,454.0 148.9,451.8 C151.5,449.6 153.3,446.6 155.5,444.0 C157.8,441.5 160.1,438.3 162.2,436.3 C164.2,434.3 165.9,433.0 167.7,431.9 C169.5,430.8 171.2,430.2 173.2,429.7 C175.2,429.1 178.0,429.0 179.8,428.6 C181.6,428.2 183.3,427.7 184.0,427.5" fill="none" stroke="#4194cc" stroke-width="2.9" stroke-linecap="round"/><path d="M131.3,459.5 C132.7,458.8 137.1,456.6 140.1,455.1 C143.0,453.6 146.0,452.0 148.9,450.7 C151.9,449.4 154.8,448.1 157.8,447.4 C160.7,446.6 163.6,446.3 166.6,446.3 C169.5,446.3 172.5,446.6 175.4,447.4 C178.3,448.1 182.6,450.1 184.0,450.7" fill="none" stroke="#4194cc" stroke-width="2.9" stroke-linecap="round"/><path d="M118.0,466.1 C119.8,466.3 125.4,467.2 129.0,467.2 C132.7,467.2 136.4,466.5 140.1,466.1 C143.8,465.8 147.4,465.3 151.1,465.0 C154.8,464.8 158.5,464.7 162.2,464.5 C165.9,464.3 169.6,464.1 173.2,463.9 C176.9,463.7 182.2,463.5 184.0,463.4" fill="none" stroke="#4194cc" stroke-width="2.9" stroke-linecap="round"/><path d="M129.0,470.0 C130.5,469.0 135.1,465.7 137.9,463.9 C140.6,462.2 142.8,460.8 145.6,459.5 C148.4,458.2 151.7,456.9 154.4,456.2 C157.2,455.5 160.9,455.3 162.2,455.1" fill="none" stroke="#4194cc" stroke-width="2.9" stroke-linecap="round"/><path d="M172.4,413.1 C173.5,412.6 176.8,411.7 179.0,409.8 C181.3,408.0 183.8,404.3 185.7,402.1 C187.5,399.9 188.6,398.8 190.1,396.6 C191.6,394.4 193.2,391.0 194.5,388.8 C195.8,386.6 196.9,384.8 197.8,383.3 C198.7,381.8 199.7,380.6 200.0,380.0" fill="none" stroke="#4194cc" stroke-width="2.9" stroke-linecap="round"/><path d="M168.0,414.2 C169.1,414.0 172.4,414.0 174.6,413.1 C176.8,412.2 178.7,410.7 181.3,408.7 C183.8,406.7 187.1,403.6 190.1,401.0 C193.0,398.4 196.0,395.6 198.9,393.3 C201.9,390.9 204.8,388.5 207.8,386.6 C210.7,384.8 213.5,383.2 216.6,382.2 C219.7,381.2 224.9,380.8 226.5,380.6" fill="none" stroke="#4194cc" stroke-width="2.9" stroke-linecap="round"/><path d="M190.1,423.1 C191.2,422.3 194.3,419.9 196.7,418.6 C199.1,417.4 201.9,416.2 204.4,415.3 C207.0,414.5 209.6,413.9 212.2,413.7 C214.7,413.5 217.5,413.8 219.9,414.2 C222.3,414.7 225.4,416.1 226.5,416.4" fill="none" stroke="#4194cc" stroke-width="2.9" stroke-linecap="round"/><path d="M184.6,424.2 C185.5,424.5 188.2,425.1 190.1,426.4 C191.9,427.7 193.8,430.1 195.6,431.9 C197.4,433.7 199.5,435.8 201.1,437.4 C202.8,439.1 204.1,440.0 205.5,441.8 C207.0,443.7 208.5,446.3 210.0,448.5 C211.4,450.7 212.7,453.2 214.4,455.1 C216.0,456.9 217.9,458.4 219.9,459.5 C221.9,460.6 225.4,461.3 226.5,461.7" fill="none" stroke="#4194cc" stroke-width="2.9" stroke-linecap="round"/><path d="M192.3,450.7 C193.4,449.6 196.9,446.1 198.9,444.0 C200.9,442.0 202.6,440.5 204.4,438.5 C206.3,436.5 208.1,433.9 210.0,431.9 C211.8,429.9 213.6,428.0 215.5,426.4 C217.3,424.7 219.2,422.5 221.0,422.0 C222.8,421.4 225.6,422.9 226.5,423.1" fill="none" stroke="#4194cc" stroke-width="2.9" stroke-linecap="round"/><path d="M168.0,430.8 C169.1,430.6 172.4,430.1 174.6,429.7 C176.8,429.3 179.0,429.0 181.3,428.6 C183.5,428.2 186.0,427.9 187.9,427.5 C189.7,427.1 191.6,426.6 192.3,426.4" fill="none" stroke="#4194cc" stroke-width="2.9" stroke-linecap="round"/><path d="M168.0,446.3 C169.1,446.3 172.4,446.1 174.6,446.8 C176.8,447.5 179.4,449.1 181.3,450.7 C183.1,452.2 183.8,455.1 185.7,456.2 C187.5,457.3 189.7,457.1 192.3,457.3 C194.9,457.5 198.2,457.5 201.1,457.3 C204.1,457.1 207.2,456.7 210.0,456.2 C212.7,455.6 214.9,454.6 217.7,454.0 C220.5,453.3 225.1,452.6 226.5,452.3" fill="none" stroke="#4194cc" stroke-width="2.9" stroke-linecap="round"/><path d="M168.0,463.9 C169.5,463.9 173.9,463.7 176.8,463.9 C179.8,464.1 183.5,465.2 185.7,465.0 C187.9,464.8 188.2,463.7 190.1,462.8 C191.9,461.9 194.3,460.4 196.7,459.5 C199.1,458.6 201.9,457.7 204.4,457.3 C207.0,456.9 209.6,456.9 212.2,457.3 C214.7,457.7 217.5,458.7 219.9,459.5 C222.3,460.3 225.4,461.8 226.5,462.3" fill="none" stroke="#4194cc" stroke-width="2.9" stroke-linecap="round"/><path d="M194.5,468.3 C195.6,467.6 198.9,465.4 201.1,463.9 C203.3,462.4 205.5,460.8 207.8,459.5 C210.0,458.2 212.2,456.9 214.4,456.2 C216.6,455.5 219.9,455.3 221.0,455.1" fill="none" stroke="#4194cc" stroke-width="2.9" stroke-linecap="round"/><path d="M212.2,463.9 C213.1,464.5 215.9,466.5 217.7,467.2 C219.5,468.0 221.7,468.2 223.2,468.3 C224.7,468.5 226.0,468.3 226.5,468.3" fill="none" stroke="#4194cc" stroke-width="2.9" stroke-linecap="round"/><path d="M68.6,462.2 C70.3,462.1 75.4,462.0 78.6,461.7 C81.7,461.3 85.9,460.3 87.4,460.0" fill="none" stroke="#4194cc" stroke-width="2.9" stroke-linecap="round"/><path d="M68.6,467.7 C71.2,467.2 79.7,465.2 84.1,464.4 C88.5,463.6 90.5,463.1 95.1,462.8 C99.7,462.4 106.2,462.2 111.7,462.2 C117.2,462.2 125.3,462.7 128.0,462.8" fill="none" stroke="#4194cc" stroke-width="2.9" stroke-linecap="round"/><path d="M87.4,460.0 C88.3,460.9 91.1,463.7 92.9,465.5 C94.8,467.4 96.6,469.2 98.4,471.0 C100.3,472.9 102.1,474.7 104.0,476.6 C105.8,478.4 107.8,480.6 109.5,482.1 C111.1,483.6 112.2,484.3 113.9,485.4 C115.6,486.5 117.8,487.6 119.4,488.7 C121.1,489.8 122.4,491.1 123.8,492.0 C125.3,492.9 127.3,493.9 128.0,494.2" fill="none" stroke="#4194cc" stroke-width="2.9" stroke-linecap="round"/><path d="M68.6,474.4 C70.3,474.3 75.1,473.8 78.6,473.8 C82.1,473.8 85.9,474.2 89.6,474.4 C93.3,474.5 97.0,474.7 100.6,474.9 C104.3,475.1 108.0,475.3 111.7,475.5 C115.4,475.6 120.0,475.8 122.7,476.0 C125.5,476.2 127.2,476.5 128.0,476.6" fill="none" stroke="#4194cc" stroke-width="2.9" stroke-linecap="round"/><path d="M68.6,477.1 C70.3,477.2 75.1,477.5 78.6,477.7 C82.1,477.9 85.9,478.0 89.6,478.2 C93.3,478.4 97.0,478.5 100.6,478.8 C104.3,479.0 108.0,479.5 111.7,479.9 C115.4,480.2 120.0,480.8 122.7,481.0 C125.5,481.2 127.2,481.0 128.0,481.0" fill="none" stroke="#4194cc" stroke-width="2.9" stroke-linecap="round"/><path d="M68.6,479.9 C69.7,480.2 72.7,480.6 75.3,481.5 C77.8,482.5 80.8,484.4 84.1,485.4 C87.4,486.4 91.4,487.1 95.1,487.6 C98.8,488.2 102.5,488.6 106.2,488.7 C109.9,488.8 113.6,488.4 117.2,488.2 C120.9,487.9 126.2,487.2 128.0,487.1" fill="none" stroke="#4194cc" stroke-width="2.9" stroke-linecap="round"/><path d="M68.6,489.8 C69.7,489.6 73.0,488.3 75.3,488.7 C77.5,489.1 79.9,490.4 81.9,492.0 C83.9,493.7 85.4,496.3 87.4,498.6 C89.4,501.0 92.0,504.0 94.0,506.4 C96.0,508.8 97.7,510.8 99.5,513.0 C101.4,515.2 103.2,517.6 105.1,519.6 C106.9,521.7 108.6,523.5 110.6,525.2 C112.6,526.8 115.0,528.6 117.2,529.6 C119.4,530.5 122.0,530.7 123.8,530.7 C125.6,530.7 127.3,529.8 128.0,529.6" fill="none" stroke="#4194cc" stroke-width="2.9" stroke-linecap="round"/><path d="M68.6,537.3 C69.7,536.9 73.0,536.6 75.3,535.1 C77.5,533.6 79.7,530.9 81.9,528.5 C84.1,526.1 86.3,523.3 88.5,520.7 C90.7,518.2 93.1,515.4 95.1,513.0 C97.2,510.6 98.8,508.8 100.6,506.4 C102.5,504.0 104.3,501.0 106.2,498.6 C108.0,496.3 109.9,493.9 111.7,492.0 C113.5,490.2 115.2,488.5 117.2,487.6 C119.2,486.7 122.0,486.8 123.8,486.5 C125.6,486.2 127.3,486.0 128.0,485.9" fill="none" stroke="#4194cc" stroke-width="2.9" stroke-linecap="round"/><path d="M68.6,549.4 C70.3,547.8 75.4,543.0 78.6,539.5 C81.7,536.0 84.8,532.0 87.4,528.5 C90.0,525.0 92.2,521.1 94.0,518.5 C95.9,515.9 96.8,514.5 98.4,513.0 C100.1,511.5 102.1,510.6 104.0,509.7 C105.8,508.8 107.6,508.0 109.5,507.5 C111.3,506.9 113.0,506.6 115.0,506.4 C117.0,506.2 119.5,506.2 121.6,506.4 C123.8,506.6 127.0,507.3 128.0,507.5" fill="none" stroke="#4194cc" stroke-width="2.9" stroke-linecap="round"/><path d="M107.3,519.6 C108.2,518.3 111.0,513.7 112.8,511.9 C114.6,510.1 116.3,509.3 118.3,508.6 C120.3,507.9 123.3,507.7 124.9,507.5 C126.6,507.3 127.5,507.5 128.0,507.5" fill="none" stroke="#4194cc" stroke-width="2.9" stroke-linecap="round"/><path d="M104.0,550.0 C105.1,549.0 108.4,545.5 110.6,543.9 C112.8,542.4 115.0,541.3 117.2,540.6 C119.4,539.9 122.0,539.7 123.8,539.5 C125.6,539.3 127.3,539.5 128.0,539.5" fill="none" stroke="#4194cc" stroke-width="2.9" stroke-linecap="round"/><path d="M115.0,537.3 C116.1,536.9 119.5,535.8 121.6,535.1 C123.8,534.4 127.0,533.2 128.0,532.9" fill="none" stroke="#4194cc" stroke-width="2.9" stroke-linecap="round"/><path d="M90.7,550.0 C92.0,547.9 96.2,540.7 98.4,537.3 C100.6,533.9 102.3,531.4 104.0,529.6 C105.6,527.7 106.7,527.0 108.4,526.3 C110.0,525.5 111.9,525.0 113.9,525.2 C115.9,525.3 118.2,526.8 120.5,527.4 C122.9,527.9 126.8,528.3 128.0,528.5" fill="none" stroke="#4194cc" stroke-width="2.9" stroke-linecap="round"/><path d="M118.0,461.1 C119.5,461.2 124.1,461.5 126.8,461.7 C129.6,461.8 132.4,462.5 134.6,462.2 C136.8,461.9 139.2,460.4 140.1,460.0" fill="none" stroke="#4194cc" stroke-width="2.9" stroke-linecap="round"/><path d="M118.0,465.0 C119.8,464.9 125.4,464.2 129.0,464.4 C132.7,464.6 136.8,465.5 140.1,466.1 C143.4,466.6 146.0,467.6 148.9,467.7 C151.9,467.8 154.6,467.1 157.8,466.6 C160.9,466.2 164.6,465.3 167.7,465.0 C170.8,464.6 173.8,464.4 176.5,464.4 C179.2,464.4 182.8,464.9 184.0,465.0" fill="none" stroke="#4194cc" stroke-width="2.9" stroke-linecap="round"/><path d="M124.6,474.4 C126.3,474.2 131.1,473.6 134.6,473.3 C138.1,472.9 142.3,472.0 145.6,472.1 C148.9,472.3 151.7,473.4 154.4,474.4 C157.2,475.3 159.8,476.7 162.2,477.7 C164.6,478.6 166.6,479.6 168.8,479.9 C171.0,480.2 172.9,480.2 175.4,479.3 C178.0,478.4 182.6,475.2 184.0,474.4" fill="none" stroke="#4194cc" stroke-width="2.9" stroke-linecap="round"/><path d="M118.0,477.7 C119.8,477.5 125.4,476.4 129.0,476.6 C132.7,476.7 136.4,477.9 140.1,478.8 C143.8,479.7 147.8,481.0 151.1,482.1 C154.4,483.2 157.2,484.6 160.0,485.4 C162.7,486.2 165.1,486.8 167.7,487.1 C170.3,487.3 172.7,487.5 175.4,487.1 C178.1,486.6 182.6,484.8 184.0,484.3" fill="none" stroke="#4194cc" stroke-width="2.9" stroke-linecap="round"/><path d="M118.0,485.4 C119.8,485.1 125.4,483.6 129.0,483.7 C132.7,483.8 136.4,485.0 140.1,485.9 C143.8,486.9 147.4,488.3 151.1,489.3 C154.8,490.3 159.0,491.4 162.2,492.0 C165.3,492.7 167.3,493.1 169.9,493.1 C172.5,493.1 175.3,492.4 177.6,492.0 C180.0,491.7 183.0,491.1 184.0,490.9" fill="none" stroke="#4194cc" stroke-width="2.9" stroke-linecap="round"/><path d="M118.0,497.5 C119.8,497.6 125.4,497.9 129.0,498.1 C132.7,498.3 136.4,498.6 140.1,498.6 C143.8,498.6 147.4,498.3 151.1,498.1 C154.8,497.9 158.9,497.6 162.2,497.5 C165.5,497.5 168.1,497.4 171.0,497.5 C173.9,497.7 177.7,497.9 179.8,498.6 C182.0,499.4 183.3,501.4 184.0,502.0" fill="none" stroke="#4194cc" stroke-width="2.9" stroke-linecap="round"/><path d="M124.6,483.2 C125.4,484.3 127.6,487.6 129.0,489.8 C130.5,492.0 132.0,494.2 133.5,496.4 C134.9,498.6 136.4,501.0 137.9,503.1 C139.3,505.1 141.0,507.1 142.3,508.6 C143.6,510.1 144.5,511.5 145.6,511.9 C146.7,512.3 147.4,511.7 148.9,510.8 C150.4,509.9 152.2,507.7 154.4,506.4 C156.6,505.1 159.6,504.0 162.2,503.1 C164.7,502.1 167.3,501.0 169.9,500.9 C172.5,500.7 175.3,501.2 177.6,502.0 C180.0,502.7 183.0,504.7 184.0,505.3" fill="none" stroke="#4194cc" stroke-width="2.9" stroke-linecap="round"/><path d="M118.0,506.4 C119.8,506.4 125.4,506.0 129.0,506.4 C132.7,506.7 137.3,507.7 140.1,508.6 C142.8,509.5 144.7,511.3 145.6,511.9" fill="none" stroke="#4194cc" stroke-width="2.9" stroke-linecap="round"/><path d="M118.0,528.5 C119.8,528.3 125.4,528.5 129.0,527.4 C132.7,526.3 137.1,523.1 140.1,521.8 C143.0,520.5 144.5,519.6 146.7,519.6 C148.9,519.6 151.1,520.7 153.3,521.8 C155.5,522.9 157.8,524.6 160.0,526.3 C162.2,527.9 164.4,530.1 166.6,531.8 C168.8,533.4 170.3,535.5 173.2,536.2 C176.1,536.9 182.2,536.2 184.0,536.2" fill="none" stroke="#4194cc" stroke-width="2.9" stroke-linecap="round"/><path d="M118.0,537.3 C119.1,537.1 122.4,536.9 124.6,536.2 C126.8,535.5 129.0,534.5 131.3,532.9 C133.5,531.2 135.7,527.9 137.9,526.3 C140.1,524.6 142.5,523.3 144.5,522.9 C146.5,522.6 148.4,522.9 150.0,524.0 C151.7,525.2 153.0,527.5 154.4,529.6 C155.9,531.6 157.4,534.0 158.9,536.2 C160.3,538.4 162.0,540.8 163.3,542.8 C164.6,544.8 165.7,547.1 166.6,548.3 C167.5,549.5 168.4,549.7 168.8,550.0" fill="none" stroke="#4194cc" stroke-width="2.9" stroke-linecap="round"/><path d="M118.0,540.6 C119.1,540.4 122.4,539.3 124.6,539.5 C126.8,539.7 129.0,540.6 131.3,541.7 C133.5,542.8 136.0,544.8 137.9,546.1 C139.7,547.5 141.6,549.4 142.3,550.0" fill="none" stroke="#4194cc" stroke-width="2.9" stroke-linecap="round"/><path d="M173.2,536.2 C173.9,535.6 175.8,534.2 177.6,532.9 C179.4,531.6 183.0,529.2 184.0,528.5" fill="none" stroke="#4194cc" stroke-width="2.9" stroke-linecap="round"/><path d="M166.6,548.3 C167.3,548.2 169.3,547.6 171.0,547.2 C172.7,546.9 174.4,546.1 176.5,546.1 C178.7,546.1 182.8,547.1 184.0,547.2" fill="none" stroke="#4194cc" stroke-width="2.9" stroke-linecap="round"/><path d="M168.0,464.4 C169.5,464.5 173.9,464.8 176.8,465.0 C179.8,465.2 183.5,465.6 185.7,465.5 C187.9,465.4 188.4,465.0 190.1,464.4 C191.7,463.9 193.9,462.9 195.6,462.2 C197.3,461.5 199.3,460.4 200.0,460.0" fill="none" stroke="#4194cc" stroke-width="2.9" stroke-linecap="round"/><path d="M168.0,477.7 C169.5,477.9 174.1,479.1 176.8,478.8 C179.6,478.4 182.0,476.4 184.6,475.5 C187.1,474.5 189.5,473.7 192.3,473.3 C195.1,472.8 198.2,472.7 201.1,472.7 C204.1,472.7 207.2,472.8 210.0,473.3 C212.7,473.7 214.9,474.7 217.7,475.5 C220.5,476.2 225.1,477.3 226.5,477.7" fill="none" stroke="#4194cc" stroke-width="2.9" stroke-linecap="round"/><path d="M168.0,483.2 C169.1,483.0 172.4,482.6 174.6,482.1 C176.8,481.5 179.0,480.8 181.3,479.9 C183.5,479.0 185.9,477.9 187.9,476.6 C189.9,475.3 191.6,473.6 193.4,472.1 C195.2,470.7 197.1,469.2 198.9,467.7 C200.8,466.3 203.0,464.6 204.4,463.3 C205.9,462.0 207.2,460.6 207.8,460.0" fill="none" stroke="#4194cc" stroke-width="2.9" stroke-linecap="round"/><path d="M168.0,485.4 C169.1,485.6 172.4,486.7 174.6,486.5 C176.8,486.3 179.2,485.0 181.3,484.3 C183.3,483.6 185.1,482.5 186.8,482.1 C188.4,481.7 189.7,481.3 191.2,482.1 C192.7,482.8 194.1,484.7 195.6,486.5 C197.1,488.3 198.9,491.5 200.0,493.1 C201.1,494.8 201.3,496.1 202.2,496.4 C203.2,496.8 204.3,496.3 205.5,495.3 C206.8,494.4 208.3,492.2 210.0,490.9 C211.6,489.6 213.6,488.5 215.5,487.6 C217.3,486.7 219.2,485.9 221.0,485.4 C222.8,484.8 225.6,484.5 226.5,484.3" fill="none" stroke="#4194cc" stroke-width="2.9" stroke-linecap="round"/><path d="M179.0,489.8 C180.1,490.1 183.3,490.9 185.7,491.5 C188.1,492.0 190.8,493.0 193.4,493.1 C196.0,493.2 198.6,492.6 201.1,492.0 C203.7,491.5 206.5,490.9 208.9,489.8 C211.2,488.7 213.5,486.7 215.5,485.4 C217.5,484.1 219.2,483.0 221.0,482.1 C222.8,481.2 225.6,480.2 226.5,479.9" fill="none" stroke="#4194cc" stroke-width="2.9" stroke-linecap="round"/><path d="M168.0,497.5 C169.1,497.6 172.4,497.4 174.6,498.1 C176.8,498.8 179.0,500.6 181.3,502.0 C183.5,503.3 185.7,505.5 187.9,506.4 C190.1,507.3 192.5,507.9 194.5,507.5 C196.5,507.1 198.6,504.5 200.0,504.2 C201.5,503.8 202.2,504.0 203.3,505.3 C204.4,506.6 205.5,509.9 206.6,511.9 C207.8,513.9 208.7,515.4 210.0,517.4 C211.2,519.4 212.9,521.8 214.4,524.0 C215.9,526.3 217.3,528.6 218.8,530.7 C220.3,532.7 221.9,534.9 223.2,536.2 C224.5,537.5 226.0,538.0 226.5,538.4" fill="none" stroke="#4194cc" stroke-width="2.9" stroke-linecap="round"/><path d="M168.0,535.1 C169.1,535.5 172.4,537.3 174.6,537.3 C176.8,537.3 179.0,536.6 181.3,535.1 C183.5,533.6 186.0,530.1 187.9,528.5 C189.7,526.8 190.8,525.9 192.3,525.2 C193.8,524.4 195.2,524.6 196.7,524.0 C198.2,523.5 199.7,522.8 201.1,521.8 C202.6,520.9 204.1,520.0 205.5,518.5 C207.0,517.1 208.5,515.0 210.0,513.0 C211.4,511.0 212.9,508.6 214.4,506.4 C215.9,504.2 217.3,502.1 218.8,499.8 C220.3,497.4 221.9,493.9 223.2,492.0 C224.5,490.2 226.0,489.3 226.5,488.7" fill="none" stroke="#4194cc" stroke-width="2.9" stroke-linecap="round"/><path d="M184.6,515.2 C185.5,515.9 188.1,518.5 190.1,519.6 C192.1,520.7 194.9,521.7 196.7,521.8 C198.6,522.0 199.7,521.7 201.1,520.7 C202.6,519.8 204.1,518.2 205.5,516.3 C207.0,514.5 208.5,511.9 210.0,509.7 C211.4,507.5 212.9,505.3 214.4,503.1 C215.9,500.9 217.3,498.5 218.8,496.4 C220.3,494.4 222.5,491.8 223.2,490.9" fill="none" stroke="#4194cc" stroke-width="2.9" stroke-linecap="round"/><path d="M179.0,550.0 C180.0,549.0 182.7,546.0 184.6,543.9 C186.4,541.8 188.2,539.5 190.1,537.3 C191.9,535.1 193.8,532.7 195.6,530.7 C197.4,528.6 199.3,526.8 201.1,525.2 C203.0,523.5 205.7,521.5 206.6,520.7" fill="none" stroke="#4194cc" stroke-width="2.9" stroke-linecap="round"/><path d="M190.1,550.0 C190.8,549.0 193.0,545.9 194.5,543.9 C196.0,542.0 197.4,540.2 198.9,538.4 C200.4,536.6 201.9,534.5 203.3,532.9 C204.8,531.2 207.0,529.2 207.8,528.5" fill="none" stroke="#4194cc" stroke-width="2.9" stroke-linecap="round"/><path d="M195.6,528.5 C196.5,529.6 199.7,533.1 201.1,535.1 C202.6,537.1 203.3,538.8 204.4,540.6 C205.5,542.4 206.8,544.6 207.8,546.1 C208.7,547.7 209.6,549.4 210.0,550.0" fill="none" stroke="#4194cc" stroke-width="2.9" stroke-linecap="round"/><path d="M206.6,528.5 C207.6,529.4 210.3,532.1 212.2,534.0 C214.0,535.8 215.9,537.7 217.7,539.5 C219.5,541.3 221.7,543.6 223.2,545.0 C224.7,546.5 226.0,547.8 226.5,548.3" fill="none" stroke="#4194cc" stroke-width="2.9" stroke-linecap="round"/><path d="M217.7,460.0 C218.2,460.6 219.5,462.2 221.0,463.3 C222.5,464.4 225.6,466.1 226.5,466.6" fill="none" stroke="#4194cc" stroke-width="2.9" stroke-linecap="round"/><path d="M168.0,547.2 C169.1,547.2 172.8,547.1 174.6,547.2 C176.5,547.4 178.3,548.2 179.0,548.3" fill="none" stroke="#4194cc" stroke-width="2.9" stroke-linecap="round"/><path d="M79.7,540.0 C78.6,541.1 74.9,544.8 73.0,546.6 C71.2,548.5 69.4,550.3 68.6,551.0" fill="none" stroke="#4194cc" stroke-width="2.9" stroke-linecap="round"/><path d="M68.6,551.0 C69.4,551.3 71.4,552.1 73.0,552.7 C74.7,553.3 76.7,554.6 78.6,554.9 C80.4,555.2 82.2,555.0 84.1,554.4 C85.9,553.7 87.8,552.5 89.6,551.0 C91.4,549.6 93.7,547.4 95.1,545.5 C96.6,543.7 97.9,540.9 98.4,540.0" fill="none" stroke="#4194cc" stroke-width="2.9" stroke-linecap="round"/><path d="M68.6,555.5 C69.4,556.4 71.6,559.0 73.0,561.0 C74.5,563.0 76.0,565.6 77.5,567.6 C78.9,569.6 80.4,571.5 81.9,573.1 C83.3,574.8 84.5,575.9 86.3,577.5 C88.1,579.2 90.7,581.6 92.9,583.1 C95.1,584.5 97.3,585.4 99.5,586.4 C101.8,587.4 104.0,588.4 106.2,589.1 C108.4,589.9 110.4,590.4 112.8,590.8 C115.2,591.2 118.0,591.3 120.5,591.3 C123.1,591.4 126.8,591.3 128.0,591.3" fill="none" stroke="#4194cc" stroke-width="2.9" stroke-linecap="round"/><path d="M68.6,573.1 C69.7,572.6 73.0,571.1 75.3,569.8 C77.5,568.5 79.7,566.7 81.9,565.4 C84.1,564.1 86.3,563.2 88.5,562.1 C90.7,561.0 92.9,560.1 95.1,558.8 C97.3,557.5 99.5,556.0 101.8,554.4 C104.0,552.7 106.4,550.5 108.4,548.8 C110.4,547.2 112.1,545.6 113.9,544.4 C115.7,543.2 117.8,542.0 119.4,541.7 C121.1,541.3 122.4,541.7 123.8,542.2 C125.3,542.7 127.3,544.0 128.0,544.4" fill="none" stroke="#4194cc" stroke-width="2.9" stroke-linecap="round"/><path d="M68.6,577.5 C69.7,577.4 73.0,577.2 75.3,576.4 C77.5,575.7 79.7,574.4 81.9,573.1 C84.1,571.8 86.3,570.2 88.5,568.7 C90.7,567.2 92.9,565.9 95.1,564.3 C97.3,562.6 99.5,560.6 101.8,558.8 C104.0,556.9 106.2,555.1 108.4,553.3 C110.6,551.4 113.0,549.4 115.0,547.7 C117.0,546.1 118.4,544.6 120.5,543.3 C122.7,542.0 126.8,540.6 128.0,540.0" fill="none" stroke="#4194cc" stroke-width="2.9" stroke-linecap="round"/><path d="M68.6,585.3 C69.7,586.0 73.0,588.0 75.3,589.7 C77.5,591.3 79.7,593.4 81.9,595.2 C84.1,597.1 86.3,598.9 88.5,600.7 C90.7,602.6 92.9,604.4 95.1,606.3 C97.3,608.1 99.5,610.1 101.8,611.8 C104.0,613.4 106.2,615.1 108.4,616.2 C110.6,617.3 112.8,617.8 115.0,618.4 C117.2,619.0 119.5,619.1 121.6,619.5 C123.8,619.9 127.0,620.4 128.0,620.6" fill="none" stroke="#4194cc" stroke-width="2.9" stroke-linecap="round"/><path d="M68.6,590.8 C69.7,591.0 72.7,590.8 75.3,591.9 C77.8,593.0 81.1,595.6 84.1,597.4 C87.0,599.3 90.0,601.1 92.9,602.9 C95.9,604.8 98.8,606.4 101.8,608.5 C104.7,610.5 108.0,613.2 110.6,615.1 C113.2,616.9 115.0,618.4 117.2,619.5 C119.4,620.6 122.0,621.0 123.8,621.7 C125.6,622.4 127.3,623.6 128.0,623.9" fill="none" stroke="#4194cc" stroke-width="2.9" stroke-linecap="round"/><path d="M84.1,575.3 C85.0,576.4 87.8,579.6 89.6,582.0 C91.4,584.4 93.3,587.1 95.1,589.7 C97.0,592.3 98.8,595.2 100.6,597.4 C102.5,599.6 104.3,601.5 106.2,602.9 C108.0,604.4 109.5,605.3 111.7,606.3 C113.9,607.2 116.7,608.0 119.4,608.5 C122.1,608.9 126.6,608.9 128.0,609.0" fill="none" stroke="#4194cc" stroke-width="2.9" stroke-linecap="round"/><path d="M68.6,623.9 C70.3,623.9 75.1,624.0 78.6,623.9 C82.1,623.8 85.9,623.6 89.6,623.4 C93.3,623.2 97.0,623.0 100.6,622.8 C104.3,622.6 108.0,622.4 111.7,622.3 C115.4,622.2 120.0,622.3 122.7,622.3 C125.5,622.3 127.2,622.3 128.0,622.3" fill="none" stroke="#4194cc" stroke-width="2.9" stroke-linecap="round"/><path d="M120.5,617.3 C121.3,616.7 123.7,614.9 124.9,614.0 C126.2,613.1 127.5,612.1 128.0,611.8" fill="none" stroke="#4194cc" stroke-width="2.9" stroke-linecap="round"/><path d="M118.0,542.2 C119.8,542.4 125.4,542.0 129.0,543.3 C132.7,544.6 136.4,547.7 140.1,549.9 C143.8,552.1 148.2,555.5 151.1,556.6 C154.1,557.7 155.5,557.3 157.8,556.6 C160.0,555.8 162.4,553.4 164.4,552.1 C166.4,550.9 168.1,549.6 169.9,548.8 C171.7,548.1 173.6,547.7 175.4,547.7 C177.3,547.7 179.5,548.3 180.9,548.8 C182.4,549.4 183.5,550.7 184.0,551.0" fill="none" stroke="#4194cc" stroke-width="2.9" stroke-linecap="round"/><path d="M122.4,540.0 C123.5,541.3 126.8,545.3 129.0,547.7 C131.3,550.1 133.5,552.1 135.7,554.4 C137.9,556.6 140.1,558.8 142.3,561.0 C144.5,563.2 146.9,565.8 148.9,567.6 C150.9,569.4 152.6,570.7 154.4,572.0 C156.3,573.3 157.9,573.7 160.0,575.3 C162.0,577.0 164.7,580.3 166.6,582.0 C168.4,583.6 169.3,584.4 171.0,585.3 C172.7,586.2 174.4,586.9 176.5,587.5 C178.7,588.0 182.8,588.4 184.0,588.6" fill="none" stroke="#4194cc" stroke-width="2.9" stroke-linecap="round"/><path d="M160.0,540.0 C160.7,540.9 162.9,543.7 164.4,545.5 C165.9,547.4 167.3,549.2 168.8,551.0 C170.3,552.9 171.6,554.4 173.2,556.6 C174.9,558.8 176.9,561.9 178.7,564.3 C180.5,566.7 183.2,569.8 184.0,570.9" fill="none" stroke="#4194cc" stroke-width="2.9" stroke-linecap="round"/><path d="M118.0,589.7 C119.5,589.7 124.1,590.2 126.8,589.7 C129.6,589.1 132.2,587.9 134.6,586.4 C137.0,584.9 139.2,582.5 141.2,580.9 C143.2,579.2 144.7,577.7 146.7,576.4 C148.7,575.2 151.1,573.7 153.3,573.1 C155.5,572.6 157.8,572.9 160.0,573.1 C162.2,573.3 164.4,573.9 166.6,574.2 C168.8,574.6 171.4,575.3 173.2,575.3 C175.1,575.3 175.8,575.3 177.6,574.2 C179.4,573.1 183.0,569.6 184.0,568.7" fill="none" stroke="#4194cc" stroke-width="2.9" stroke-linecap="round"/><path d="M129.0,617.3 C130.0,615.8 132.7,611.2 134.6,608.5 C136.4,605.7 138.1,603.5 140.1,600.7 C142.1,598.0 144.5,594.8 146.7,591.9 C148.9,589.0 151.3,585.6 153.3,583.1 C155.4,580.5 157.0,578.8 158.9,576.4 C160.7,574.0 162.5,571.3 164.4,568.7 C166.2,566.1 168.1,563.6 169.9,561.0 C171.7,558.4 173.8,555.6 175.4,553.3 C177.1,550.9 178.4,548.5 179.8,546.6 C181.3,544.8 183.3,542.9 184.0,542.2" fill="none" stroke="#4194cc" stroke-width="2.9" stroke-linecap="round"/><path d="M118.0,608.5 C119.8,608.5 126.1,608.8 129.0,608.5 C132.0,608.1 133.3,607.4 135.7,606.3 C138.1,605.2 140.8,603.3 143.4,601.8 C146.0,600.4 148.6,598.9 151.1,597.4 C153.7,595.9 156.3,594.5 158.9,593.0 C161.4,591.5 164.2,589.7 166.6,588.6 C169.0,587.5 171.0,587.1 173.2,586.4 C175.4,585.6 178.0,584.9 179.8,584.2 C181.6,583.4 183.3,582.3 184.0,582.0" fill="none" stroke="#4194cc" stroke-width="2.9" stroke-linecap="round"/><path d="M118.0,619.5 C119.5,619.1 123.9,618.2 126.8,617.3 C129.8,616.4 132.7,615.5 135.7,614.0 C138.6,612.5 141.6,610.3 144.5,608.5 C147.4,606.6 150.4,604.8 153.3,602.9 C156.3,601.1 159.6,599.1 162.2,597.4 C164.7,595.8 166.6,594.1 168.8,593.0 C171.0,591.9 174.3,591.2 175.4,590.8" fill="none" stroke="#4194cc" stroke-width="2.9" stroke-linecap="round"/><path d="M118.0,621.7 C119.5,621.3 123.9,619.9 126.8,619.5 C129.8,619.1 132.7,619.1 135.7,619.5 C138.6,619.9 141.6,621.0 144.5,621.7 C147.4,622.4 150.4,623.3 153.3,623.9 C156.3,624.6 159.2,625.2 162.2,625.6 C165.1,625.9 168.4,626.2 171.0,626.1 C173.6,626.0 175.5,625.8 177.6,625.0 C179.8,624.3 183.0,622.3 184.0,621.7" fill="none" stroke="#4194cc" stroke-width="2.9" stroke-linecap="round"/><path d="M173.2,590.8 C173.8,591.5 175.4,593.6 176.5,595.2 C177.6,596.9 178.6,598.7 179.8,600.7 C181.1,602.8 183.3,606.3 184.0,607.4" fill="none" stroke="#4194cc" stroke-width="2.9" stroke-linecap="round"/><path d="M118.0,627.2 C119.1,627.4 122.4,627.9 124.6,628.3 C126.8,628.8 130.1,629.7 131.3,630.0" fill="none" stroke="#4194cc" stroke-width="2.9" stroke-linecap="round"/><path d="M168.0,549.9 C168.7,549.8 170.9,549.1 172.4,548.8 C173.9,548.6 175.4,548.0 176.8,548.3 C178.3,548.6 179.8,549.8 181.3,550.5 C182.7,551.1 184.2,552.2 185.7,552.1 C187.1,552.1 188.6,551.0 190.1,549.9 C191.6,548.8 193.2,547.0 194.5,545.5 C195.8,544.0 197.1,542.0 197.8,541.1 C198.6,540.2 198.7,540.2 198.9,540.0" fill="none" stroke="#4194cc" stroke-width="2.9" stroke-linecap="round"/><path d="M186.8,540.0 C186.0,540.7 183.8,542.8 182.4,544.4 C180.9,546.1 179.4,548.1 177.9,549.9 C176.5,551.8 174.8,554.0 173.5,555.5 C172.2,556.9 171.1,558.0 170.2,558.8 C169.3,559.5 168.4,559.7 168.0,559.9" fill="none" stroke="#4194cc" stroke-width="2.9" stroke-linecap="round"/><path d="M198.9,540.0 C199.5,541.1 201.1,544.6 202.2,546.6 C203.3,548.6 204.4,550.3 205.5,552.1 C206.6,554.0 207.8,556.0 208.9,557.7 C210.0,559.3 211.1,560.6 212.2,562.1 C213.3,563.6 214.4,564.8 215.5,566.5 C216.6,568.2 217.7,570.4 218.8,572.0 C219.9,573.7 220.8,575.3 222.1,576.4 C223.4,577.5 225.8,578.3 226.5,578.6" fill="none" stroke="#4194cc" stroke-width="2.9" stroke-linecap="round"/><path d="M212.2,540.0 C212.9,540.7 215.1,542.9 216.6,544.4 C218.1,545.9 219.7,547.7 221.0,548.8 C222.3,549.9 223.4,550.5 224.3,551.0 C225.2,551.6 226.2,552.0 226.5,552.1" fill="none" stroke="#4194cc" stroke-width="2.9" stroke-linecap="round"/><path d="M168.0,554.4 C168.7,554.7 170.9,555.3 172.4,556.6 C173.9,557.9 175.4,560.2 176.8,562.1 C178.3,563.9 179.8,567.4 181.3,567.6 C182.7,567.8 184.2,564.3 185.7,563.2 C187.1,562.1 188.2,561.3 190.1,561.0 C191.9,560.7 194.5,561.3 196.7,561.5 C198.9,561.7 201.1,561.7 203.3,562.1 C205.5,562.5 207.9,563.0 210.0,563.7 C212.0,564.5 213.6,565.5 215.5,566.5 C217.3,567.5 219.2,568.7 221.0,569.8 C222.8,570.9 225.6,572.6 226.5,573.1" fill="none" stroke="#4194cc" stroke-width="2.9" stroke-linecap="round"/><path d="M168.0,576.4 C169.1,576.4 172.8,577.0 174.6,576.4 C176.5,575.9 177.8,574.4 179.0,573.1 C180.3,571.8 181.3,570.0 182.4,568.7 C183.5,567.4 185.1,565.9 185.7,565.4" fill="none" stroke="#4194cc" stroke-width="2.9" stroke-linecap="round"/><path d="M168.0,584.2 C169.1,584.0 172.4,583.6 174.6,583.1 C176.8,582.5 179.0,581.6 181.3,580.9 C183.5,580.1 185.5,579.4 187.9,578.6 C190.3,577.9 193.0,577.0 195.6,576.4 C198.2,575.9 200.6,575.7 203.3,575.3 C206.1,575.0 209.8,574.6 212.2,574.2 C214.6,573.9 215.3,573.3 217.7,573.1 C220.1,572.9 225.1,573.1 226.5,573.1" fill="none" stroke="#4194cc" stroke-width="2.9" stroke-linecap="round"/><path d="M168.0,586.4 C169.1,586.2 172.4,585.6 174.6,585.3 C176.8,584.9 179.0,584.4 181.3,584.2 C183.5,584.0 185.7,584.0 187.9,584.2 C190.1,584.4 192.3,584.9 194.5,585.3 C196.7,585.6 198.9,586.4 201.1,586.4 C203.3,586.4 205.5,586.0 207.8,585.3 C210.0,584.5 212.2,582.9 214.4,582.0 C216.6,581.0 219.0,580.3 221.0,579.8 C223.0,579.2 225.6,578.8 226.5,578.6" fill="none" stroke="#4194cc" stroke-width="2.9" stroke-linecap="round"/><path d="M168.0,591.9 C169.1,591.7 172.8,590.2 174.6,590.8 C176.5,591.3 177.6,593.4 179.0,595.2 C180.5,597.1 182.0,599.8 183.5,601.8 C184.9,603.9 186.6,606.1 187.9,607.4 C189.2,608.6 189.9,609.8 191.2,609.6 C192.5,609.4 194.1,607.7 195.6,606.3 C197.1,604.8 198.6,602.6 200.0,600.7 C201.5,598.9 202.8,596.9 204.4,595.2 C206.1,593.6 207.9,592.1 210.0,590.8 C212.0,589.5 214.4,588.4 216.6,587.5 C218.8,586.6 221.6,585.8 223.2,585.3 C224.9,584.7 226.0,584.4 226.5,584.2" fill="none" stroke="#4194cc" stroke-width="2.9" stroke-linecap="round"/><path d="M181.3,569.8 C182.4,570.9 185.9,574.2 187.9,576.4 C189.9,578.6 191.7,580.9 193.4,583.1 C195.1,585.3 196.3,587.7 197.8,589.7 C199.3,591.7 200.8,593.4 202.2,595.2 C203.7,597.1 205.4,599.3 206.6,600.7 C207.9,602.2 208.9,603.7 210.0,604.0 C211.1,604.4 212.0,603.9 213.3,602.9 C214.6,602.0 216.2,600.0 217.7,598.5 C219.2,597.1 220.6,595.4 222.1,594.1 C223.6,592.8 225.8,591.3 226.5,590.8" fill="none" stroke="#4194cc" stroke-width="2.9" stroke-linecap="round"/><path d="M168.0,627.2 C169.5,626.9 173.9,626.1 176.8,625.0 C179.8,623.9 183.5,621.7 185.7,620.6 C187.9,619.5 188.4,618.6 190.1,618.4 C191.7,618.2 193.8,619.7 195.6,619.5 C197.4,619.3 199.3,618.6 201.1,617.3 C203.0,616.0 205.0,613.2 206.6,611.8 C208.3,610.3 209.6,608.5 211.1,608.5 C212.5,608.5 214.0,610.3 215.5,611.8 C217.0,613.2 218.4,615.5 219.9,617.3 C221.4,619.1 223.2,621.7 224.3,622.8 C225.4,623.9 226.2,623.7 226.5,623.9" fill="none" stroke="#4194cc" stroke-width="2.9" stroke-linecap="round"/><path d="M190.1,630.0 C191.2,629.0 194.5,626.0 196.7,623.9 C198.9,621.8 201.3,619.3 203.3,617.3 C205.4,615.3 207.0,613.6 208.9,611.8 C210.7,609.9 212.5,608.3 214.4,606.3 C216.2,604.2 217.9,602.0 219.9,599.6 C221.9,597.2 225.4,593.2 226.5,591.9" fill="none" stroke="#4194cc" stroke-width="2.9" stroke-linecap="round"/><path d="M68.6,624.4 C70.3,624.4 75.1,624.2 78.6,624.2 C82.1,624.2 86.3,624.3 89.6,624.4 C92.9,624.5 95.7,625.0 98.4,625.0 C101.2,625.0 103.4,624.7 106.2,624.4 C108.9,624.1 112.1,623.7 115.0,623.3 C117.9,622.9 121.7,622.5 123.8,622.2 C126.0,621.9 127.3,621.7 128.0,621.7" fill="none" stroke="#4194cc" stroke-width="2.9" stroke-linecap="round"/><path d="M68.6,628.3 C70.3,628.2 75.1,627.9 78.6,627.7 C82.1,627.5 86.3,627.2 89.6,627.2 C92.9,627.2 95.7,627.8 98.4,627.7 C101.2,627.6 103.8,627.0 106.2,626.6 C108.6,626.3 110.6,626.1 112.8,625.5 C115.0,625.0 117.6,624.0 119.4,623.3 C121.3,622.6 123.1,621.5 123.8,621.1" fill="none" stroke="#4194cc" stroke-width="2.9" stroke-linecap="round"/><path d="M95.1,620.0 C95.9,620.7 98.1,622.8 99.5,624.4 C101.0,626.1 102.5,628.5 104.0,629.9 C105.4,631.4 106.9,632.9 108.4,633.3 C109.9,633.6 111.3,632.9 112.8,632.1 C114.3,631.4 115.7,629.9 117.2,628.8 C118.7,627.7 119.8,626.4 121.6,625.5 C123.4,624.6 127.0,623.7 128.0,623.3" fill="none" stroke="#4194cc" stroke-width="2.9" stroke-linecap="round"/><path d="M68.6,660.9 C69.7,660.7 73.0,660.3 75.3,659.8 C77.5,659.2 79.5,658.6 81.9,657.5 C84.3,656.4 87.0,654.8 89.6,653.1 C92.2,651.5 94.9,649.3 97.3,647.6 C99.7,645.9 102.1,644.5 104.0,643.2 C105.8,641.9 106.9,641.3 108.4,639.9 C109.9,638.4 111.3,636.0 112.8,634.4 C114.3,632.7 115.7,631.4 117.2,629.9 C118.7,628.5 120.2,626.8 121.6,625.5 C123.1,624.2 125.0,622.9 126.0,622.2 C127.1,621.5 127.7,621.3 128.0,621.1" fill="none" stroke="#4194cc" stroke-width="2.9" stroke-linecap="round"/><path d="M68.6,674.1 C69.4,673.7 71.2,673.2 73.0,671.9 C74.9,670.6 77.5,668.4 79.7,666.4 C81.9,664.4 84.1,662.0 86.3,659.8 C88.5,657.5 90.7,655.3 92.9,653.1 C95.1,650.9 97.3,648.3 99.5,646.5 C101.8,644.7 104.1,642.5 106.2,642.1 C108.2,641.7 109.9,643.0 111.7,644.3 C113.5,645.6 115.7,648.3 117.2,649.8 C118.7,651.3 119.2,652.6 120.5,653.1 C121.8,653.7 123.7,653.1 124.9,653.1 C126.2,653.1 127.5,653.1 128.0,653.1" fill="none" stroke="#4194cc" stroke-width="2.9" stroke-linecap="round"/><path d="M68.6,679.6 C70.3,680.0 75.4,681.3 78.6,681.8 C81.7,682.4 84.6,683.3 87.4,682.9 C90.2,682.6 92.7,681.1 95.1,679.6 C97.5,678.2 99.5,676.1 101.8,674.1 C104.0,672.1 106.2,669.7 108.4,667.5 C110.6,665.3 113.0,663.1 115.0,660.9 C117.0,658.6 119.6,655.3 120.5,654.2" fill="none" stroke="#4194cc" stroke-width="2.9" stroke-linecap="round"/><path d="M68.6,681.8 C70.3,682.4 75.6,684.0 78.6,685.2 C81.5,686.3 83.9,687.2 86.3,688.5 C88.7,689.8 90.7,691.6 92.9,692.9 C95.1,694.2 97.3,695.3 99.5,696.2 C101.8,697.1 104.0,697.8 106.2,698.4 C108.4,699.0 110.6,699.1 112.8,699.5 C115.0,699.9 116.9,700.2 119.4,700.6 C122.0,701.0 126.6,701.5 128.0,701.7" fill="none" stroke="#4194cc" stroke-width="2.9" stroke-linecap="round"/><path d="M68.6,701.7 C71.2,700.8 80.4,697.3 84.1,696.2 C87.8,695.1 88.3,694.9 90.7,695.1 C93.1,695.3 95.9,696.7 98.4,697.3 C101.0,697.8 103.4,698.0 106.2,698.4 C108.9,698.8 112.1,699.3 115.0,699.5 C117.9,699.7 121.7,699.7 123.8,699.5 C126.0,699.3 127.3,698.6 128.0,698.4" fill="none" stroke="#4194cc" stroke-width="2.9" stroke-linecap="round"/><path d="M119.4,700.6 C120.2,701.0 122.4,702.1 123.8,702.8 C125.3,703.6 127.3,704.7 128.0,705.0" fill="none" stroke="#4194cc" stroke-width="2.9" stroke-linecap="round"/><path d="M118.0,622.2 C119.5,622.0 123.9,621.4 126.8,621.1 C129.8,620.8 132.5,620.4 135.7,620.6 C138.8,620.7 142.1,621.6 145.6,622.2 C149.1,622.9 153.0,623.7 156.6,624.4 C160.3,625.2 164.4,626.1 167.7,626.6 C171.0,627.2 174.3,627.9 176.5,627.7 C178.7,627.5 179.7,626.3 180.9,625.5 C182.2,624.8 183.5,623.7 184.0,623.3" fill="none" stroke="#4194cc" stroke-width="2.9" stroke-linecap="round"/><path d="M118.0,624.4 C119.8,625.2 125.4,627.0 129.0,628.8 C132.7,630.7 136.4,633.4 140.1,635.5 C143.8,637.5 147.4,639.3 151.1,641.0 C154.8,642.6 158.9,644.4 162.2,645.4 C165.5,646.4 168.6,647.6 171.0,647.1 C173.4,646.5 174.7,643.8 176.5,642.1 C178.4,640.3 180.8,638.0 182.0,636.6 C183.3,635.1 183.7,633.8 184.0,633.3" fill="none" stroke="#4194cc" stroke-width="2.9" stroke-linecap="round"/><path d="M122.4,626.6 C123.5,627.7 126.8,631.0 129.0,633.3 C131.3,635.5 133.5,637.7 135.7,639.9 C137.9,642.1 140.1,644.5 142.3,646.5 C144.5,648.5 146.7,650.2 148.9,652.0 C151.1,653.9 153.3,655.5 155.5,657.5 C157.8,659.6 160.1,662.1 162.2,664.2 C164.2,666.2 165.9,667.9 167.7,669.7 C169.5,671.5 171.4,673.2 173.2,675.2 C175.1,677.2 176.9,679.8 178.7,681.8 C180.5,683.9 183.2,686.4 184.0,687.4" fill="none" stroke="#4194cc" stroke-width="2.9" stroke-linecap="round"/><path d="M118.0,654.2 C119.8,654.1 125.4,653.9 129.0,653.7 C132.7,653.5 136.4,653.4 140.1,653.1 C143.8,652.9 147.4,652.4 151.1,652.0 C154.8,651.7 158.9,651.3 162.2,650.9 C165.5,650.6 168.4,650.1 171.0,649.8 C173.6,649.5 175.5,649.4 177.6,649.3 C179.8,649.2 183.0,649.3 184.0,649.3" fill="none" stroke="#4194cc" stroke-width="2.9" stroke-linecap="round"/><path d="M131.3,620.0 C132.0,621.1 134.2,624.4 135.7,626.6 C137.1,628.8 138.6,631.0 140.1,633.3 C141.6,635.5 143.0,637.9 144.5,639.9 C146.0,641.9 147.3,643.4 148.9,645.4 C150.6,647.4 152.6,650.0 154.4,652.0 C156.3,654.0 158.1,655.7 160.0,657.5 C161.8,659.4 163.8,661.6 165.5,663.1 C167.1,664.5 168.2,665.5 169.9,666.4 C171.6,667.3 173.6,668.4 175.4,668.6 C177.3,668.8 179.5,667.9 180.9,667.5 C182.4,667.1 183.5,666.6 184.0,666.4" fill="none" stroke="#4194cc" stroke-width="2.9" stroke-linecap="round"/><path d="M118.0,698.4 C119.5,698.2 123.9,698.2 126.8,697.3 C129.8,696.4 132.7,694.5 135.7,692.9 C138.6,691.2 141.6,689.4 144.5,687.4 C147.4,685.3 150.4,683.1 153.3,680.7 C156.3,678.3 159.6,675.2 162.2,673.0 C164.7,670.8 166.6,669.5 168.8,667.5 C171.0,665.5 173.4,662.7 175.4,660.9 C177.4,659.0 179.5,657.5 180.9,656.4 C182.4,655.3 183.5,654.6 184.0,654.2" fill="none" stroke="#4194cc" stroke-width="2.9" stroke-linecap="round"/><path d="M124.6,708.3 C126.1,707.8 130.5,706.5 133.5,705.0 C136.4,703.6 139.3,701.5 142.3,699.5 C145.2,697.5 148.2,695.1 151.1,692.9 C154.1,690.7 157.4,688.3 160.0,686.3 C162.5,684.2 164.4,682.2 166.6,680.7 C168.8,679.3 171.4,677.6 173.2,677.4 C175.1,677.2 175.8,678.2 177.6,679.6 C179.4,681.1 183.0,685.2 184.0,686.3" fill="none" stroke="#4194cc" stroke-width="2.9" stroke-linecap="round"/><path d="M118.0,703.9 C119.1,704.3 122.4,705.4 124.6,706.1 C126.8,706.9 129.4,707.7 131.3,708.3 C133.1,709.0 134.9,709.7 135.7,710.0" fill="none" stroke="#4194cc" stroke-width="2.9" stroke-linecap="round"/><path d="M168.0,626.6 C169.1,626.7 172.4,627.4 174.6,627.2 C176.8,627.0 179.0,626.3 181.3,625.5 C183.5,624.7 186.0,622.9 187.9,622.2 C189.7,621.5 190.8,621.5 192.3,621.1 C193.8,620.7 196.0,620.2 196.7,620.0" fill="none" stroke="#4194cc" stroke-width="2.9" stroke-linecap="round"/><path d="M168.0,647.6 C169.1,647.4 172.4,647.6 174.6,646.5 C176.8,645.4 179.0,643.0 181.3,641.0 C183.5,639.0 185.9,636.6 187.9,634.4 C189.9,632.1 191.6,628.1 193.4,627.7 C195.2,627.4 197.3,630.3 198.9,632.1 C200.6,634.0 201.9,636.9 203.3,638.8 C204.8,640.6 205.9,643.2 207.8,643.2 C209.6,643.2 212.2,640.6 214.4,638.8 C216.6,636.9 219.0,634.0 221.0,632.1 C223.0,630.3 225.6,628.5 226.5,627.7" fill="none" stroke="#4194cc" stroke-width="2.9" stroke-linecap="round"/><path d="M206.6,620.0 C205.9,620.9 203.7,623.5 202.2,625.5 C200.8,627.5 199.5,629.9 197.8,632.1 C196.2,634.4 194.1,636.7 192.3,638.8 C190.5,640.8 188.6,642.6 186.8,644.3 C184.9,645.9 183.3,647.8 181.3,648.7 C179.2,649.6 176.8,649.6 174.6,649.8 C172.4,650.0 169.1,649.8 168.0,649.8" fill="none" stroke="#4194cc" stroke-width="2.9" stroke-linecap="round"/><path d="M216.6,620.0 C217.3,620.6 219.3,622.5 221.0,623.3 C222.7,624.1 225.6,624.7 226.5,625.0" fill="none" stroke="#4194cc" stroke-width="2.9" stroke-linecap="round"/><path d="M168.0,657.5 C169.1,658.1 172.8,660.9 174.6,660.9 C176.5,660.9 177.2,658.5 179.0,657.5 C180.9,656.6 183.5,655.9 185.7,655.3 C187.9,654.8 190.1,654.8 192.3,654.2 C194.5,653.7 196.7,653.1 198.9,652.0 C201.1,650.9 203.9,648.5 205.5,647.6 C207.2,646.7 207.4,645.8 208.9,646.5 C210.3,647.2 212.5,650.2 214.4,652.0 C216.2,653.9 217.9,656.0 219.9,657.5 C221.9,659.1 225.4,660.8 226.5,661.4" fill="none" stroke="#4194cc" stroke-width="2.9" stroke-linecap="round"/><path d="M168.0,662.0 C169.1,662.3 172.4,664.0 174.6,664.2 C176.8,664.4 179.0,663.4 181.3,663.1 C183.5,662.7 185.7,662.1 187.9,662.0 C190.1,661.8 192.3,661.8 194.5,662.0 C196.7,662.1 198.6,662.3 201.1,663.1 C203.7,663.8 207.2,665.3 210.0,666.4 C212.7,667.5 214.9,668.6 217.7,669.7 C220.5,670.8 225.1,672.5 226.5,673.0" fill="none" stroke="#4194cc" stroke-width="2.9" stroke-linecap="round"/><path d="M168.0,669.7 C169.1,670.2 172.4,672.8 174.6,673.0 C176.8,673.2 179.4,671.7 181.3,670.8 C183.1,669.9 184.2,668.4 185.7,667.5 C187.1,666.6 188.2,665.1 190.1,665.3 C191.9,665.5 194.5,667.3 196.7,668.6 C198.9,669.9 201.1,671.7 203.3,673.0 C205.5,674.3 207.6,675.4 210.0,676.3 C212.4,677.2 214.9,678.0 217.7,678.5 C220.5,679.1 225.1,679.4 226.5,679.6" fill="none" stroke="#4194cc" stroke-width="2.9" stroke-linecap="round"/><path d="M168.0,679.6 C169.1,679.3 172.8,678.2 174.6,677.4 C176.5,676.7 177.6,675.9 179.0,675.2 C180.5,674.5 181.6,673.0 183.5,673.0 C185.3,673.0 187.9,674.1 190.1,675.2 C192.3,676.3 194.5,678.2 196.7,679.6 C198.9,681.1 201.1,682.6 203.3,684.0 C205.5,685.5 208.1,687.5 210.0,688.5 C211.8,689.4 212.7,689.9 214.4,689.6 C216.0,689.2 217.9,687.9 219.9,686.3 C221.9,684.6 225.4,680.7 226.5,679.6" fill="none" stroke="#4194cc" stroke-width="2.9" stroke-linecap="round"/><path d="M168.0,681.8 C169.1,681.6 172.8,680.2 174.6,680.2 C176.5,680.2 177.2,680.6 179.0,681.8 C180.9,683.0 183.5,685.5 185.7,687.4 C187.9,689.2 190.1,690.9 192.3,692.9 C194.5,694.9 197.1,697.7 198.9,699.5 C200.8,701.3 201.9,703.6 203.3,703.9 C204.8,704.3 206.3,702.6 207.8,701.7 C209.2,700.8 210.3,698.8 212.2,698.4 C214.0,698.0 216.4,699.0 218.8,699.5 C221.2,700.1 225.2,701.3 226.5,701.7" fill="none" stroke="#4194cc" stroke-width="2.9" stroke-linecap="round"/><path d="M195.6,710.0 C196.5,709.4 199.7,707.1 201.1,706.1 C202.6,705.1 203.3,703.7 204.4,703.9 C205.5,704.1 206.8,706.2 207.8,707.2 C208.7,708.2 209.6,709.5 210.0,710.0" fill="none" stroke="#4194cc" stroke-width="2.9" stroke-linecap="round"/><path d="M69.7,702.2 C71.0,701.8 74.4,700.8 77.4,699.6 C80.4,698.5 85.1,696.1 87.7,695.1 C90.3,694.2 90.7,693.6 92.8,693.9 C95.0,694.1 97.5,695.6 100.5,696.4 C103.5,697.3 107.4,698.4 110.8,699.0 C114.2,699.6 118.1,700.5 121.1,700.3 C124.1,700.1 126.2,698.8 128.8,697.7 C131.4,696.6 134.4,694.9 136.5,693.9 C138.7,692.8 140.4,691.9 141.7,691.3 C142.9,690.6 143.8,690.2 144.2,690.0" fill="none" stroke="#4194cc" stroke-width="2.9" stroke-linecap="round"/><path d="M86.4,690.0 C87.7,690.6 91.1,692.6 94.1,693.9 C97.1,695.1 100.8,696.4 104.4,697.7 C108.0,699.0 112.3,700.5 116.0,701.6 C119.6,702.6 123.2,703.3 126.2,704.1 C129.2,705.0 131.4,705.6 133.9,706.7 C136.5,707.8 139.0,709.3 141.7,710.6 C144.3,711.8 148.6,713.8 150.0,714.4" fill="none" stroke="#4194cc" stroke-width="2.9" stroke-linecap="round"/><path d="M69.7,713.8 C71.0,714.0 74.4,714.9 77.4,715.1 C80.4,715.2 83.8,714.7 87.7,714.4 C91.5,714.1 96.3,713.6 100.5,713.1 C104.8,712.7 109.5,712.3 113.4,711.8 C117.2,711.4 120.7,711.2 123.7,710.6 C126.7,709.9 128.8,709.3 131.4,708.0 C133.9,706.7 136.5,704.6 139.1,702.8 C141.7,701.1 145.0,699.0 146.8,697.7 C148.6,696.4 149.5,695.6 150.0,695.1" fill="none" stroke="#4194cc" stroke-width="2.9" stroke-linecap="round"/><path d="M69.7,715.7 C71.0,715.8 74.8,716.0 77.4,716.3 C80.0,716.7 82.6,716.9 85.1,717.6 C87.7,718.4 90.3,719.9 92.8,720.8 C95.4,721.8 97.5,722.9 100.5,723.4 C103.5,723.9 107.0,723.8 110.8,724.0 C114.7,724.3 119.8,724.2 123.7,724.7 C127.5,725.2 130.9,726.2 133.9,727.3 C136.9,728.3 139.0,729.9 141.7,731.1 C144.3,732.3 148.6,733.8 150.0,734.3" fill="none" stroke="#4194cc" stroke-width="2.9" stroke-linecap="round"/><path d="M69.7,727.9 C71.6,727.8 77.2,727.5 81.3,727.3 C85.3,727.0 89.8,726.7 94.1,726.6 C98.4,726.5 102.7,726.6 107.0,726.6 C111.2,726.6 116.2,726.4 119.8,726.6 C123.5,726.8 126.0,727.6 128.8,727.9 C131.6,728.2 133.9,728.4 136.5,728.5 C139.1,728.6 142.0,728.5 144.2,728.5 C146.5,728.5 149.0,728.5 150.0,728.5" fill="none" stroke="#4194cc" stroke-width="2.9" stroke-linecap="round"/><path d="M69.7,752.3 C71.6,752.2 77.2,752.0 81.3,751.7 C85.3,751.3 89.8,750.7 94.1,750.4 C98.4,750.1 102.7,750.0 107.0,749.7 C111.2,749.5 115.5,749.3 119.8,749.1 C124.1,748.9 129.0,748.7 132.7,748.5 C136.3,748.2 138.8,748.0 141.7,747.8 C144.5,747.6 148.6,747.3 150.0,747.2" fill="none" stroke="#4194cc" stroke-width="2.9" stroke-linecap="round"/><path d="M145.0,702.8 C146.1,702.0 149.3,699.4 151.4,697.7 C153.6,696.0 156.1,693.9 157.8,692.6 C159.6,691.3 161.1,690.4 161.7,690.0" fill="none" stroke="#4194cc" stroke-width="2.9" stroke-linecap="round"/><path d="M186.1,690.0 C187.2,690.9 190.4,693.4 192.5,695.1 C194.7,696.9 197.0,698.8 199.0,700.3 C200.9,701.8 202.4,702.8 204.1,704.1 C205.8,705.4 207.5,706.7 209.2,708.0 C210.9,709.3 212.7,710.8 214.4,711.8 C216.1,712.9 217.6,713.8 219.5,714.4 C221.4,715.1 224.9,715.5 225.9,715.7" fill="none" stroke="#4194cc" stroke-width="2.9" stroke-linecap="round"/><path d="M204.1,704.1 C205.0,703.5 207.5,701.2 209.2,700.3 C210.9,699.3 212.7,698.5 214.4,698.4 C216.1,698.2 217.6,699.1 219.5,699.6 C221.4,700.2 224.9,701.2 225.9,701.6" fill="none" stroke="#4194cc" stroke-width="2.9" stroke-linecap="round"/><path d="M145.0,711.8 C146.3,712.3 150.1,713.4 152.7,714.4 C155.3,715.4 157.8,716.7 160.4,717.6 C163.0,718.6 165.6,719.7 168.1,720.2 C170.7,720.7 173.3,720.9 175.8,720.8 C178.4,720.7 181.0,720.4 183.5,719.5 C186.1,718.7 188.7,717.2 191.2,715.7 C193.8,714.2 196.8,712.3 199.0,710.6 C201.1,708.8 202.4,707.1 204.1,705.4 C205.8,703.7 208.4,701.1 209.2,700.3" fill="none" stroke="#4194cc" stroke-width="2.9" stroke-linecap="round"/><path d="M145.0,727.3 C146.7,727.0 151.9,726.4 155.3,726.0 C158.7,725.5 162.1,725.0 165.6,724.7 C169.0,724.4 172.4,724.3 175.8,724.0 C179.3,723.8 182.7,723.8 186.1,723.4 C189.5,723.0 193.2,722.2 196.4,721.5 C199.6,720.7 202.4,719.8 205.4,718.9 C208.4,718.0 212.0,717.1 214.4,716.3 C216.7,715.6 217.6,714.8 219.5,714.4 C221.4,714.0 224.9,713.9 225.9,713.8" fill="none" stroke="#4194cc" stroke-width="2.9" stroke-linecap="round"/><path d="M145.0,729.8 C146.3,730.5 150.1,732.6 152.7,733.7 C155.3,734.7 157.4,735.5 160.4,736.2 C163.4,737.0 167.3,737.9 170.7,738.2 C174.1,738.5 177.5,738.5 181.0,738.2 C184.4,737.9 187.8,737.0 191.2,736.2 C194.7,735.5 198.1,734.5 201.5,733.7 C205.0,732.8 208.8,732.1 211.8,731.1 C214.8,730.1 217.2,728.4 219.5,727.9 C221.9,727.4 224.9,727.9 225.9,727.9" fill="none" stroke="#4194cc" stroke-width="2.9" stroke-linecap="round"/><path d="M145.0,749.1 C146.7,748.8 151.9,747.8 155.3,747.2 C158.7,746.5 162.3,745.8 165.6,745.2 C168.8,744.7 171.6,744.0 174.5,744.0 C177.5,744.0 180.3,744.5 183.5,745.2 C186.8,746.0 190.4,747.5 193.8,748.5 C197.2,749.4 200.7,750.4 204.1,751.0 C207.5,751.7 210.7,752.0 214.4,752.3 C218.0,752.6 224.0,752.8 225.9,752.9" fill="none" stroke="#4194cc" stroke-width="2.9" stroke-linecap="round"/><path d="M69.1,306.8 C70.0,306.5 72.8,305.9 74.8,304.9 C76.9,303.8 79.1,302.2 81.3,300.4 C83.4,298.6 85.6,296.3 87.7,294.0 C89.8,291.6 92.0,288.8 94.1,286.2 C96.3,283.7 98.4,281.1 100.5,278.5 C102.7,276.0 104.8,273.4 107.0,270.8 C109.1,268.3 111.7,265.2 113.4,263.1 C115.1,261.1 116.0,259.9 117.2,258.6 C118.5,257.3 119.6,256.3 121.1,255.4 C122.6,254.6 124.1,254.1 126.2,253.5 C128.4,252.8 131.4,252.5 133.9,251.6 C136.5,250.6 139.0,249.0 141.7,247.7 C144.3,246.4 148.6,244.5 150.0,243.9" fill="none" stroke="#4194cc" stroke-width="2.9" stroke-linecap="round"/><path d="M69.1,328.0 C70.0,327.0 72.8,324.5 74.8,322.2 C76.9,320.0 79.1,317.3 81.3,314.5 C83.4,311.7 85.6,308.5 87.7,305.5 C89.8,302.5 92.0,299.5 94.1,296.5 C96.3,293.5 98.4,290.5 100.5,287.5 C102.7,284.5 104.8,281.3 107.0,278.5 C109.1,275.8 111.5,273.0 113.4,270.8 C115.3,268.7 117.0,266.7 118.5,265.7 C120.0,264.7 120.7,264.9 122.4,265.1 C124.1,265.2 126.4,265.8 128.8,266.3 C131.2,266.9 133.9,267.5 136.5,268.3 C139.1,269.0 142.0,270.3 144.2,270.8 C146.5,271.4 149.0,271.4 150.0,271.5" fill="none" stroke="#4194cc" stroke-width="2.9" stroke-linecap="round"/><path d="M69.2,259.4 C70.4,259.2 74.2,258.8 76.5,258.2 C78.8,257.6 81.1,256.8 83.2,255.5 C85.3,254.2 87.2,252.0 89.0,250.6 C90.8,249.2 92.4,247.8 93.8,246.8 C95.2,245.9 96.1,245.1 97.6,244.9 C99.0,244.7 100.7,245.2 102.5,245.8 C104.3,246.4 106.3,247.6 108.2,248.7 C110.1,249.8 112.4,251.5 114.0,252.6 C115.6,253.7 116.6,254.7 117.9,255.5 C119.2,256.3 120.3,256.8 121.7,257.4 C123.1,258.0 124.2,258.9 126.2,259.3 C128.2,259.7 131.3,259.9 133.9,259.9 C136.5,259.9 139.0,259.6 141.7,259.3 C144.4,259.0 148.6,258.2 150.0,258.0" fill="none" stroke="#4194cc" stroke-width="2.9" stroke-linecap="round"/><path d="M118.5,260.6 C120.2,260.8 125.4,261.5 128.8,261.8 C132.2,262.2 135.5,262.5 139.1,262.5 C142.6,262.5 148.2,261.9 150.0,261.8" fill="none" stroke="#4194cc" stroke-width="2.9" stroke-linecap="round"/><path d="M100.5,240.0 C101.6,240.3 104.4,241.5 107.0,241.9 C109.5,242.4 112.7,242.6 116.0,242.6 C119.2,242.6 123.2,242.4 126.2,241.9 C129.2,241.5 132.7,240.3 133.9,240.0" fill="none" stroke="#4194cc" stroke-width="2.9" stroke-linecap="round"/><path d="M145.0,270.8 C146.3,270.7 150.1,270.7 152.7,270.2 C155.3,269.7 158.1,268.6 160.4,267.6 C162.8,266.7 164.7,265.4 166.8,264.4 C169.0,263.4 171.3,261.9 173.3,261.8 C175.2,261.7 176.5,262.7 178.4,263.8 C180.3,264.8 182.7,266.4 184.8,268.3 C187.0,270.1 189.1,272.3 191.2,274.7 C193.4,277.0 195.5,279.8 197.7,282.4 C199.8,285.0 202.0,287.5 204.1,290.1 C206.2,292.7 208.4,295.2 210.5,297.8 C212.7,300.4 215.0,302.9 216.9,305.5 C218.9,308.1 220.4,311.2 222.1,313.2 C223.8,315.3 226.4,317.0 227.2,317.7" fill="none" stroke="#4194cc" stroke-width="2.9" stroke-linecap="round"/><path d="M145.0,260.6 C146.3,260.3 150.1,259.9 152.7,259.3 C155.3,258.6 158.1,257.6 160.4,256.7 C162.8,255.8 164.7,254.8 166.8,254.1 C169.0,253.5 171.1,253.0 173.3,252.8 C175.4,252.7 177.8,253.3 179.7,253.5 C181.6,253.7 183.3,253.4 184.8,254.1 C186.3,254.9 187.4,256.3 188.7,258.0 C190.0,259.7 191.2,262.1 192.5,264.4 C193.8,266.8 194.9,269.3 196.4,272.1 C197.9,274.9 199.8,278.3 201.5,281.1 C203.2,283.9 205.0,286.5 206.7,288.8 C208.4,291.2 209.9,293.1 211.8,295.2 C213.7,297.4 216.3,300.0 218.2,301.7 C220.2,303.4 221.9,304.7 223.4,305.5 C224.9,306.4 226.6,306.6 227.2,306.8" fill="none" stroke="#4194cc" stroke-width="2.9" stroke-linecap="round"/><path d="M145.0,245.1 C146.3,245.2 150.1,244.9 152.7,245.8 C155.3,246.6 158.1,248.5 160.4,250.3 C162.8,252.1 164.9,255.0 166.8,256.7 C168.8,258.4 170.9,259.7 172.0,260.6 C173.1,261.4 172.4,262.0 173.5,261.6 C174.6,261.2 176.5,259.2 178.4,258.0 C180.3,256.7 182.7,255.2 184.8,254.1 C187.0,253.1 188.9,252.4 191.2,251.6 C193.6,250.7 196.4,250.1 199.0,249.0 C201.5,247.9 204.3,246.4 206.7,245.1 C209.0,243.9 211.6,242.1 213.1,241.3 C214.6,240.4 215.2,240.2 215.7,240.0" fill="none" stroke="#4194cc" stroke-width="2.9" stroke-linecap="round"/><path d="M199.0,247.7 C200.2,248.1 204.1,249.6 206.7,250.3 C209.2,250.9 211.8,251.2 214.4,251.6 C216.9,251.9 219.9,252.1 222.1,252.2 C224.2,252.3 226.4,252.2 227.2,252.2" fill="none" stroke="#4194cc" stroke-width="2.9" stroke-linecap="round"/><path d="M199.0,251.6 C200.2,252.0 204.1,253.1 206.7,254.1 C209.2,255.2 211.8,257.0 214.4,258.0 C216.9,258.9 219.9,259.4 222.1,259.9 C224.2,260.4 226.4,261.0 227.2,261.2" fill="none" stroke="#4194cc" stroke-width="2.9" stroke-linecap="round"/><path d="M69.7,334.5 C71.1,336.4 75.1,342.0 78.0,346.0 C80.9,350.0 84.0,354.5 87.0,358.5 C90.0,362.5 92.8,366.2 95.8,370.0 C98.8,373.8 101.8,377.8 104.7,381.5 C107.6,385.2 110.6,389.3 113.0,392.0 C115.4,394.7 116.8,396.2 119.0,397.5 C121.2,398.8 123.0,398.9 126.4,399.5 C129.8,400.1 135.3,400.2 139.2,401.0 C143.1,401.8 146.5,402.8 150.0,404.0 C153.5,405.2 157.0,406.8 160.0,408.0 C163.0,409.2 165.7,410.6 168.0,411.5 C170.3,412.4 172.3,414.4 174.0,413.5 C175.7,412.6 176.7,408.2 178.0,406.0 C179.3,403.8 180.4,402.5 182.0,400.0 C183.6,397.5 185.6,394.2 187.6,391.0 C189.6,387.8 191.8,384.4 194.0,381.0 C196.2,377.6 198.7,373.5 200.9,370.3 C203.1,367.1 204.9,364.8 207.0,362.0 C209.1,359.2 211.3,356.5 213.5,353.5 C215.7,350.5 217.8,347.2 220.0,344.0 C222.2,340.8 225.5,335.8 226.6,334.2" fill="none" stroke="#4194cc" stroke-width="2.9" stroke-linecap="round"/><path d="M69.1,318.4 C70.5,318.5 74.3,318.9 77.4,319.0 C80.5,319.1 83.8,319.2 87.7,319.0 C91.5,318.8 96.3,318.2 100.5,317.7 C104.8,317.3 109.1,316.9 113.4,316.5 C117.7,316.0 122.0,315.7 126.2,315.2 C130.5,314.6 136.0,313.6 139.1,313.2 C142.2,312.9 142.3,313.5 145.0,313.2 C147.7,313.0 151.9,312.4 155.3,312.0 C158.7,311.5 162.1,310.9 165.6,310.7 C169.0,310.5 173.0,310.4 175.8,310.7 C178.6,311.0 180.1,311.7 182.3,312.6 C184.4,313.5 186.3,314.6 188.7,315.8 C191.0,317.0 193.8,318.4 196.4,319.7 C199.0,321.0 201.5,322.4 204.1,323.5 C206.7,324.6 209.2,325.6 211.8,326.1 C214.4,326.6 216.9,326.3 219.5,326.7 C222.1,327.2 225.9,328.3 227.2,328.7" fill="none" stroke="#4194cc" stroke-width="2.9" stroke-linecap="round"/><path d="M69.2,254.0 C70.4,253.8 74.2,253.5 76.5,252.6 C78.8,251.7 81.1,250.1 83.2,248.7 C85.3,247.2 87.2,245.5 89.0,243.9 C90.8,242.3 92.4,240.8 93.8,239.1 C95.2,237.4 96.3,235.6 97.5,233.5 C98.7,231.4 99.9,229.2 101.0,226.5 C102.1,223.8 102.6,220.3 104.0,217.3 C105.4,214.3 107.8,211.1 109.5,208.5 C111.2,205.9 112.4,203.8 113.9,201.8 C115.4,199.8 117.0,197.8 118.3,196.3 C119.6,194.8 121.0,193.6 121.6,193.0" fill="none" stroke="#4194cc" stroke-width="2.9" stroke-linecap="round"/><path d="M69.2,201.0 C70.4,201.0 73.6,201.4 76.5,201.4 C79.3,201.4 82.9,201.2 86.1,201.0 C89.3,200.7 94.1,200.2 95.7,200.0" fill="none" stroke="#4194cc" stroke-width="2.9" stroke-linecap="round"/><path d="M69.2,214.5 C70.4,214.0 74.1,212.7 76.5,211.6 C78.8,210.4 81.1,208.8 83.2,207.7 C85.3,206.7 86.9,205.9 89.0,205.3 C91.1,204.7 93.0,204.4 95.7,203.9 C98.4,203.3 102.6,202.5 105.4,201.9 C108.1,201.4 110.3,200.8 112.1,200.5 C113.9,200.2 115.3,200.1 115.9,200.0" fill="none" stroke="#4194cc" stroke-width="2.9" stroke-linecap="round"/><path d="M69.2,219.3 C70.4,219.4 74.4,220.2 76.5,220.2 C78.5,220.3 79.7,219.7 81.3,219.7 C82.9,219.7 84.5,219.8 86.1,220.2 C87.7,220.6 89.3,221.5 90.9,222.2 C92.5,222.8 94.1,223.5 95.7,224.1 C97.3,224.6 98.9,224.9 100.5,225.5 C102.1,226.2 103.4,227.1 105.4,227.9 C107.3,228.8 109.7,229.9 112.1,230.8 C114.5,231.7 117.2,232.8 119.8,233.2 C122.5,233.7 126.6,233.6 128.0,233.7" fill="none" stroke="#4194cc" stroke-width="2.9" stroke-linecap="round"/><path d="M69.2,223.1 C70.4,223.0 74.1,222.4 76.5,222.2 C78.8,221.9 80.8,221.5 83.2,221.7 C85.6,221.8 88.3,222.4 90.9,223.1 C93.5,223.8 96.4,225.0 98.6,226.0 C100.9,227.0 102.1,227.9 104.4,228.9 C106.6,229.9 109.5,231.1 112.1,231.8 C114.7,232.4 117.2,232.5 119.8,232.8 C122.5,233.0 126.6,233.2 128.0,233.2" fill="none" stroke="#4194cc" stroke-width="2.9" stroke-linecap="round"/><path d="M69.2,226.0 C70.4,226.2 74.0,226.5 76.5,227.0 C78.9,227.5 81.7,228.1 84.2,228.9 C86.6,229.7 88.8,230.8 90.9,231.8 C93.0,232.8 94.8,233.7 96.7,234.7 C98.6,235.6 100.2,236.8 102.5,237.6 C104.7,238.4 107.6,239.0 110.2,239.5 C112.7,240.0 114.9,240.1 117.9,240.5 C120.8,240.8 126.3,241.3 128.0,241.4" fill="none" stroke="#4194cc" stroke-width="2.9" stroke-linecap="round"/><path d="M69.2,230.8 C70.4,231.0 74.0,231.3 76.5,231.8 C78.9,232.3 81.7,233.0 84.2,233.7 C86.6,234.4 88.8,235.4 90.9,236.1 C93.0,236.8 94.8,237.3 96.7,238.1 C98.6,238.8 100.5,239.7 102.5,240.5 C104.4,241.2 106.2,241.7 108.2,242.4 C110.3,243.0 112.7,243.7 115.0,244.3 C117.2,245.0 119.6,245.8 121.7,246.2 C123.9,246.7 126.9,247.0 128.0,247.2" fill="none" stroke="#4194cc" stroke-width="2.9" stroke-linecap="round"/></g>
<rect x="62.00" y="2.00" width="171.00" height="757.60" fill="none" stroke="#0d0d0d" stroke-width="1.50"/>
<line x1="56.00" y1="111.92" x2="62.00" y2="111.92" stroke="#0d0d0d" stroke-width="1.50" />
<text x="49.50" y="118.32" font-size="18.03" text-anchor="end" font-weight="normal" font-style="normal" fill="#000" textLength="11.13" lengthAdjust="spacingAndGlyphs" >4</text>
<line x1="56.00" y1="222.46" x2="62.00" y2="222.46" stroke="#0d0d0d" stroke-width="1.50" />
<text x="49.50" y="228.86" font-size="18.03" text-anchor="end" font-weight="normal" font-style="normal" fill="#000" textLength="11.13" lengthAdjust="spacingAndGlyphs" >2</text>
<line x1="56.00" y1="333.00" x2="62.00" y2="333.00" stroke="#0d0d0d" stroke-width="1.50" />
<text x="49.50" y="339.40" font-size="18.03" text-anchor="end" font-weight="normal" font-style="normal" fill="#000" textLength="11.13" lengthAdjust="spacingAndGlyphs" >0</text>
<line x1="56.00" y1="443.54" x2="62.00" y2="443.54" stroke="#0d0d0d" stroke-width="1.50" />
<text x="49.50" y="449.94" font-size="18.03" text-anchor="end" font-weight="normal" font-style="normal" fill="#000" textLength="25.80" lengthAdjust="spacingAndGlyphs" >−2</text>
<line x1="56.00" y1="554.08" x2="62.00" y2="554.08" stroke="#0d0d0d" stroke-width="1.50" />
<text x="49.50" y="560.48" font-size="18.03" text-anchor="end" font-weight="normal" font-style="normal" fill="#000" textLength="25.80" lengthAdjust="spacingAndGlyphs" >−4</text>
<line x1="56.00" y1="664.62" x2="62.00" y2="664.62" stroke="#0d0d0d" stroke-width="1.50" />
<text x="49.50" y="671.02" font-size="18.03" text-anchor="end" font-weight="normal" font-style="normal" fill="#000" textLength="25.80" lengthAdjust="spacingAndGlyphs" >−6</text>
<line x1="69.60" y1="759.60" x2="69.60" y2="765.80" stroke="#0d0d0d" stroke-width="1.50" />
<text x="69.60" y="785.20" font-size="18.03" text-anchor="middle" font-weight="normal" font-style="normal" fill="#000" textLength="9.75" lengthAdjust="spacingAndGlyphs" >Γ</text>
<line x1="121.80" y1="759.60" x2="121.80" y2="765.80" stroke="#0d0d0d" stroke-width="1.50" />
<text x="121.80" y="785.20" font-size="18.03" text-anchor="middle" font-weight="normal" font-style="normal" fill="#000" textLength="15.10" lengthAdjust="spacingAndGlyphs" >M</text>
<line x1="174.00" y1="759.60" x2="174.00" y2="765.80" stroke="#0d0d0d" stroke-width="1.50" />
<text x="174.00" y="785.20" font-size="18.03" text-anchor="middle" font-weight="normal" font-style="normal" fill="#000" textLength="11.99" lengthAdjust="spacingAndGlyphs" >X</text>
<line x1="226.50" y1="759.60" x2="226.50" y2="765.80" stroke="#0d0d0d" stroke-width="1.50" />
<text x="226.50" y="785.20" font-size="18.03" text-anchor="middle" font-weight="normal" font-style="normal" fill="#000" textLength="9.75" lengthAdjust="spacingAndGlyphs" >Γ</text>
<text x="147.60" y="806.50" font-size="18.03" text-anchor="middle" font-weight="normal" font-style="normal" fill="#000" textLength="86.61" lengthAdjust="spacingAndGlyphs" >k-point [-]</text>
<text x="14.60" y="380.80" font-size="18.03" text-anchor="middle" font-weight="normal" font-style="normal" fill="#000" textLength="102.93" lengthAdjust="spacingAndGlyphs" transform="rotate(-90 14.60 380.80)" >energy [eV]</text>
<rect x="77.00" y="9.00" width="141.40" height="48.20" rx="3" ry="3" fill="#fff" fill-opacity="0.8" stroke="#d0d0d0" stroke-width="1.2"/>
<line x1="81.70" y1="21.50" x2="113.90" y2="21.50" stroke="#000" stroke-width="2.90" />
<text x="124.20" y="26.80" font-size="15.04" text-anchor="start" font-weight="normal" font-style="normal" fill="#000" textLength="38.64" lengthAdjust="spacingAndGlyphs" >DFT (</text>
<text x="163.14" y="26.80" font-size="15.33" font-style="italic" fill="#000">p</text>
<text x="171.44" y="29.10" font-size="10.80" font-style="italic" fill="#000">z</text>
<text x="178.14" y="26.80" font-size="15.04" text-anchor="start" font-weight="normal" font-style="normal" fill="#000" textLength="5.70" lengthAdjust="spacingAndGlyphs" >)</text>
<line x1="81.70" y1="43.30" x2="113.90" y2="43.30" stroke="#4194cc" stroke-width="2.90" />
<text x="124.20" y="48.60" font-size="15.04" text-anchor="start" font-weight="normal" font-style="normal" fill="#000" textLength="85.99" lengthAdjust="spacingAndGlyphs" >MLP (10NN)</text>
<defs><clipPath id="clipb"><rect x="310" y="2" width="336.5" height="267.6"/></clipPath><clipPath id="clipc"><rect x="310" y="277.3" width="336.5" height="84.4"/></clipPath></defs><g clip-path="url(#clipb)"><path d="M310.0,89.1 C310.5,88.5 311.8,89.9 312.8,85.8 C313.8,81.8 315.0,71.3 316.0,65.0 C317.1,58.7 318.2,48.2 319.2,48.1 C320.3,48.0 321.3,66.3 322.5,64.2 C323.6,62.0 325.1,34.9 326.1,35.3 C327.2,35.7 327.9,61.2 328.9,66.6 C329.9,71.9 331.2,66.3 332.1,67.4 C333.0,68.4 333.4,70.2 334.5,73.0 C335.6,75.8 337.2,80.0 338.5,84.2 C339.9,88.5 341.3,93.6 342.5,98.7 C343.7,103.8 344.9,109.3 345.7,114.7 C346.6,120.2 347.0,126.7 347.6,131.4 C348.2,136.1 348.5,139.6 349.5,142.8 C350.4,145.9 352.0,147.2 353.3,150.4 C354.6,153.5 356.0,158.9 357.1,161.8 C358.2,164.6 359.0,167.6 359.9,167.4 C360.9,167.3 362.0,161.4 362.8,160.8 C363.6,160.2 364.0,160.3 364.7,163.7 C365.3,167.0 365.9,173.8 366.6,180.7 C367.2,187.7 367.8,197.8 368.5,205.4 C369.1,213.0 369.7,221.9 370.4,226.3 C371.1,230.7 371.7,231.8 372.6,232.0 C373.6,232.1 374.9,228.6 376.1,227.2 C377.3,225.9 378.3,225.0 379.9,224.0 C381.4,223.1 383.8,222.4 385.5,221.5 C387.3,220.7 389.0,218.4 390.3,218.7 C391.6,219.0 392.0,221.2 393.1,223.4 C394.2,225.6 395.4,229.9 396.9,232.0 C398.5,234.0 400.4,234.2 402.6,235.8 C404.8,237.4 408.0,239.9 410.2,241.5 C412.4,243.0 413.4,244.0 415.9,245.3 C418.4,246.5 422.2,247.8 425.4,249.1 C428.6,250.3 431.7,251.3 434.9,252.9 C438.1,254.4 441.2,256.8 444.4,258.5 C447.5,260.3 451.3,262.0 453.9,263.3 C456.4,264.6 458.1,267.9 459.6,266.1 C461.0,264.4 461.8,257.3 462.4,252.9 C463.1,248.4 462.9,244.4 463.5,239.3 C464.2,234.1 465.2,226.7 466.4,222.2 C467.6,217.7 469.2,214.4 470.7,212.2 C472.1,210.1 473.5,209.6 474.9,209.4 C476.3,209.1 478.0,209.6 479.2,210.8 C480.4,212.0 480.9,215.1 482.0,216.5 C483.2,217.9 484.7,218.9 486.3,219.3 C488.0,219.8 490.1,219.6 492.0,219.3 C493.9,219.1 495.8,218.6 497.7,217.9 C499.6,217.2 501.5,216.3 503.4,215.1 C505.3,213.9 507.2,213.4 509.1,210.8 C511.0,208.2 513.1,204.2 514.8,199.4 C516.4,194.7 517.6,188.5 519.0,182.3 C520.5,176.2 521.9,167.6 523.3,162.4 C524.7,157.2 526.4,157.2 527.6,151.0 C528.8,144.8 529.6,136.8 530.4,125.4 C531.2,114.0 531.7,94.1 532.4,82.7 C533.1,71.3 533.9,57.1 534.7,57.1 C535.5,57.1 536.3,73.7 537.0,82.7 C537.7,91.7 538.2,101.7 539.0,111.2 C539.8,120.7 540.9,132.0 541.8,139.6 C542.8,147.2 543.7,154.8 544.7,156.7 C545.6,158.6 546.7,153.6 547.5,151.0 C548.3,148.4 548.8,139.6 549.5,141.1 C550.2,142.5 551.0,150.8 551.8,159.6 C552.5,168.3 553.1,187.8 554.1,193.7 C555.0,199.6 556.2,194.4 557.5,195.1 C558.8,195.8 560.3,199.2 561.7,198.0 C563.2,196.8 564.6,193.5 566.0,188.0 C567.4,182.6 569.3,170.1 570.3,165.2 C571.3,160.4 571.2,161.7 572.0,159.1 C572.8,156.6 574.1,153.0 575.1,149.9 C576.1,146.8 577.2,144.7 578.2,140.6 C579.2,136.5 580.4,128.5 581.3,125.1 C582.2,121.8 582.7,120.8 583.4,120.5 C584.2,120.2 585.0,121.3 585.9,123.6 C586.8,125.9 588.0,131.1 589.0,134.4 C590.0,137.8 591.2,141.6 592.1,143.7 C593.0,145.7 593.5,146.8 594.6,146.8 C595.6,146.8 596.9,145.2 598.3,143.7 C599.7,142.1 601.4,141.1 602.9,137.5 C604.5,133.9 606.3,128.2 607.6,122.0 C608.9,115.9 609.7,109.7 610.7,100.4 C611.6,91.1 612.5,77.2 613.1,66.4 C613.8,55.6 614.1,39.1 614.7,35.5 C615.3,31.9 616.1,39.1 616.8,44.7 C617.6,50.4 618.5,63.3 619.3,69.5 C620.1,75.7 620.8,77.2 621.5,81.8 C622.2,86.5 623.0,92.2 623.6,97.3 C624.3,102.5 624.9,112.2 625.5,112.8 C626.1,113.3 626.5,104.8 627.0,100.4 C627.6,96.0 628.1,86.5 628.6,86.5 C629.1,86.5 629.6,90.9 630.1,100.4 C630.7,109.9 631.2,135.4 631.7,143.7 C632.1,151.9 632.4,149.9 632.9,149.9 C633.4,149.9 634.1,149.9 634.8,143.7 C635.4,137.5 636.2,123.1 636.9,112.8 C637.7,102.5 638.3,92.2 639.1,81.8 C639.9,71.5 640.9,58.1 641.6,50.9 C642.3,43.7 642.5,39.1 643.1,38.6 C643.7,38.0 644.7,45.8 645.3,47.8 C645.9,49.9 646.3,50.4 646.5,50.9" fill="none" stroke="#000" stroke-width="2.80" stroke-linejoin="round" stroke-linecap="round"/><path d="M309.9,92.3 C310.4,92.8 311.8,96.3 312.8,95.5 C313.8,94.7 315.0,90.3 316.0,87.4 C317.1,84.6 318.2,77.8 319.2,78.6 C320.3,79.4 321.5,88.7 322.5,92.3 C323.4,95.9 323.9,101.1 324.9,100.3 C325.8,99.5 326.9,91.2 328.1,87.4 C329.3,83.7 331.0,81.0 332.1,77.8 C333.2,74.6 333.6,71.0 334.5,68.2 C335.4,65.4 336.8,61.5 337.7,61.0 C338.6,60.4 339.3,62.2 340.1,65.0 C340.9,67.8 341.6,72.7 342.5,77.8 C343.5,82.9 344.8,90.9 345.7,95.5 C346.7,100.0 347.3,103.8 348.1,105.1 C349.0,106.5 349.6,103.0 350.6,103.5 C351.5,104.0 352.7,108.3 353.8,108.3 C354.8,108.3 355.9,102.7 357.0,103.5 C358.1,104.3 359.1,109.4 360.2,113.1 C361.3,116.9 362.5,123.3 363.4,126.0 C364.3,128.7 365.0,127.1 365.8,129.2 C366.6,131.3 367.5,134.7 368.2,138.8 C369.0,143.0 369.4,149.1 370.4,154.2 C371.4,159.2 372.9,164.0 374.2,169.3 C375.4,174.7 376.9,181.4 378.0,186.4 C379.1,191.5 379.9,195.3 380.8,199.7 C381.8,204.1 382.5,208.9 383.7,213.0 C384.8,217.1 386.2,221.7 387.4,224.4 C388.7,227.1 390.0,229.4 391.2,229.1 C392.5,228.8 393.8,224.2 395.0,222.5 C396.3,220.7 397.6,218.1 398.8,218.7 C400.1,219.3 401.4,224.7 402.6,226.3 C403.9,227.9 405.0,226.6 406.4,228.2 C407.8,229.8 409.9,233.6 411.2,235.8 C412.4,238.0 412.9,241.8 414.0,241.5 C415.1,241.1 416.5,235.6 417.8,233.9 C419.1,232.1 420.3,231.0 421.6,231.0 C422.9,231.0 424.1,232.1 425.4,233.9 C426.7,235.6 427.9,239.6 429.2,241.5 C430.5,243.4 431.7,244.5 433.0,245.3 C434.3,246.1 435.5,246.2 436.8,246.2 C438.1,246.2 439.3,245.1 440.6,245.3 C441.9,245.4 443.0,248.7 444.4,247.2 C445.8,245.6 447.9,236.1 449.1,235.8 C450.4,235.5 451.0,242.4 452.0,245.3 C452.9,248.1 453.9,251.1 454.8,252.9 C455.8,254.6 456.6,257.0 457.7,255.7 C458.8,254.4 460.2,250.2 461.5,245.3 C462.7,240.4 464.2,231.1 465.3,226.3 C466.3,221.5 466.9,219.8 467.8,216.5 C468.7,213.2 469.7,207.5 470.7,206.5 C471.6,205.6 472.6,208.7 473.5,210.8 C474.5,212.9 475.2,218.9 476.3,219.3 C477.5,219.8 479.2,216.3 480.6,213.6 C482.0,211.0 483.5,203.2 484.9,203.7 C486.3,204.2 488.0,212.9 489.2,216.5 C490.3,220.0 490.8,225.5 492.0,225.0 C493.2,224.6 494.9,216.5 496.3,213.6 C497.7,210.8 499.1,208.4 500.5,207.9 C502.0,207.5 503.6,212.2 504.8,210.8 C506.0,209.4 506.5,202.3 507.7,199.4 C508.8,196.6 510.5,197.5 511.9,193.7 C513.4,189.9 514.8,181.4 516.2,176.6 C517.6,171.9 519.0,172.4 520.5,165.2 C521.9,158.1 523.6,144.4 524.7,133.9 C525.9,123.5 526.8,109.7 527.6,102.6 C528.4,95.5 528.6,90.3 529.6,91.2 C530.5,92.2 532.2,105.0 533.3,108.3 C534.4,111.6 535.2,107.4 536.1,111.2 C537.1,115.0 538.0,123.0 539.0,131.1 C539.9,139.2 540.9,152.0 541.8,159.6 C542.8,167.1 543.7,169.5 544.7,176.6 C545.6,183.8 546.3,193.7 547.5,202.3 C548.7,210.8 550.6,222.2 551.8,227.9 C553.0,233.6 553.7,236.4 554.6,236.4 C555.6,236.4 556.3,232.6 557.5,227.9 C558.7,223.1 560.3,212.2 561.7,207.9 C563.2,203.7 564.8,201.3 566.0,202.3 C567.2,203.2 567.9,212.7 568.9,213.6 C569.8,214.6 570.8,210.3 571.7,207.9 C572.6,205.6 573.1,201.8 574.2,199.3 C575.3,196.9 576.7,196.3 578.2,193.2 C579.6,190.1 581.5,181.8 582.8,180.8 C584.1,179.8 584.9,187.5 585.9,187.0 C587.0,186.5 587.7,179.8 589.0,177.7 C590.3,175.6 592.1,177.7 593.7,174.6 C595.2,171.5 596.7,164.3 598.3,159.1 C599.8,154.0 601.7,147.3 602.9,143.7 C604.1,140.1 604.6,136.0 605.4,137.5 C606.2,139.0 606.7,149.6 607.6,153.0 C608.4,156.3 609.6,157.6 610.7,157.6 C611.7,157.6 612.9,151.7 613.8,153.0 C614.6,154.3 615.1,163.8 615.9,165.3 C616.7,166.9 617.5,164.8 618.4,162.2 C619.3,159.7 620.5,154.5 621.5,149.9 C622.5,145.2 623.7,135.4 624.6,134.4 C625.4,133.4 626.0,144.2 626.7,143.7 C627.5,143.2 628.3,130.8 629.2,131.3 C630.1,131.8 631.4,143.2 632.3,146.8 C633.2,150.4 634.0,156.1 634.8,153.0 C635.6,149.9 636.2,136.0 636.9,128.2 C637.7,120.5 638.2,112.8 639.1,106.6 C640.0,100.4 641.2,94.7 642.2,91.1 C643.2,87.5 644.6,85.5 645.3,84.9 C646.0,84.4 646.3,87.5 646.5,88.0" fill="none" stroke="#ab53c0" stroke-width="2.80" stroke-linejoin="round" stroke-linecap="round"/><path d="M309.9,103.5 C310.5,104.4 312.5,109.7 313.6,109.1 C314.8,108.6 315.9,102.7 316.8,100.3 C317.8,97.9 318.3,93.9 319.2,94.7 C320.2,95.5 321.4,103.1 322.5,105.1 C323.5,107.1 324.6,108.3 325.7,106.7 C326.7,105.1 327.8,99.8 328.9,95.5 C329.9,91.2 331.2,82.9 332.1,81.0 C333.0,79.2 333.7,82.6 334.5,84.2 C335.3,85.8 336.0,91.2 336.9,90.7 C337.8,90.1 339.0,80.0 340.1,81.0 C341.2,82.1 342.3,92.0 343.3,97.1 C344.4,102.2 345.5,108.6 346.5,111.5 C347.6,114.5 348.7,112.9 349.8,114.7 C350.8,116.6 351.9,122.0 353.0,122.8 C354.0,123.6 355.1,117.4 356.2,119.6 C357.2,121.7 358.3,133.5 359.4,135.6 C360.5,137.8 361.7,132.4 362.6,132.4 C363.5,132.4 364.5,134.5 365.0,135.6 C365.5,136.7 365.0,136.2 365.6,139.0 C366.2,141.8 367.4,149.1 368.5,152.3 C369.6,155.4 371.2,156.9 372.3,158.0 C373.4,159.1 374.2,157.6 375.1,158.9 C376.1,160.2 377.0,162.9 378.0,165.5 C378.9,168.2 379.7,175.4 380.8,175.0 C381.9,174.7 383.3,161.1 384.6,163.7 C385.9,166.2 387.1,184.5 388.4,190.2 C389.7,195.9 390.8,193.4 392.2,197.8 C393.6,202.2 395.5,213.9 396.9,216.8 C398.4,219.6 399.5,216.8 400.7,214.9 C402.0,213.0 403.4,205.1 404.5,205.4 C405.6,205.7 406.4,213.3 407.4,216.8 C408.3,220.3 409.3,224.9 410.2,226.3 C411.2,227.7 412.3,225.7 413.1,225.3 C413.9,225.0 414.2,222.6 415.0,224.0 C415.8,225.4 416.7,233.2 417.8,233.9 C418.9,234.6 420.2,229.3 421.6,228.2 C423.0,227.1 425.1,226.0 426.4,227.2 C427.6,228.5 428.1,233.1 429.2,235.8 C430.3,238.5 431.7,242.4 433.0,243.4 C434.3,244.3 435.5,241.1 436.8,241.5 C438.1,241.8 439.5,245.9 440.6,245.3 C441.7,244.6 442.5,238.0 443.4,237.7 C444.4,237.4 445.2,241.5 446.3,243.4 C447.4,245.3 448.8,247.8 450.1,249.1 C451.3,250.3 452.6,249.7 453.9,251.0 C455.1,252.2 456.4,257.0 457.7,256.6 C458.9,256.3 460.2,251.6 461.5,249.1 C462.7,246.5 464.2,242.1 465.3,241.5 C466.3,240.8 466.9,243.4 467.8,245.0 C468.7,246.5 469.5,248.3 470.7,250.6 C471.8,253.0 473.5,259.7 474.9,259.2 C476.3,258.7 477.8,250.6 479.2,247.8 C480.6,245.0 482.0,243.5 483.5,242.1 C484.9,240.7 486.3,243.5 487.7,239.3 C489.2,235.0 490.6,224.1 492.0,216.5 C493.4,208.9 495.3,198.5 496.3,193.7 C497.2,189.0 497.0,186.1 497.7,188.0 C498.4,189.9 499.6,200.8 500.5,205.1 C501.5,209.4 502.4,214.1 503.4,213.6 C504.3,213.2 505.1,206.5 506.2,202.3 C507.4,198.0 509.3,188.5 510.5,188.0 C511.7,187.5 512.4,194.2 513.4,199.4 C514.3,204.6 515.0,217.9 516.2,219.3 C517.4,220.8 519.0,212.2 520.5,207.9 C521.9,203.7 523.3,194.7 524.7,193.7 C526.2,192.8 527.8,203.2 529.0,202.3 C530.2,201.3 530.9,194.2 531.9,188.0 C532.8,181.9 533.8,171.2 534.7,165.2 C535.7,159.3 536.6,152.9 537.6,152.4 C538.5,152.0 539.4,163.1 540.4,162.4 C541.3,161.7 542.3,154.3 543.2,148.2 C544.2,142.0 545.2,130.6 546.1,125.4 C546.9,120.2 547.7,115.9 548.4,116.9 C549.1,117.8 549.6,131.1 550.4,131.1 C551.2,131.1 552.3,124.4 553.2,116.9 C554.2,109.3 555.1,89.8 556.1,85.5 C557.0,81.3 558.0,87.0 558.9,91.2 C559.8,95.5 560.8,101.7 561.7,111.2 C562.7,120.7 563.6,133.5 564.6,148.2 C565.5,162.9 566.5,189.9 567.4,199.4 C568.4,208.9 569.5,202.5 570.3,205.1 C571.0,207.7 571.2,214.2 572.0,214.8 C572.8,215.4 573.9,210.2 575.1,208.6 C576.3,207.1 577.9,207.6 579.1,205.5 C580.3,203.5 581.3,199.9 582.2,196.3 C583.1,192.6 583.5,188.5 584.4,183.9 C585.3,179.2 586.4,173.1 587.5,168.4 C588.5,163.8 589.5,160.2 590.6,156.1 C591.6,151.9 592.8,148.8 593.7,143.7 C594.5,138.5 595.2,130.5 595.8,125.1 C596.4,119.7 596.7,112.8 597.4,111.2 C598.0,109.7 598.9,114.1 599.8,115.9 C600.8,117.7 601.9,119.5 602.9,122.0 C604.0,124.6 605.0,131.3 606.0,131.3 C607.1,131.3 608.3,122.6 609.1,122.0 C609.9,121.5 609.9,126.2 610.7,128.2 C611.4,130.3 612.7,134.4 613.8,134.4 C614.8,134.4 615.8,130.5 616.8,128.2 C617.9,125.9 618.9,119.5 619.9,120.5 C621.0,121.5 621.9,129.8 623.0,134.4 C624.2,139.0 625.7,150.4 626.7,148.3 C627.8,146.3 628.3,128.5 629.2,122.0 C630.1,115.6 631.4,112.8 632.3,109.7 C633.2,106.6 634.0,103.0 634.8,103.5 C635.6,104.0 636.2,109.2 636.9,112.8 C637.7,116.4 638.2,122.0 639.1,125.1 C640.0,128.2 641.2,133.4 642.2,131.3 C643.2,129.3 644.6,116.9 645.3,112.8 C646.0,108.6 646.3,107.6 646.5,106.6" fill="none" stroke="#4cc25f" stroke-width="2.80" stroke-linejoin="round" stroke-linecap="round"/><path d="M309.9,103.5 C310.7,102.7 313.1,99.8 314.4,98.7 C315.7,97.6 316.3,95.6 317.6,97.1 C319.0,98.6 321.2,107.8 322.5,107.5 C323.7,107.3 324.1,100.7 324.9,95.5 C325.7,90.3 326.3,77.5 327.3,76.2 C328.2,74.9 329.4,86.6 330.5,87.4 C331.6,88.3 332.7,84.9 333.7,81.0 C334.7,77.1 335.6,65.8 336.6,64.2 C337.5,62.6 338.3,67.2 339.3,71.4 C340.3,75.5 341.5,82.1 342.5,89.1 C343.6,96.0 344.7,109.7 345.7,113.1 C346.8,116.6 347.9,110.2 349.0,109.9 C350.0,109.7 351.2,112.1 352.2,111.5 C353.1,111.0 353.6,105.9 354.6,106.7 C355.5,107.5 356.7,112.3 357.8,116.4 C358.9,120.4 359.9,128.7 361.0,130.8 C362.1,132.9 363.1,127.9 364.2,129.2 C365.3,130.5 366.7,136.3 367.4,138.8 C368.1,141.4 367.8,141.2 368.5,144.7 C369.1,148.2 370.0,154.8 371.3,159.9 C372.6,164.9 374.8,170.9 376.1,175.0 C377.3,179.2 378.0,180.4 378.9,184.5 C379.9,188.6 380.8,194.0 381.8,199.7 C382.7,205.4 383.8,215.1 384.6,218.7 C385.4,222.3 385.7,221.2 386.5,221.5 C387.3,221.9 388.4,220.4 389.3,220.6 C390.3,220.7 391.2,221.9 392.2,222.5 C393.1,223.1 393.9,224.2 395.0,224.4 C396.1,224.5 397.7,223.1 398.8,223.4 C399.9,223.8 400.7,226.3 401.7,226.3 C402.6,226.3 403.4,222.5 404.5,223.4 C405.6,224.4 406.9,228.7 408.3,232.0 C409.7,235.3 411.8,242.4 413.1,243.4 C414.3,244.3 414.8,239.9 415.9,237.7 C417.0,235.5 418.4,230.4 419.7,230.1 C421.0,229.8 422.2,234.7 423.5,235.8 C424.8,236.9 426.0,235.8 427.3,236.7 C428.6,237.7 429.8,239.7 431.1,241.5 C432.4,243.2 433.6,246.4 434.9,247.2 C436.2,247.9 437.4,246.7 438.7,246.2 C440.0,245.7 441.2,245.1 442.5,244.3 C443.8,243.5 445.3,242.4 446.3,241.5 C447.2,240.5 447.2,237.4 448.2,238.6 C449.1,239.9 450.9,246.4 452.0,249.1 C453.1,251.7 453.9,254.0 454.8,254.8 C455.8,255.5 456.6,255.7 457.7,253.8 C458.8,251.9 460.2,245.4 461.5,243.4 C462.7,241.3 464.0,246.9 465.3,241.5 C466.6,236.0 468.0,217.1 469.2,210.8 C470.5,204.5 471.5,203.7 472.6,203.7 C473.8,203.7 475.0,208.7 476.3,210.8 C477.7,212.9 479.2,217.4 480.6,216.5 C482.0,215.5 483.7,206.0 484.9,205.1 C486.1,204.2 486.8,208.4 487.7,210.8 C488.7,213.2 489.4,219.1 490.6,219.3 C491.8,219.6 493.4,214.8 494.9,212.2 C496.3,209.6 497.7,204.4 499.1,203.7 C500.5,203.0 502.0,206.8 503.4,207.9 C504.8,209.1 506.2,211.7 507.7,210.8 C509.1,209.8 510.5,206.5 511.9,202.3 C513.4,198.0 514.8,190.9 516.2,185.2 C517.6,179.5 519.3,173.3 520.5,168.1 C521.7,162.9 522.5,160.0 523.3,153.9 C524.2,147.7 524.9,138.7 525.6,131.1 C526.3,123.5 526.9,112.4 527.6,108.3 C528.3,104.3 528.6,105.7 529.6,106.9 C530.5,108.1 532.2,114.5 533.3,115.4 C534.4,116.4 535.2,110.9 536.1,112.6 C537.1,114.2 537.8,118.5 539.0,125.4 C540.2,132.3 542.1,144.4 543.2,153.9 C544.4,163.4 545.1,172.8 546.1,182.3 C547.0,191.8 547.8,203.2 548.9,210.8 C550.1,218.4 551.8,226.5 553.2,227.9 C554.6,229.3 556.1,222.7 557.5,219.3 C558.9,216.0 560.6,210.6 561.7,207.9 C562.9,205.3 563.4,202.3 564.6,203.7 C565.8,205.1 567.7,215.8 568.9,216.5 C570.0,217.2 570.5,211.8 571.7,207.9 C572.9,204.1 574.7,196.1 576.0,193.2 C577.4,190.2 578.3,191.6 579.7,190.1 C581.1,188.5 582.8,185.9 584.4,183.9 C585.9,181.8 587.5,180.3 589.0,177.7 C590.6,175.1 592.1,172.0 593.7,168.4 C595.2,164.8 596.7,159.1 598.3,156.1 C599.8,153.0 601.6,151.7 602.9,149.9 C604.2,148.1 605.0,145.7 606.0,145.2 C607.1,144.7 608.2,145.5 609.1,146.8 C610.0,148.1 610.6,153.5 611.6,153.0 C612.6,152.4 614.2,145.7 615.3,143.7 C616.4,141.6 617.4,142.1 618.4,140.6 C619.4,139.0 620.5,136.5 621.5,134.4 C622.5,132.3 623.5,129.5 624.6,128.2 C625.6,126.9 626.6,129.3 627.7,126.7 C628.7,124.1 629.7,117.7 630.8,112.8 C631.8,107.9 633.0,102.5 633.8,97.3 C634.7,92.2 635.3,86.0 636.0,81.8 C636.7,77.7 637.0,73.6 637.9,72.6 C638.7,71.5 639.9,73.6 641.0,75.7 C642.0,77.7 643.1,82.9 644.1,84.9 C645.0,87.0 646.1,87.5 646.5,88.0" fill="none" stroke="#4194cc" stroke-width="2.80" stroke-linejoin="round" stroke-linecap="round"/></g>
<g clip-path="url(#clipc)"><path d="M310.5,282.7 C311.3,282.8 313.8,283.4 315.4,283.4 C317.1,283.4 319.0,282.6 320.4,282.7 C321.9,282.8 323.1,284.1 324.1,283.9 C325.2,283.8 325.2,282.4 326.6,281.9 C328.1,281.4 330.5,281.2 332.8,280.9 C335.1,280.7 338.0,280.5 340.3,280.2 C342.5,280.0 345.0,279.3 346.5,279.5 C347.9,279.7 347.5,281.2 349.0,281.4 C350.4,281.7 353.1,281.3 355.2,280.9 C357.2,280.6 359.5,279.8 361.4,279.5 C363.2,279.1 365.1,277.4 366.3,279.0 C367.6,280.5 368.0,281.9 368.8,288.9 C369.6,295.9 370.6,316.2 371.3,321.2 C372.0,326.1 372.4,322.4 373.0,318.7 C373.6,315.0 374.3,304.6 375.0,298.8 C375.8,293.0 376.7,287.2 377.5,283.9 C378.3,280.7 378.3,280.3 380.0,279.5 C381.6,278.6 384.5,279.1 387.4,279.0 C390.3,278.8 394.0,278.6 397.4,278.5 C400.7,278.3 403.6,278.0 407.3,278.0 C411.0,278.0 416.4,278.3 419.7,278.5 C423.0,278.6 424.2,278.5 427.1,279.0 C430.0,279.5 433.8,280.6 437.1,281.4 C440.4,282.3 444.1,283.1 447.0,283.9 C449.9,284.8 452.4,285.2 454.4,286.4 C456.5,287.7 458.2,288.5 459.4,291.4 C460.6,294.3 461.3,305.0 461.9,303.8 C462.5,302.5 462.3,287.7 463.1,283.9 C464.0,280.2 465.4,282.1 466.8,281.4 C468.3,280.8 470.3,280.6 471.8,280.2 C473.3,279.8 474.0,279.1 476.0,279.0 C478.0,278.9 481.0,279.3 483.5,279.5 C486.0,279.7 488.6,280.3 491.1,280.3 C493.6,280.3 496.1,279.5 498.6,279.5 C501.1,279.5 503.6,279.9 506.1,280.3 C508.6,280.6 511.1,281.3 513.7,281.5 C516.2,281.7 518.7,281.3 521.2,281.5 C523.7,281.7 526.2,283.0 528.7,282.8 C531.2,282.6 533.7,280.9 536.3,280.3 C538.8,279.6 541.7,279.4 543.8,279.0 C545.9,278.6 547.6,276.1 548.8,277.8 C550.0,279.4 550.2,284.5 550.8,289.1 C551.4,293.7 551.9,304.5 552.6,305.4 C553.3,306.2 554.0,297.4 555.1,294.1 C556.1,290.7 557.6,287.4 558.9,285.3 C560.1,283.2 561.4,282.4 562.6,281.5 C563.9,280.7 564.9,280.4 566.4,280.3 C567.8,280.2 569.7,280.6 571.4,281.0 C573.1,281.4 574.8,282.1 576.4,282.8 C578.1,283.5 579.8,285.1 581.4,285.3 C583.1,285.5 584.8,284.3 586.5,284.0 C588.1,283.7 589.8,283.5 591.5,283.5 C593.2,283.6 594.8,284.3 596.5,284.5 C598.2,284.8 599.9,285.0 601.5,285.3 C603.2,285.6 604.9,286.1 606.6,286.6 C608.2,287.0 610.3,286.1 611.6,287.8 C612.8,289.5 613.2,296.6 614.1,296.6 C614.9,296.6 615.3,289.7 616.6,287.8 C617.9,285.9 619.9,285.5 621.6,285.3 C623.3,285.1 625.6,285.1 626.6,286.6 C627.7,288.0 627.4,293.9 627.9,294.1 C628.4,294.3 628.8,288.4 629.7,287.8 C630.5,287.2 631.7,289.9 632.9,290.3 C634.1,290.7 635.2,290.7 636.7,290.3 C638.1,289.9 640.0,288.4 641.7,287.8 C643.4,287.2 646.1,286.8 647.0,286.6" fill="none" stroke="#ab53c0" stroke-width="2.40" stroke-linejoin="round" stroke-linecap="round"/><path d="M310.5,283.9 C311.3,284.1 313.8,285.1 315.4,285.2 C317.1,285.3 319.0,284.2 320.4,284.4 C321.9,284.6 323.2,283.6 324.1,286.4 C325.0,289.2 325.2,301.3 325.9,301.3 C326.5,301.3 326.7,289.2 327.9,286.4 C329.0,283.6 330.8,284.9 332.8,284.4 C334.9,283.9 338.0,283.9 340.3,283.4 C342.5,282.9 345.0,281.2 346.5,281.4 C347.9,281.7 347.5,284.3 349.0,285.2 C350.4,286.0 353.1,286.4 355.2,286.4 C357.2,286.4 359.7,284.3 361.4,285.2 C363.0,286.0 364.1,291.6 365.1,291.4 C366.1,291.2 366.7,280.6 367.6,283.9 C368.4,287.2 369.3,305.9 370.1,311.2 C370.8,316.6 371.3,316.6 372.0,316.2 C372.8,315.8 373.6,310.2 374.5,308.7 C375.4,307.3 376.4,308.7 377.5,307.5 C378.6,306.3 380.0,303.0 381.2,301.3 C382.5,299.6 383.7,297.6 384.9,297.6 C386.2,297.6 387.4,300.5 388.7,301.3 C389.9,302.1 391.4,303.8 392.4,302.5 C393.4,301.3 393.8,296.5 394.9,293.9 C395.9,291.2 397.4,288.3 398.6,286.4 C399.8,284.5 400.9,283.7 402.3,282.7 C403.8,281.7 405.2,280.4 407.3,280.2 C409.3,280.0 412.2,281.6 414.7,281.4 C417.2,281.3 419.7,279.9 422.2,279.5 C424.7,279.0 427.1,278.2 429.6,279.0 C432.1,279.7 434.6,282.9 437.1,283.9 C439.5,285.0 442.2,285.0 444.5,285.2 C446.8,285.4 449.1,284.1 450.7,285.2 C452.4,286.2 453.0,289.5 454.4,291.4 C455.9,293.2 458.2,295.1 459.4,296.3 C460.6,297.6 461.1,294.5 461.9,298.8 C462.7,303.2 463.3,318.9 464.4,322.4 C465.4,325.9 466.8,320.5 468.1,319.9 C469.3,319.3 470.8,321.0 471.8,318.7 C472.8,316.4 473.6,308.3 474.3,306.3 C475.0,304.3 475.1,308.3 476.0,306.6 C476.9,305.0 478.5,299.1 479.8,296.6 C481.0,294.1 482.3,293.7 483.5,291.6 C484.8,289.5 486.0,286.2 487.3,284.0 C488.6,281.9 489.2,279.6 491.1,278.5 C492.9,277.5 496.1,277.8 498.6,277.8 C501.1,277.8 503.6,278.1 506.1,278.5 C508.6,278.9 511.4,278.9 513.7,280.3 C516.0,281.6 518.1,285.3 519.9,286.6 C521.8,287.8 523.3,287.8 525.0,287.8 C526.6,287.8 528.3,287.0 530.0,286.6 C531.7,286.1 533.7,286.3 535.0,285.3 C536.3,284.3 536.5,281.4 537.5,280.3 C538.6,279.1 539.8,278.9 541.3,278.5 C542.7,278.1 545.0,276.8 546.3,277.8 C547.6,278.7 548.6,278.4 549.3,284.0 C550.1,289.7 550.4,301.6 550.8,311.7 C551.2,321.7 551.1,337.6 551.8,344.3 C552.5,351.0 553.9,349.3 555.1,351.8 C556.3,354.3 557.6,357.9 558.9,359.4 C560.1,360.8 561.4,360.6 562.6,360.6 C563.9,360.6 565.3,360.4 566.4,359.4 C567.4,358.3 568.1,358.1 568.9,354.3 C569.7,350.6 570.6,343.5 571.4,336.8 C572.2,330.1 573.1,319.6 573.9,314.2 C574.8,308.7 575.4,306.4 576.4,304.1 C577.5,301.8 578.9,300.6 580.2,300.4 C581.4,300.2 582.7,302.2 584.0,302.9 C585.2,303.5 586.5,303.7 587.7,304.1 C589.0,304.5 590.2,305.8 591.5,305.4 C592.7,305.0 593.8,302.9 595.3,301.6 C596.7,300.4 598.6,298.3 600.3,297.9 C602.0,297.4 603.8,298.7 605.3,299.1 C606.8,299.5 607.8,300.4 609.1,300.4 C610.3,300.4 612.0,297.4 612.8,299.1 C613.7,300.8 613.5,310.4 614.1,310.4 C614.6,310.4 615.0,301.2 616.1,299.1 C617.1,297.0 618.8,298.3 620.4,297.9 C621.9,297.4 624.1,294.7 625.4,296.6 C626.6,298.5 627.2,309.4 627.9,309.1 C628.6,308.9 628.8,297.9 629.7,295.3 C630.5,292.8 631.7,294.5 632.9,294.1 C634.1,293.7 635.4,293.2 636.7,292.8 C637.9,292.4 639.2,292.2 640.4,291.6 C641.7,290.9 643.1,289.3 644.2,289.1 C645.3,288.9 646.5,290.1 647.0,290.3" fill="none" stroke="#4cc25f" stroke-width="2.40" stroke-linejoin="round" stroke-linecap="round"/><path d="M310.5,285.2 C311.3,285.0 313.8,284.6 315.4,284.4 C317.1,284.2 319.0,283.8 320.4,283.9 C321.9,284.1 323.2,283.1 324.1,285.2 C325.0,287.2 325.2,296.3 325.9,296.3 C326.5,296.3 326.7,287.2 327.9,285.2 C329.0,283.1 330.8,284.3 332.8,283.9 C334.9,283.5 338.0,283.1 340.3,282.7 C342.5,282.3 345.0,281.2 346.5,281.4 C347.9,281.7 347.5,283.5 349.0,283.9 C350.4,284.3 353.1,284.3 355.2,283.9 C357.2,283.6 359.5,282.4 361.4,281.9 C363.2,281.4 365.1,277.3 366.3,280.9 C367.6,284.6 368.1,297.5 368.8,303.8 C369.5,310.1 369.9,317.8 370.5,318.7 C371.2,319.5 371.8,312.9 372.5,308.7 C373.3,304.6 373.8,297.0 375.0,293.9 C376.3,290.8 377.9,290.8 380.0,290.1 C382.0,289.5 385.4,289.7 387.4,290.1 C389.5,290.5 391.1,293.2 392.4,292.6 C393.6,292.0 393.6,287.9 394.9,286.4 C396.1,285.0 397.8,284.5 399.8,283.9 C401.9,283.3 404.8,283.0 407.3,282.7 C409.8,282.4 412.2,282.1 414.7,281.9 C417.2,281.7 419.7,281.5 422.2,281.4 C424.7,281.4 427.5,280.8 429.6,281.4 C431.7,282.1 432.5,284.1 434.6,285.2 C436.7,286.2 439.5,287.0 442.0,287.7 C444.5,288.3 447.4,287.9 449.5,288.9 C451.5,289.9 452.8,291.4 454.4,293.9 C456.1,296.3 458.2,300.1 459.4,303.8 C460.6,307.5 461.3,318.7 461.9,316.2 C462.5,313.7 462.3,294.3 463.1,288.9 C464.0,283.5 465.4,285.0 466.8,283.9 C468.3,282.9 470.3,282.9 471.8,282.7 C473.3,282.5 474.0,282.6 476.0,282.8 C478.0,282.9 481.0,283.5 483.5,283.5 C486.0,283.5 488.6,282.7 491.1,282.8 C493.6,282.9 496.1,283.8 498.6,284.0 C501.1,284.3 503.6,284.3 506.1,284.0 C508.6,283.8 511.4,282.6 513.7,282.8 C516.0,283.0 517.8,284.9 519.9,285.3 C522.0,285.7 524.1,285.5 526.2,285.3 C528.3,285.1 530.8,283.8 532.5,284.0 C534.2,284.3 534.8,286.8 536.3,286.6 C537.7,286.3 539.6,283.6 541.3,282.8 C543.0,282.0 545.0,282.0 546.3,281.5 C547.6,281.1 548.5,278.2 549.3,280.3 C550.1,282.4 550.8,291.4 551.3,294.1 C551.9,296.8 551.9,297.4 552.6,296.6 C553.2,295.8 554.0,291.2 555.1,289.1 C556.1,287.0 557.6,285.1 558.9,284.0 C560.1,283.0 561.2,283.1 562.6,282.8 C564.1,282.5 566.0,281.9 567.6,282.0 C569.3,282.2 571.0,283.0 572.7,283.5 C574.3,284.1 576.0,284.4 577.7,285.3 C579.4,286.2 581.2,288.6 582.7,289.1 C584.2,289.5 585.0,288.2 586.5,287.8 C587.9,287.4 589.8,287.0 591.5,286.6 C593.2,286.1 594.8,285.5 596.5,285.3 C598.2,285.1 599.7,285.1 601.5,285.3 C603.4,285.5 605.9,285.9 607.8,286.6 C609.7,287.2 611.8,287.2 612.8,289.1 C613.9,290.9 613.5,298.3 614.1,297.9 C614.7,297.4 615.6,288.6 616.6,286.6 C617.6,284.5 619.1,285.7 620.4,285.3 C621.6,284.9 623.1,284.5 624.1,284.0 C625.2,283.6 626.0,280.5 626.6,282.8 C627.3,285.1 627.4,297.9 627.9,297.9 C628.4,297.9 628.8,284.9 629.7,282.8 C630.5,280.7 631.7,285.1 632.9,285.3 C634.1,285.5 635.2,284.3 636.7,284.0 C638.1,283.8 640.4,284.3 641.7,284.0 C643.0,283.8 643.3,282.6 644.2,282.8 C645.1,283.0 646.5,284.9 647.0,285.3" fill="none" stroke="#4194cc" stroke-width="2.40" stroke-linejoin="round" stroke-linecap="round"/></g>
<line x1="364.00" y1="2.00" x2="364.00" y2="269.60" stroke="#808080" stroke-width="2.60" stroke-dasharray="16.9,4.2,2.6,4.2" stroke-dashoffset="14.7"/>
<line x1="364.00" y1="277.30" x2="364.00" y2="361.70" stroke="#808080" stroke-width="2.60" stroke-dasharray="16.9,4.2,2.6,4.2" stroke-dashoffset="4.2"/>
<line x1="473.20" y1="2.00" x2="473.20" y2="269.60" stroke="#808080" stroke-width="2.60" stroke-dasharray="16.9,4.2,2.6,4.2" stroke-dashoffset="14.7"/>
<line x1="473.20" y1="277.30" x2="473.20" y2="361.70" stroke="#808080" stroke-width="2.60" stroke-dasharray="16.9,4.2,2.6,4.2" stroke-dashoffset="4.2"/>
<line x1="568.50" y1="2.00" x2="568.50" y2="269.60" stroke="#808080" stroke-width="2.60" stroke-dasharray="16.9,4.2,2.6,4.2" stroke-dashoffset="14.7"/>
<line x1="568.50" y1="277.30" x2="568.50" y2="361.70" stroke="#808080" stroke-width="2.60" stroke-dasharray="16.9,4.2,2.6,4.2" stroke-dashoffset="4.2"/>
<rect x="310.00" y="2.00" width="336.50" height="267.60" fill="none" stroke="#0d0d0d" stroke-width="1.50"/>
<line x1="304.00" y1="224.40" x2="310.00" y2="224.40" stroke="#0d0d0d" stroke-width="1.50" />
<text x="297.50" y="230.80" font-size="18.03" text-anchor="end" font-weight="normal" font-style="normal" fill="#000" textLength="11.13" lengthAdjust="spacingAndGlyphs" >5</text>
<line x1="304.00" y1="168.00" x2="310.00" y2="168.00" stroke="#0d0d0d" stroke-width="1.50" />
<text x="297.50" y="174.40" font-size="18.03" text-anchor="end" font-weight="normal" font-style="normal" fill="#000" textLength="22.27" lengthAdjust="spacingAndGlyphs" >10</text>
<line x1="304.00" y1="111.60" x2="310.00" y2="111.60" stroke="#0d0d0d" stroke-width="1.50" />
<text x="297.50" y="118.00" font-size="18.03" text-anchor="end" font-weight="normal" font-style="normal" fill="#000" textLength="22.27" lengthAdjust="spacingAndGlyphs" >15</text>
<line x1="304.00" y1="55.20" x2="310.00" y2="55.20" stroke="#0d0d0d" stroke-width="1.50" />
<text x="297.50" y="61.60" font-size="18.03" text-anchor="end" font-weight="normal" font-style="normal" fill="#000" textLength="22.27" lengthAdjust="spacingAndGlyphs" >20</text>
<text x="264.60" y="135.80" font-size="18.03" text-anchor="middle" font-weight="normal" font-style="normal" fill="#000" textLength="108.82" lengthAdjust="spacingAndGlyphs" transform="rotate(-90 264.60 135.80)" >DOS [arb.u.]</text>
<rect x="373.50" y="9.30" width="141.80" height="92.30" rx="3" ry="3" fill="#fff" fill-opacity="0.8" stroke="#d0d0d0" stroke-width="1.2"/>
<line x1="378.90" y1="21.70" x2="410.90" y2="21.70" stroke="#000" stroke-width="2.90" />
<text x="421.20" y="27.00" font-size="15.04" text-anchor="start" font-weight="normal" font-style="normal" fill="#000" textLength="38.64" lengthAdjust="spacingAndGlyphs" >DFT (</text>
<text x="460.14" y="27.00" font-size="15.33" font-style="italic" fill="#000">p</text>
<text x="468.44" y="29.30" font-size="10.80" font-style="italic" fill="#000">z</text>
<text x="475.14" y="27.00" font-size="15.04" text-anchor="start" font-weight="normal" font-style="normal" fill="#000" textLength="5.70" lengthAdjust="spacingAndGlyphs" >)</text>
<line x1="378.90" y1="43.50" x2="410.90" y2="43.50" stroke="#ab53c0" stroke-width="2.90" />
<text x="421.20" y="48.80" font-size="15.04" text-anchor="start" font-weight="normal" font-style="normal" fill="#000" textLength="60.00" lengthAdjust="spacingAndGlyphs" >Wannier</text>
<line x1="378.90" y1="65.40" x2="410.90" y2="65.40" stroke="#4cc25f" stroke-width="2.90" />
<text x="421.20" y="70.70" font-size="15.04" text-anchor="start" font-weight="normal" font-style="normal" fill="#000" textLength="42.98" lengthAdjust="spacingAndGlyphs" >Slater</text>
<line x1="378.90" y1="87.40" x2="410.90" y2="87.40" stroke="#4194cc" stroke-width="2.90" />
<text x="421.20" y="92.70" font-size="15.04" text-anchor="start" font-weight="normal" font-style="normal" fill="#000" textLength="85.99" lengthAdjust="spacingAndGlyphs" >MLP (10NN)</text>
<rect x="310.00" y="277.30" width="336.50" height="84.40" fill="none" stroke="#0d0d0d" stroke-width="1.50"/>
<line x1="304.00" y1="277.30" x2="310.00" y2="277.30" stroke="#0d0d0d" stroke-width="1.50" />
<text x="297.50" y="283.70" font-size="18.03" text-anchor="end" font-weight="normal" font-style="normal" fill="#000" textLength="27.83" lengthAdjust="spacingAndGlyphs" >1.0</text>
<line x1="304.00" y1="340.70" x2="310.00" y2="340.70" stroke="#0d0d0d" stroke-width="1.50" />
<text x="297.50" y="347.10" font-size="18.03" text-anchor="end" font-weight="normal" font-style="normal" fill="#000" textLength="27.83" lengthAdjust="spacingAndGlyphs" >0.8</text>
<line x1="327.20" y1="361.70" x2="327.20" y2="367.70" stroke="#0d0d0d" stroke-width="1.50" />
<text x="327.20" y="387.60" font-size="18.03" text-anchor="middle" font-weight="normal" font-style="normal" fill="#000" textLength="42.49" lengthAdjust="spacingAndGlyphs" >−1.0</text>
<line x1="395.00" y1="361.70" x2="395.00" y2="367.70" stroke="#0d0d0d" stroke-width="1.50" />
<text x="395.00" y="387.60" font-size="18.03" text-anchor="middle" font-weight="normal" font-style="normal" fill="#000" textLength="42.49" lengthAdjust="spacingAndGlyphs" >−0.5</text>
<line x1="462.80" y1="361.70" x2="462.80" y2="367.70" stroke="#0d0d0d" stroke-width="1.50" />
<text x="462.80" y="387.60" font-size="18.03" text-anchor="middle" font-weight="normal" font-style="normal" fill="#000" textLength="27.83" lengthAdjust="spacingAndGlyphs" >0.0</text>
<line x1="530.60" y1="361.70" x2="530.60" y2="367.70" stroke="#0d0d0d" stroke-width="1.50" />
<text x="530.60" y="387.60" font-size="18.03" text-anchor="middle" font-weight="normal" font-style="normal" fill="#000" textLength="27.83" lengthAdjust="spacingAndGlyphs" >0.5</text>
<line x1="598.40" y1="361.70" x2="598.40" y2="367.70" stroke="#0d0d0d" stroke-width="1.50" />
<text x="598.40" y="387.60" font-size="18.03" text-anchor="middle" font-weight="normal" font-style="normal" fill="#000" textLength="27.83" lengthAdjust="spacingAndGlyphs" >1.0</text>
<text x="478.20" y="409.30" font-size="18.03" text-anchor="middle" font-weight="normal" font-style="normal" fill="#000" textLength="102.93" lengthAdjust="spacingAndGlyphs" >energy [eV]</text>
<text x="258.50" y="339.00" font-size="18.03" text-anchor="middle" font-weight="normal" font-style="normal" fill="#000" textLength="106.28" lengthAdjust="spacingAndGlyphs" transform="rotate(-90 258.50 339.00)" >similarity [-]</text>
<text x="0" y="0" font-size="32" font-weight="bold" fill="#000" transform="translate(8.8,24.1) scale(0.93,1)">a</text>
<text x="244.90" y="23.80" font-size="32" font-weight="bold" fill="#000">b</text>
<text x="245.00" y="274.30" font-size="32" font-weight="bold" fill="#000">c</text>
<text x="244.70" y="444.30" font-size="32" font-weight="bold" fill="#000">d</text>
<rect x="276.30" y="424.00" width="354.70" height="110.60" fill="#121212"/>
<rect x="276.10" y="539.20" width="354.90" height="111.40" fill="#ab53c1"/>
<rect x="276.10" y="655.10" width="354.90" height="110.50" fill="#4a9ed3"/>
<rect x="280.35" y="430.15" width="112.30" height="100.30" fill="#fff" stroke="#111" stroke-width="1.3"/>
<svg x="281.00" y="430.80" width="111.00" height="99.00" overflow="hidden">
<circle cx="14.00" cy="4.50" r="4.65" fill="#6d7fcb"/>
<circle cx="32.30" cy="4.50" r="4.65" fill="#8fa3dc"/>
<circle cx="50.60" cy="4.50" r="4.65" fill="#b0c2e6"/>
<circle cx="68.90" cy="4.50" r="4.65" fill="#8fa3dc"/>
<circle cx="87.20" cy="4.50" r="4.65" fill="#6d7fcb"/>
<circle cx="105.50" cy="4.50" r="4.65" fill="#6d7fcb"/>
<circle cx="14.00" cy="14.50" r="4.65" fill="#8fa3dc"/>
<circle cx="32.30" cy="14.50" r="4.65" fill="#6d7fcb"/>
<circle cx="50.60" cy="14.50" r="4.65" fill="#bf232b"/>
<circle cx="68.90" cy="14.50" r="4.65" fill="#6d7fcb"/>
<circle cx="87.20" cy="14.50" r="4.65" fill="#8fa3dc"/>
<circle cx="105.50" cy="14.50" r="4.65" fill="#b0c2e6"/>
<circle cx="4.80" cy="20.00" r="4.65" fill="#6d7fcb"/>
<circle cx="23.10" cy="20.00" r="4.65" fill="#5661b6"/>
<circle cx="41.40" cy="20.00" r="4.65" fill="#6d7fcb"/>
<circle cx="59.70" cy="20.00" r="4.65" fill="#6d7fcb"/>
<circle cx="78.00" cy="20.00" r="4.65" fill="#5661b6"/>
<circle cx="96.30" cy="20.00" r="4.65" fill="#6d7fcb"/>
<circle cx="4.80" cy="30.00" r="4.65" fill="#6d7fcb"/>
<circle cx="23.10" cy="30.00" r="4.65" fill="#b0c2e6"/>
<circle cx="43.60" cy="30.00" r="4.65" fill="#f29072"/>
<circle cx="57.60" cy="30.00" r="4.65" fill="#f29072"/>
<circle cx="78.00" cy="30.00" r="4.65" fill="#b0c2e6"/>
<circle cx="96.30" cy="30.00" r="4.65" fill="#6d7fcb"/>
<circle cx="14.00" cy="35.80" r="4.65" fill="#8fa3dc"/>
<circle cx="34.10" cy="35.80" r="4.65" fill="#6d7fcb"/>
<circle cx="67.40" cy="35.80" r="4.65" fill="#6d7fcb"/>
<circle cx="87.20" cy="35.80" r="4.65" fill="#8fa3dc"/>
<circle cx="105.50" cy="35.80" r="4.65" fill="#8fa3dc"/>
<circle cx="14.00" cy="46.60" r="4.65" fill="#8fa3dc"/>
<circle cx="34.10" cy="46.60" r="4.65" fill="#6d7fcb"/>
<circle cx="67.40" cy="46.60" r="4.65" fill="#6d7fcb"/>
<circle cx="87.20" cy="46.60" r="4.65" fill="#8fa3dc"/>
<circle cx="105.50" cy="46.60" r="4.65" fill="#8fa3dc"/>
<circle cx="4.80" cy="52.50" r="4.65" fill="#6d7fcb"/>
<circle cx="23.10" cy="52.50" r="4.65" fill="#b0c2e6"/>
<circle cx="43.60" cy="52.50" r="4.65" fill="#f29072"/>
<circle cx="57.60" cy="52.50" r="4.65" fill="#f29072"/>
<circle cx="78.00" cy="52.50" r="4.65" fill="#b0c2e6"/>
<circle cx="96.30" cy="52.50" r="4.65" fill="#6d7fcb"/>
<circle cx="4.80" cy="62.40" r="4.65" fill="#6d7fcb"/>
<circle cx="23.10" cy="62.40" r="4.65" fill="#5661b6"/>
<circle cx="41.40" cy="62.40" r="4.65" fill="#6d7fcb"/>
<circle cx="59.70" cy="62.40" r="4.65" fill="#6d7fcb"/>
<circle cx="78.00" cy="62.40" r="4.65" fill="#5661b6"/>
<circle cx="96.30" cy="62.40" r="4.65" fill="#6d7fcb"/>
<circle cx="14.00" cy="68.20" r="4.65" fill="#8fa3dc"/>
<circle cx="32.30" cy="68.20" r="4.65" fill="#6d7fcb"/>
<circle cx="50.60" cy="68.20" r="4.65" fill="#bf232b"/>
<circle cx="68.90" cy="68.20" r="4.65" fill="#6d7fcb"/>
<circle cx="87.20" cy="68.20" r="4.65" fill="#8fa3dc"/>
<circle cx="105.50" cy="68.20" r="4.65" fill="#b0c2e6"/>
<circle cx="14.00" cy="78.20" r="4.65" fill="#6d7fcb"/>
<circle cx="32.30" cy="78.20" r="4.65" fill="#6d7fcb"/>
<circle cx="50.60" cy="78.20" r="4.65" fill="#b0c2e6"/>
<circle cx="68.90" cy="78.20" r="4.65" fill="#6d7fcb"/>
<circle cx="87.20" cy="78.20" r="4.65" fill="#6d7fcb"/>
<circle cx="105.50" cy="78.20" r="4.65" fill="#6d7fcb"/>
<circle cx="4.80" cy="84.10" r="4.65" fill="#6d7fcb"/>
<circle cx="23.10" cy="84.10" r="4.65" fill="#8fa3dc"/>
<circle cx="41.40" cy="84.10" r="4.65" fill="#8fa3dc"/>
<circle cx="59.70" cy="84.10" r="4.65" fill="#8fa3dc"/>
<circle cx="78.00" cy="84.10" r="4.65" fill="#8fa3dc"/>
<circle cx="96.30" cy="84.10" r="4.65" fill="#6d7fcb"/>
<circle cx="4.80" cy="94.10" r="4.65" fill="#6d7fcb"/>
<circle cx="23.10" cy="94.10" r="4.65" fill="#8fa3dc"/>
<circle cx="41.40" cy="94.10" r="4.65" fill="#8fa3dc"/>
<circle cx="59.70" cy="94.10" r="4.65" fill="#8fa3dc"/>
<circle cx="78.00" cy="94.10" r="4.65" fill="#8fa3dc"/>
<circle cx="96.30" cy="94.10" r="4.65" fill="#6d7fcb"/>
</svg>
<rect x="398.15" y="430.15" width="112.30" height="100.30" fill="#fff" stroke="#111" stroke-width="1.3"/>
<svg x="398.80" y="430.80" width="111.00" height="99.00" overflow="hidden">
<circle cx="14.00" cy="4.50" r="4.65" fill="#8fa3dc"/>
<circle cx="32.30" cy="4.50" r="4.65" fill="#6d7fcb"/>
<circle cx="50.60" cy="4.50" r="4.65" fill="#6d7fcb"/>
<circle cx="68.90" cy="4.50" r="4.65" fill="#6d7fcb"/>
<circle cx="87.20" cy="4.50" r="4.65" fill="#8fa3dc"/>
<circle cx="105.50" cy="4.50" r="4.65" fill="#5661b6"/>
<circle cx="14.00" cy="14.50" r="4.65" fill="#8fa3dc"/>
<circle cx="32.30" cy="14.50" r="4.65" fill="#6d7fcb"/>
<circle cx="50.60" cy="14.50" r="4.65" fill="#efcfbf"/>
<circle cx="68.90" cy="14.50" r="4.65" fill="#6d7fcb"/>
<circle cx="87.20" cy="14.50" r="4.65" fill="#8fa3dc"/>
<circle cx="105.50" cy="14.50" r="4.65" fill="#5661b6"/>
<circle cx="4.80" cy="20.00" r="4.65" fill="#b0c2e6"/>
<circle cx="23.10" cy="20.00" r="4.65" fill="#5661b6"/>
<circle cx="41.40" cy="20.00" r="4.65" fill="#6d7fcb"/>
<circle cx="59.70" cy="20.00" r="4.65" fill="#6d7fcb"/>
<circle cx="78.00" cy="20.00" r="4.65" fill="#5661b6"/>
<circle cx="96.30" cy="20.00" r="4.65" fill="#b0c2e6"/>
<circle cx="4.80" cy="30.00" r="4.65" fill="#8fa3dc"/>
<circle cx="23.10" cy="30.00" r="4.65" fill="#6d7fcb"/>
<circle cx="43.60" cy="30.00" r="4.65" fill="#bf232b"/>
<circle cx="57.60" cy="30.00" r="4.65" fill="#bf232b"/>
<circle cx="78.00" cy="30.00" r="4.65" fill="#6d7fcb"/>
<circle cx="96.30" cy="30.00" r="4.65" fill="#8fa3dc"/>
<circle cx="14.00" cy="35.80" r="4.65" fill="#b0c2e6"/>
<circle cx="34.10" cy="35.80" r="4.65" fill="#d6dbe1"/>
<circle cx="67.40" cy="35.80" r="4.65" fill="#d6dbe1"/>
<circle cx="87.20" cy="35.80" r="4.65" fill="#b0c2e6"/>
<circle cx="105.50" cy="35.80" r="4.65" fill="#5661b6"/>
<circle cx="14.00" cy="46.60" r="4.65" fill="#b0c2e6"/>
<circle cx="34.10" cy="46.60" r="4.65" fill="#d6dbe1"/>
<circle cx="67.40" cy="46.60" r="4.65" fill="#d6dbe1"/>
<circle cx="87.20" cy="46.60" r="4.65" fill="#b0c2e6"/>
<circle cx="105.50" cy="46.60" r="4.65" fill="#5661b6"/>
<circle cx="4.80" cy="52.50" r="4.65" fill="#8fa3dc"/>
<circle cx="23.10" cy="52.50" r="4.65" fill="#6d7fcb"/>
<circle cx="43.60" cy="52.50" r="4.65" fill="#bf232b"/>
<circle cx="57.60" cy="52.50" r="4.65" fill="#bf232b"/>
<circle cx="78.00" cy="52.50" r="4.65" fill="#6d7fcb"/>
<circle cx="96.30" cy="52.50" r="4.65" fill="#8fa3dc"/>
<circle cx="4.80" cy="62.40" r="4.65" fill="#b0c2e6"/>
<circle cx="23.10" cy="62.40" r="4.65" fill="#5661b6"/>
<circle cx="41.40" cy="62.40" r="4.65" fill="#6d7fcb"/>
<circle cx="59.70" cy="62.40" r="4.65" fill="#6d7fcb"/>
<circle cx="78.00" cy="62.40" r="4.65" fill="#5661b6"/>
<circle cx="96.30" cy="62.40" r="4.65" fill="#b0c2e6"/>
<circle cx="14.00" cy="68.20" r="4.65" fill="#8fa3dc"/>
<circle cx="32.30" cy="68.20" r="4.65" fill="#6d7fcb"/>
<circle cx="50.60" cy="68.20" r="4.65" fill="#efcfbf"/>
<circle cx="68.90" cy="68.20" r="4.65" fill="#6d7fcb"/>
<circle cx="87.20" cy="68.20" r="4.65" fill="#8fa3dc"/>
<circle cx="105.50" cy="68.20" r="4.65" fill="#5661b6"/>
<circle cx="14.00" cy="78.20" r="4.65" fill="#8fa3dc"/>
<circle cx="32.30" cy="78.20" r="4.65" fill="#6d7fcb"/>
<circle cx="50.60" cy="78.20" r="4.65" fill="#6d7fcb"/>
<circle cx="68.90" cy="78.20" r="4.65" fill="#6d7fcb"/>
<circle cx="87.20" cy="78.20" r="4.65" fill="#8fa3dc"/>
<circle cx="105.50" cy="78.20" r="4.65" fill="#5661b6"/>
<circle cx="4.80" cy="84.10" r="4.65" fill="#6d7fcb"/>
<circle cx="23.10" cy="84.10" r="4.65" fill="#5661b6"/>
<circle cx="41.40" cy="84.10" r="4.65" fill="#b0c2e6"/>
<circle cx="59.70" cy="84.10" r="4.65" fill="#b0c2e6"/>
<circle cx="78.00" cy="84.10" r="4.65" fill="#5661b6"/>
<circle cx="96.30" cy="84.10" r="4.65" fill="#6d7fcb"/>
<circle cx="4.80" cy="94.10" r="4.65" fill="#6d7fcb"/>
<circle cx="23.10" cy="94.10" r="4.65" fill="#5661b6"/>
<circle cx="41.40" cy="94.10" r="4.65" fill="#b0c2e6"/>
<circle cx="59.70" cy="94.10" r="4.65" fill="#b0c2e6"/>
<circle cx="78.00" cy="94.10" r="4.65" fill="#5661b6"/>
<circle cx="96.30" cy="94.10" r="4.65" fill="#6d7fcb"/>
</svg>
<rect x="515.95" y="430.15" width="111.90" height="100.30" fill="#fff" stroke="#111" stroke-width="1.3"/>
<svg x="516.60" y="430.80" width="110.60" height="99.00" overflow="hidden">
<circle cx="14.00" cy="4.50" r="4.65" fill="#b0c2e6"/>
<circle cx="32.30" cy="4.50" r="4.65" fill="#efcfbf"/>
<circle cx="50.60" cy="4.50" r="4.65" fill="#6d7fcb"/>
<circle cx="68.90" cy="4.50" r="4.65" fill="#efcfbf"/>
<circle cx="87.20" cy="4.50" r="4.65" fill="#b0c2e6"/>
<circle cx="105.50" cy="4.50" r="4.65" fill="#f29072"/>
<circle cx="14.00" cy="14.50" r="4.65" fill="#d6dbe1"/>
<circle cx="32.30" cy="14.50" r="4.65" fill="#f5c0a7"/>
<circle cx="50.60" cy="14.50" r="4.65" fill="#d6dbe1"/>
<circle cx="68.90" cy="14.50" r="4.65" fill="#f5c0a7"/>
<circle cx="87.20" cy="14.50" r="4.65" fill="#d6dbe1"/>
<circle cx="105.50" cy="14.50" r="4.65" fill="#df634e"/>
<circle cx="4.80" cy="20.00" r="4.65" fill="#e4d9d2"/>
<circle cx="23.10" cy="20.00" r="4.65" fill="#e4d9d2"/>
<circle cx="41.40" cy="20.00" r="4.65" fill="#b0c2e6"/>
<circle cx="59.70" cy="20.00" r="4.65" fill="#b0c2e6"/>
<circle cx="78.00" cy="20.00" r="4.65" fill="#e4d9d2"/>
<circle cx="96.30" cy="20.00" r="4.65" fill="#d6dbe1"/>
<circle cx="4.80" cy="30.00" r="4.65" fill="#f29072"/>
<circle cx="23.10" cy="30.00" r="4.65" fill="#d6dbe1"/>
<circle cx="43.60" cy="30.00" r="4.65" fill="#bf232b"/>
<circle cx="57.60" cy="30.00" r="4.65" fill="#bf232b"/>
<circle cx="78.00" cy="30.00" r="4.65" fill="#d6dbe1"/>
<circle cx="96.30" cy="30.00" r="4.65" fill="#f29072"/>
<circle cx="14.00" cy="35.80" r="4.65" fill="#b0c2e6"/>
<circle cx="34.10" cy="35.80" r="4.65" fill="#bf232b"/>
<circle cx="67.40" cy="35.80" r="4.65" fill="#bf232b"/>
<circle cx="87.20" cy="35.80" r="4.65" fill="#b0c2e6"/>
<circle cx="105.50" cy="35.80" r="4.65" fill="#f29072"/>
<circle cx="14.00" cy="46.60" r="4.65" fill="#b0c2e6"/>
<circle cx="34.10" cy="46.60" r="4.65" fill="#bf232b"/>
<circle cx="67.40" cy="46.60" r="4.65" fill="#bf232b"/>
<circle cx="87.20" cy="46.60" r="4.65" fill="#b0c2e6"/>
<circle cx="105.50" cy="46.60" r="4.65" fill="#f29072"/>
<circle cx="4.80" cy="52.50" r="4.65" fill="#f29072"/>
<circle cx="23.10" cy="52.50" r="4.65" fill="#d6dbe1"/>
<circle cx="43.60" cy="52.50" r="4.65" fill="#bf232b"/>
<circle cx="57.60" cy="52.50" r="4.65" fill="#bf232b"/>
<circle cx="78.00" cy="52.50" r="4.65" fill="#d6dbe1"/>
<circle cx="96.30" cy="52.50" r="4.65" fill="#f29072"/>
<circle cx="4.80" cy="62.40" r="4.65" fill="#e4d9d2"/>
<circle cx="23.10" cy="62.40" r="4.65" fill="#e4d9d2"/>
<circle cx="41.40" cy="62.40" r="4.65" fill="#b0c2e6"/>
<circle cx="59.70" cy="62.40" r="4.65" fill="#b0c2e6"/>
<circle cx="78.00" cy="62.40" r="4.65" fill="#e4d9d2"/>
<circle cx="96.30" cy="62.40" r="4.65" fill="#d6dbe1"/>
<circle cx="14.00" cy="68.20" r="4.65" fill="#d6dbe1"/>
<circle cx="32.30" cy="68.20" r="4.65" fill="#f7b396"/>
<circle cx="50.60" cy="68.20" r="4.65" fill="#d6dbe1"/>
<circle cx="68.90" cy="68.20" r="4.65" fill="#f7b396"/>
<circle cx="87.20" cy="68.20" r="4.65" fill="#d6dbe1"/>
<circle cx="105.50" cy="68.20" r="4.65" fill="#df634e"/>
<circle cx="14.00" cy="78.20" r="4.65" fill="#b0c2e6"/>
<circle cx="32.30" cy="78.20" r="4.65" fill="#efcfbf"/>
<circle cx="50.60" cy="78.20" r="4.65" fill="#6d7fcb"/>
<circle cx="68.90" cy="78.20" r="4.65" fill="#efcfbf"/>
<circle cx="87.20" cy="78.20" r="4.65" fill="#b0c2e6"/>
<circle cx="105.50" cy="78.20" r="4.65" fill="#f29072"/>
<circle cx="4.80" cy="84.10" r="4.65" fill="#f7b396"/>
<circle cx="23.10" cy="84.10" r="4.65" fill="#d6dbe1"/>
<circle cx="41.40" cy="84.10" r="4.65" fill="#d6dbe1"/>
<circle cx="59.70" cy="84.10" r="4.65" fill="#d6dbe1"/>
<circle cx="78.00" cy="84.10" r="4.65" fill="#d6dbe1"/>
<circle cx="96.30" cy="84.10" r="4.65" fill="#f5c0a7"/>
<circle cx="4.80" cy="94.10" r="4.65" fill="#f5c0a7"/>
<circle cx="23.10" cy="94.10" r="4.65" fill="#d6dbe1"/>
<circle cx="41.40" cy="94.10" r="4.65" fill="#d6dbe1"/>
<circle cx="59.70" cy="94.10" r="4.65" fill="#d6dbe1"/>
<circle cx="78.00" cy="94.10" r="4.65" fill="#d6dbe1"/>
<circle cx="96.30" cy="94.10" r="4.65" fill="#f5c0a7"/>
</svg>
<rect x="280.35" y="545.15" width="112.30" height="100.30" fill="#fff" stroke="#111" stroke-width="1.3"/>
<svg x="281.00" y="545.80" width="111.00" height="99.00" overflow="hidden">
<circle cx="14.00" cy="4.50" r="4.65" fill="#6d7fcb"/>
<circle cx="32.30" cy="4.50" r="4.65" fill="#8fa3dc"/>
<circle cx="50.60" cy="4.50" r="4.65" fill="#b0c2e6"/>
<circle cx="68.90" cy="4.50" r="4.65" fill="#8fa3dc"/>
<circle cx="87.20" cy="4.50" r="4.65" fill="#6d7fcb"/>
<circle cx="105.50" cy="4.50" r="4.65" fill="#8fa3dc"/>
<circle cx="14.00" cy="14.50" r="4.65" fill="#8fa3dc"/>
<circle cx="32.30" cy="14.50" r="4.65" fill="#8fa3dc"/>
<circle cx="50.60" cy="14.50" r="4.65" fill="#bf232b"/>
<circle cx="68.90" cy="14.50" r="4.65" fill="#8fa3dc"/>
<circle cx="87.20" cy="14.50" r="4.65" fill="#b0c2e6"/>
<circle cx="105.50" cy="14.50" r="4.65" fill="#d6dbe1"/>
<circle cx="4.80" cy="20.00" r="4.65" fill="#6d7fcb"/>
<circle cx="23.10" cy="20.00" r="4.65" fill="#5661b6"/>
<circle cx="41.40" cy="20.00" r="4.65" fill="#8fa3dc"/>
<circle cx="59.70" cy="20.00" r="4.65" fill="#8fa3dc"/>
<circle cx="78.00" cy="20.00" r="4.65" fill="#5661b6"/>
<circle cx="96.30" cy="20.00" r="4.65" fill="#6d7fcb"/>
<circle cx="4.80" cy="30.00" r="4.65" fill="#8fa3dc"/>
<circle cx="23.10" cy="30.00" r="4.65" fill="#e4d9d2"/>
<circle cx="43.60" cy="30.00" r="4.65" fill="#df634e"/>
<circle cx="57.60" cy="30.00" r="4.65" fill="#df634e"/>
<circle cx="78.00" cy="30.00" r="4.65" fill="#e4d9d2"/>
<circle cx="96.30" cy="30.00" r="4.65" fill="#8fa3dc"/>
<circle cx="14.00" cy="35.80" r="4.65" fill="#b0c2e6"/>
<circle cx="34.10" cy="35.80" r="4.65" fill="#b0c2e6"/>
<circle cx="67.40" cy="35.80" r="4.65" fill="#b0c2e6"/>
<circle cx="87.20" cy="35.80" r="4.65" fill="#b0c2e6"/>
<circle cx="105.50" cy="35.80" r="4.65" fill="#b0c2e6"/>
<circle cx="14.00" cy="46.60" r="4.65" fill="#b0c2e6"/>
<circle cx="34.10" cy="46.60" r="4.65" fill="#b0c2e6"/>
<circle cx="67.40" cy="46.60" r="4.65" fill="#b0c2e6"/>
<circle cx="87.20" cy="46.60" r="4.65" fill="#b0c2e6"/>
<circle cx="105.50" cy="46.60" r="4.65" fill="#b0c2e6"/>
<circle cx="4.80" cy="52.50" r="4.65" fill="#8fa3dc"/>
<circle cx="23.10" cy="52.50" r="4.65" fill="#e4d9d2"/>
<circle cx="43.60" cy="52.50" r="4.65" fill="#df634e"/>
<circle cx="57.60" cy="52.50" r="4.65" fill="#df634e"/>
<circle cx="78.00" cy="52.50" r="4.65" fill="#e4d9d2"/>
<circle cx="96.30" cy="52.50" r="4.65" fill="#8fa3dc"/>
<circle cx="4.80" cy="62.40" r="4.65" fill="#6d7fcb"/>
<circle cx="23.10" cy="62.40" r="4.65" fill="#5661b6"/>
<circle cx="41.40" cy="62.40" r="4.65" fill="#8fa3dc"/>
<circle cx="59.70" cy="62.40" r="4.65" fill="#8fa3dc"/>
<circle cx="78.00" cy="62.40" r="4.65" fill="#5661b6"/>
<circle cx="96.30" cy="62.40" r="4.65" fill="#6d7fcb"/>
<circle cx="14.00" cy="68.20" r="4.65" fill="#8fa3dc"/>
<circle cx="32.30" cy="68.20" r="4.65" fill="#8fa3dc"/>
<circle cx="50.60" cy="68.20" r="4.65" fill="#bf232b"/>
<circle cx="68.90" cy="68.20" r="4.65" fill="#8fa3dc"/>
<circle cx="87.20" cy="68.20" r="4.65" fill="#b0c2e6"/>
<circle cx="105.50" cy="68.20" r="4.65" fill="#d6dbe1"/>
<circle cx="14.00" cy="78.20" r="4.65" fill="#6d7fcb"/>
<circle cx="32.30" cy="78.20" r="4.65" fill="#8fa3dc"/>
<circle cx="50.60" cy="78.20" r="4.65" fill="#b0c2e6"/>
<circle cx="68.90" cy="78.20" r="4.65" fill="#8fa3dc"/>
<circle cx="87.20" cy="78.20" r="4.65" fill="#6d7fcb"/>
<circle cx="105.50" cy="78.20" r="4.65" fill="#8fa3dc"/>
<circle cx="4.80" cy="84.10" r="4.65" fill="#8fa3dc"/>
<circle cx="23.10" cy="84.10" r="4.65" fill="#b0c2e6"/>
<circle cx="41.40" cy="84.10" r="4.65" fill="#b0c2e6"/>
<circle cx="59.70" cy="84.10" r="4.65" fill="#b0c2e6"/>
<circle cx="78.00" cy="84.10" r="4.65" fill="#b0c2e6"/>
<circle cx="96.30" cy="84.10" r="4.65" fill="#8fa3dc"/>
<circle cx="4.80" cy="94.10" r="4.65" fill="#8fa3dc"/>
<circle cx="23.10" cy="94.10" r="4.65" fill="#b0c2e6"/>
<circle cx="41.40" cy="94.10" r="4.65" fill="#b0c2e6"/>
<circle cx="59.70" cy="94.10" r="4.65" fill="#b0c2e6"/>
<circle cx="78.00" cy="94.10" r="4.65" fill="#b0c2e6"/>
<circle cx="96.30" cy="94.10" r="4.65" fill="#8fa3dc"/>
</svg>
<rect x="398.15" y="545.15" width="112.30" height="100.30" fill="#fff" stroke="#111" stroke-width="1.3"/>
<svg x="398.80" y="545.80" width="111.00" height="99.00" overflow="hidden">
<circle cx="14.00" cy="4.50" r="4.65" fill="#8fa3dc"/>
<circle cx="32.30" cy="4.50" r="4.65" fill="#6d7fcb"/>
<circle cx="50.60" cy="4.50" r="4.65" fill="#6d7fcb"/>
<circle cx="68.90" cy="4.50" r="4.65" fill="#6d7fcb"/>
<circle cx="87.20" cy="4.50" r="4.65" fill="#8fa3dc"/>
<circle cx="105.50" cy="4.50" r="4.65" fill="#5661b6"/>
<circle cx="14.00" cy="14.50" r="4.65" fill="#8fa3dc"/>
<circle cx="32.30" cy="14.50" r="4.65" fill="#6d7fcb"/>
<circle cx="50.60" cy="14.50" r="4.65" fill="#d6dbe1"/>
<circle cx="68.90" cy="14.50" r="4.65" fill="#6d7fcb"/>
<circle cx="87.20" cy="14.50" r="4.65" fill="#8fa3dc"/>
<circle cx="105.50" cy="14.50" r="4.65" fill="#5661b6"/>
<circle cx="4.80" cy="20.00" r="4.65" fill="#b0c2e6"/>
<circle cx="23.10" cy="20.00" r="4.65" fill="#5661b6"/>
<circle cx="41.40" cy="20.00" r="4.65" fill="#6d7fcb"/>
<circle cx="59.70" cy="20.00" r="4.65" fill="#6d7fcb"/>
<circle cx="78.00" cy="20.00" r="4.65" fill="#5661b6"/>
<circle cx="96.30" cy="20.00" r="4.65" fill="#b0c2e6"/>
<circle cx="4.80" cy="30.00" r="4.65" fill="#8fa3dc"/>
<circle cx="23.10" cy="30.00" r="4.65" fill="#5661b6"/>
<circle cx="43.60" cy="30.00" r="4.65" fill="#bf232b"/>
<circle cx="57.60" cy="30.00" r="4.65" fill="#bf232b"/>
<circle cx="78.00" cy="30.00" r="4.65" fill="#5661b6"/>
<circle cx="96.30" cy="30.00" r="4.65" fill="#8fa3dc"/>
<circle cx="14.00" cy="35.80" r="4.65" fill="#b0c2e6"/>
<circle cx="34.10" cy="35.80" r="4.65" fill="#efcfbf"/>
<circle cx="67.40" cy="35.80" r="4.65" fill="#efcfbf"/>
<circle cx="87.20" cy="35.80" r="4.65" fill="#b0c2e6"/>
<circle cx="105.50" cy="35.80" r="4.65" fill="#5661b6"/>
<circle cx="14.00" cy="46.60" r="4.65" fill="#b0c2e6"/>
<circle cx="34.10" cy="46.60" r="4.65" fill="#efcfbf"/>
<circle cx="67.40" cy="46.60" r="4.65" fill="#efcfbf"/>
<circle cx="87.20" cy="46.60" r="4.65" fill="#b0c2e6"/>
<circle cx="105.50" cy="46.60" r="4.65" fill="#5661b6"/>
<circle cx="4.80" cy="52.50" r="4.65" fill="#8fa3dc"/>
<circle cx="23.10" cy="52.50" r="4.65" fill="#5661b6"/>
<circle cx="43.60" cy="52.50" r="4.65" fill="#bf232b"/>
<circle cx="57.60" cy="52.50" r="4.65" fill="#bf232b"/>
<circle cx="78.00" cy="52.50" r="4.65" fill="#5661b6"/>
<circle cx="96.30" cy="52.50" r="4.65" fill="#8fa3dc"/>
<circle cx="4.80" cy="62.40" r="4.65" fill="#b0c2e6"/>
<circle cx="23.10" cy="62.40" r="4.65" fill="#5661b6"/>
<circle cx="41.40" cy="62.40" r="4.65" fill="#6d7fcb"/>
<circle cx="59.70" cy="62.40" r="4.65" fill="#6d7fcb"/>
<circle cx="78.00" cy="62.40" r="4.65" fill="#5661b6"/>
<circle cx="96.30" cy="62.40" r="4.65" fill="#b0c2e6"/>
<circle cx="14.00" cy="68.20" r="4.65" fill="#8fa3dc"/>
<circle cx="32.30" cy="68.20" r="4.65" fill="#6d7fcb"/>
<circle cx="50.60" cy="68.20" r="4.65" fill="#d6dbe1"/>
<circle cx="68.90" cy="68.20" r="4.65" fill="#6d7fcb"/>
<circle cx="87.20" cy="68.20" r="4.65" fill="#8fa3dc"/>
<circle cx="105.50" cy="68.20" r="4.65" fill="#5661b6"/>
<circle cx="14.00" cy="78.20" r="4.65" fill="#8fa3dc"/>
<circle cx="32.30" cy="78.20" r="4.65" fill="#6d7fcb"/>
<circle cx="50.60" cy="78.20" r="4.65" fill="#6d7fcb"/>
<circle cx="68.90" cy="78.20" r="4.65" fill="#6d7fcb"/>
<circle cx="87.20" cy="78.20" r="4.65" fill="#8fa3dc"/>
<circle cx="105.50" cy="78.20" r="4.65" fill="#5661b6"/>
<circle cx="4.80" cy="84.10" r="4.65" fill="#6d7fcb"/>
<circle cx="23.10" cy="84.10" r="4.65" fill="#5661b6"/>
<circle cx="41.40" cy="84.10" r="4.65" fill="#8fa3dc"/>
<circle cx="59.70" cy="84.10" r="4.65" fill="#8fa3dc"/>
<circle cx="78.00" cy="84.10" r="4.65" fill="#5661b6"/>
<circle cx="96.30" cy="84.10" r="4.65" fill="#6d7fcb"/>
<circle cx="4.80" cy="94.10" r="4.65" fill="#6d7fcb"/>
<circle cx="23.10" cy="94.10" r="4.65" fill="#5661b6"/>
<circle cx="41.40" cy="94.10" r="4.65" fill="#8fa3dc"/>
<circle cx="59.70" cy="94.10" r="4.65" fill="#8fa3dc"/>
<circle cx="78.00" cy="94.10" r="4.65" fill="#5661b6"/>
<circle cx="96.30" cy="94.10" r="4.65" fill="#6d7fcb"/>
</svg>
<rect x="515.95" y="545.15" width="111.90" height="100.30" fill="#fff" stroke="#111" stroke-width="1.3"/>
<svg x="516.60" y="545.80" width="110.60" height="99.00" overflow="hidden">
<circle cx="14.00" cy="4.50" r="4.65" fill="#b0c2e6"/>
<circle cx="32.30" cy="4.50" r="4.65" fill="#d6dbe1"/>
<circle cx="50.60" cy="4.50" r="4.65" fill="#6d7fcb"/>
<circle cx="68.90" cy="4.50" r="4.65" fill="#d6dbe1"/>
<circle cx="87.20" cy="4.50" r="4.65" fill="#b0c2e6"/>
<circle cx="105.50" cy="4.50" r="4.65" fill="#e4d9d2"/>
<circle cx="14.00" cy="14.50" r="4.65" fill="#b0c2e6"/>
<circle cx="32.30" cy="14.50" r="4.65" fill="#e4d9d2"/>
<circle cx="50.60" cy="14.50" r="4.65" fill="#d6dbe1"/>
<circle cx="68.90" cy="14.50" r="4.65" fill="#e4d9d2"/>
<circle cx="87.20" cy="14.50" r="4.65" fill="#b0c2e6"/>
<circle cx="105.50" cy="14.50" r="4.65" fill="#e4d9d2"/>
<circle cx="4.80" cy="20.00" r="4.65" fill="#b0c2e6"/>
<circle cx="23.10" cy="20.00" r="4.65" fill="#e4d9d2"/>
<circle cx="41.40" cy="20.00" r="4.65" fill="#8fa3dc"/>
<circle cx="59.70" cy="20.00" r="4.65" fill="#8fa3dc"/>
<circle cx="78.00" cy="20.00" r="4.65" fill="#e4d9d2"/>
<circle cx="96.30" cy="20.00" r="4.65" fill="#b0c2e6"/>
<circle cx="4.80" cy="30.00" r="4.65" fill="#d6dbe1"/>
<circle cx="23.10" cy="30.00" r="4.65" fill="#b0c2e6"/>
<circle cx="43.60" cy="30.00" r="4.65" fill="#bf232b"/>
<circle cx="57.60" cy="30.00" r="4.65" fill="#bf232b"/>
<circle cx="78.00" cy="30.00" r="4.65" fill="#b0c2e6"/>
<circle cx="96.30" cy="30.00" r="4.65" fill="#d6dbe1"/>
<circle cx="14.00" cy="35.80" r="4.65" fill="#8fa3dc"/>
<circle cx="34.10" cy="35.80" r="4.65" fill="#df634e"/>
<circle cx="67.40" cy="35.80" r="4.65" fill="#df634e"/>
<circle cx="87.20" cy="35.80" r="4.65" fill="#8fa3dc"/>
<circle cx="105.50" cy="35.80" r="4.65" fill="#d6dbe1"/>
<circle cx="14.00" cy="46.60" r="4.65" fill="#8fa3dc"/>
<circle cx="34.10" cy="46.60" r="4.65" fill="#df634e"/>
<circle cx="67.40" cy="46.60" r="4.65" fill="#df634e"/>
<circle cx="87.20" cy="46.60" r="4.65" fill="#8fa3dc"/>
<circle cx="105.50" cy="46.60" r="4.65" fill="#d6dbe1"/>
<circle cx="4.80" cy="52.50" r="4.65" fill="#d6dbe1"/>
<circle cx="23.10" cy="52.50" r="4.65" fill="#b0c2e6"/>
<circle cx="43.60" cy="52.50" r="4.65" fill="#bf232b"/>
<circle cx="57.60" cy="52.50" r="4.65" fill="#bf232b"/>
<circle cx="78.00" cy="52.50" r="4.65" fill="#b0c2e6"/>
<circle cx="96.30" cy="52.50" r="4.65" fill="#d6dbe1"/>
<circle cx="4.80" cy="62.40" r="4.65" fill="#b0c2e6"/>
<circle cx="23.10" cy="62.40" r="4.65" fill="#d6dbe1"/>
<circle cx="41.40" cy="62.40" r="4.65" fill="#8fa3dc"/>
<circle cx="59.70" cy="62.40" r="4.65" fill="#8fa3dc"/>
<circle cx="78.00" cy="62.40" r="4.65" fill="#d6dbe1"/>
<circle cx="96.30" cy="62.40" r="4.65" fill="#b0c2e6"/>
<circle cx="14.00" cy="68.20" r="4.65" fill="#b0c2e6"/>
<circle cx="32.30" cy="68.20" r="4.65" fill="#e4d9d2"/>
<circle cx="50.60" cy="68.20" r="4.65" fill="#d6dbe1"/>
<circle cx="68.90" cy="68.20" r="4.65" fill="#e4d9d2"/>
<circle cx="87.20" cy="68.20" r="4.65" fill="#b0c2e6"/>
<circle cx="105.50" cy="68.20" r="4.65" fill="#e4d9d2"/>
<circle cx="14.00" cy="78.20" r="4.65" fill="#8fa3dc"/>
<circle cx="32.30" cy="78.20" r="4.65" fill="#d6dbe1"/>
<circle cx="50.60" cy="78.20" r="4.65" fill="#6d7fcb"/>
<circle cx="68.90" cy="78.20" r="4.65" fill="#d6dbe1"/>
<circle cx="87.20" cy="78.20" r="4.65" fill="#8fa3dc"/>
<circle cx="105.50" cy="78.20" r="4.65" fill="#e4d9d2"/>
<circle cx="4.80" cy="84.10" r="4.65" fill="#d6dbe1"/>
<circle cx="23.10" cy="84.10" r="4.65" fill="#b0c2e6"/>
<circle cx="41.40" cy="84.10" r="4.65" fill="#b0c2e6"/>
<circle cx="59.70" cy="84.10" r="4.65" fill="#b0c2e6"/>
<circle cx="78.00" cy="84.10" r="4.65" fill="#d6dbe1"/>
<circle cx="96.30" cy="84.10" r="4.65" fill="#b0c2e6"/>
<circle cx="4.80" cy="94.10" r="4.65" fill="#d6dbe1"/>
<circle cx="23.10" cy="94.10" r="4.65" fill="#b0c2e6"/>
<circle cx="41.40" cy="94.10" r="4.65" fill="#b0c2e6"/>
<circle cx="59.70" cy="94.10" r="4.65" fill="#b0c2e6"/>
<circle cx="78.00" cy="94.10" r="4.65" fill="#b0c2e6"/>
<circle cx="96.30" cy="94.10" r="4.65" fill="#b0c2e6"/>
</svg>
<rect x="280.35" y="659.95" width="112.30" height="100.30" fill="#fff" stroke="#111" stroke-width="1.3"/>
<svg x="281.00" y="660.60" width="111.00" height="99.00" overflow="hidden">
<circle cx="14.00" cy="4.50" r="4.65" fill="#8fa3dc"/>
<circle cx="32.30" cy="4.50" r="4.65" fill="#8fa3dc"/>
<circle cx="50.60" cy="4.50" r="4.65" fill="#b0c2e6"/>
<circle cx="68.90" cy="4.50" r="4.65" fill="#8fa3dc"/>
<circle cx="87.20" cy="4.50" r="4.65" fill="#8fa3dc"/>
<circle cx="105.50" cy="4.50" r="4.65" fill="#8fa3dc"/>
<circle cx="14.00" cy="14.50" r="4.65" fill="#b0c2e6"/>
<circle cx="32.30" cy="14.50" r="4.65" fill="#8fa3dc"/>
<circle cx="50.60" cy="14.50" r="4.65" fill="#bf232b"/>
<circle cx="68.90" cy="14.50" r="4.65" fill="#8fa3dc"/>
<circle cx="87.20" cy="14.50" r="4.65" fill="#b0c2e6"/>
<circle cx="105.50" cy="14.50" r="4.65" fill="#d6dbe1"/>
<circle cx="4.80" cy="20.00" r="4.65" fill="#6d7fcb"/>
<circle cx="23.10" cy="20.00" r="4.65" fill="#6d7fcb"/>
<circle cx="41.40" cy="20.00" r="4.65" fill="#8fa3dc"/>
<circle cx="59.70" cy="20.00" r="4.65" fill="#8fa3dc"/>
<circle cx="78.00" cy="20.00" r="4.65" fill="#6d7fcb"/>
<circle cx="96.30" cy="20.00" r="4.65" fill="#6d7fcb"/>
<circle cx="4.80" cy="30.00" r="4.65" fill="#8fa3dc"/>
<circle cx="23.10" cy="30.00" r="4.65" fill="#f5c0a7"/>
<circle cx="43.60" cy="30.00" r="4.65" fill="#bf232b"/>
<circle cx="57.60" cy="30.00" r="4.65" fill="#bf232b"/>
<circle cx="78.00" cy="30.00" r="4.65" fill="#f5c0a7"/>
<circle cx="96.30" cy="30.00" r="4.65" fill="#8fa3dc"/>
<circle cx="14.00" cy="35.80" r="4.65" fill="#b0c2e6"/>
<circle cx="34.10" cy="35.80" r="4.65" fill="#b0c2e6"/>
<circle cx="67.40" cy="35.80" r="4.65" fill="#b0c2e6"/>
<circle cx="87.20" cy="35.80" r="4.65" fill="#b0c2e6"/>
<circle cx="105.50" cy="35.80" r="4.65" fill="#b0c2e6"/>
<circle cx="14.00" cy="46.60" r="4.65" fill="#b0c2e6"/>
<circle cx="34.10" cy="46.60" r="4.65" fill="#b0c2e6"/>
<circle cx="67.40" cy="46.60" r="4.65" fill="#b0c2e6"/>
<circle cx="87.20" cy="46.60" r="4.65" fill="#b0c2e6"/>
<circle cx="105.50" cy="46.60" r="4.65" fill="#b0c2e6"/>
<circle cx="4.80" cy="52.50" r="4.65" fill="#8fa3dc"/>
<circle cx="23.10" cy="52.50" r="4.65" fill="#f5c0a7"/>
<circle cx="43.60" cy="52.50" r="4.65" fill="#bf232b"/>
<circle cx="57.60" cy="52.50" r="4.65" fill="#bf232b"/>
<circle cx="78.00" cy="52.50" r="4.65" fill="#f5c0a7"/>
<circle cx="96.30" cy="52.50" r="4.65" fill="#8fa3dc"/>
<circle cx="4.80" cy="62.40" r="4.65" fill="#6d7fcb"/>
<circle cx="23.10" cy="62.40" r="4.65" fill="#6d7fcb"/>
<circle cx="41.40" cy="62.40" r="4.65" fill="#8fa3dc"/>
<circle cx="59.70" cy="62.40" r="4.65" fill="#8fa3dc"/>
<circle cx="78.00" cy="62.40" r="4.65" fill="#6d7fcb"/>
<circle cx="96.30" cy="62.40" r="4.65" fill="#6d7fcb"/>
<circle cx="14.00" cy="68.20" r="4.65" fill="#8fa3dc"/>
<circle cx="32.30" cy="68.20" r="4.65" fill="#8fa3dc"/>
<circle cx="50.60" cy="68.20" r="4.65" fill="#bf232b"/>
<circle cx="68.90" cy="68.20" r="4.65" fill="#8fa3dc"/>
<circle cx="87.20" cy="68.20" r="4.65" fill="#b0c2e6"/>
<circle cx="105.50" cy="68.20" r="4.65" fill="#d6dbe1"/>
<circle cx="14.00" cy="78.20" r="4.65" fill="#8fa3dc"/>
<circle cx="32.30" cy="78.20" r="4.65" fill="#8fa3dc"/>
<circle cx="50.60" cy="78.20" r="4.65" fill="#b0c2e6"/>
<circle cx="68.90" cy="78.20" r="4.65" fill="#8fa3dc"/>
<circle cx="87.20" cy="78.20" r="4.65" fill="#6d7fcb"/>
<circle cx="105.50" cy="78.20" r="4.65" fill="#8fa3dc"/>
<circle cx="4.80" cy="84.10" r="4.65" fill="#8fa3dc"/>
<circle cx="23.10" cy="84.10" r="4.65" fill="#b0c2e6"/>
<circle cx="41.40" cy="84.10" r="4.65" fill="#b0c2e6"/>
<circle cx="59.70" cy="84.10" r="4.65" fill="#b0c2e6"/>
<circle cx="78.00" cy="84.10" r="4.65" fill="#b0c2e6"/>
<circle cx="96.30" cy="84.10" r="4.65" fill="#8fa3dc"/>
<circle cx="4.80" cy="94.10" r="4.65" fill="#8fa3dc"/>
<circle cx="23.10" cy="94.10" r="4.65" fill="#b0c2e6"/>
<circle cx="41.40" cy="94.10" r="4.65" fill="#b0c2e6"/>
<circle cx="59.70" cy="94.10" r="4.65" fill="#b0c2e6"/>
<circle cx="78.00" cy="94.10" r="4.65" fill="#b0c2e6"/>
<circle cx="96.30" cy="94.10" r="4.65" fill="#8fa3dc"/>
</svg>
<rect x="398.15" y="659.95" width="112.30" height="100.30" fill="#fff" stroke="#111" stroke-width="1.3"/>
<svg x="398.80" y="660.60" width="111.00" height="99.00" overflow="hidden">
<circle cx="14.00" cy="4.50" r="4.65" fill="#8fa3dc"/>
<circle cx="32.30" cy="4.50" r="4.65" fill="#6d7fcb"/>
<circle cx="50.60" cy="4.50" r="4.65" fill="#6d7fcb"/>
<circle cx="68.90" cy="4.50" r="4.65" fill="#6d7fcb"/>
<circle cx="87.20" cy="4.50" r="4.65" fill="#8fa3dc"/>
<circle cx="105.50" cy="4.50" r="4.65" fill="#5661b6"/>
<circle cx="14.00" cy="14.50" r="4.65" fill="#8fa3dc"/>
<circle cx="32.30" cy="14.50" r="4.65" fill="#6d7fcb"/>
<circle cx="50.60" cy="14.50" r="4.65" fill="#b0c2e6"/>
<circle cx="68.90" cy="14.50" r="4.65" fill="#6d7fcb"/>
<circle cx="87.20" cy="14.50" r="4.65" fill="#8fa3dc"/>
<circle cx="105.50" cy="14.50" r="4.65" fill="#5661b6"/>
<circle cx="4.80" cy="20.00" r="4.65" fill="#b0c2e6"/>
<circle cx="23.10" cy="20.00" r="4.65" fill="#6d7fcb"/>
<circle cx="41.40" cy="20.00" r="4.65" fill="#6d7fcb"/>
<circle cx="59.70" cy="20.00" r="4.65" fill="#6d7fcb"/>
<circle cx="78.00" cy="20.00" r="4.65" fill="#6d7fcb"/>
<circle cx="96.30" cy="20.00" r="4.65" fill="#b0c2e6"/>
<circle cx="4.80" cy="30.00" r="4.65" fill="#6d7fcb"/>
<circle cx="23.10" cy="30.00" r="4.65" fill="#6d7fcb"/>
<circle cx="43.60" cy="30.00" r="4.65" fill="#bf232b"/>
<circle cx="57.60" cy="30.00" r="4.65" fill="#bf232b"/>
<circle cx="78.00" cy="30.00" r="4.65" fill="#6d7fcb"/>
<circle cx="96.30" cy="30.00" r="4.65" fill="#6d7fcb"/>
<circle cx="14.00" cy="35.80" r="4.65" fill="#8fa3dc"/>
<circle cx="34.10" cy="35.80" r="4.65" fill="#f5c0a7"/>
<circle cx="67.40" cy="35.80" r="4.65" fill="#f5c0a7"/>
<circle cx="87.20" cy="35.80" r="4.65" fill="#8fa3dc"/>
<circle cx="105.50" cy="35.80" r="4.65" fill="#5661b6"/>
<circle cx="14.00" cy="46.60" r="4.65" fill="#8fa3dc"/>
<circle cx="34.10" cy="46.60" r="4.65" fill="#f5c0a7"/>
<circle cx="67.40" cy="46.60" r="4.65" fill="#f5c0a7"/>
<circle cx="87.20" cy="46.60" r="4.65" fill="#8fa3dc"/>
<circle cx="105.50" cy="46.60" r="4.65" fill="#5661b6"/>
<circle cx="4.80" cy="52.50" r="4.65" fill="#6d7fcb"/>
<circle cx="23.10" cy="52.50" r="4.65" fill="#6d7fcb"/>
<circle cx="43.60" cy="52.50" r="4.65" fill="#bf232b"/>
<circle cx="57.60" cy="52.50" r="4.65" fill="#bf232b"/>
<circle cx="78.00" cy="52.50" r="4.65" fill="#6d7fcb"/>
<circle cx="96.30" cy="52.50" r="4.65" fill="#8fa3dc"/>
<circle cx="4.80" cy="62.40" r="4.65" fill="#b0c2e6"/>
<circle cx="23.10" cy="62.40" r="4.65" fill="#6d7fcb"/>
<circle cx="41.40" cy="62.40" r="4.65" fill="#6d7fcb"/>
<circle cx="59.70" cy="62.40" r="4.65" fill="#6d7fcb"/>
<circle cx="78.00" cy="62.40" r="4.65" fill="#6d7fcb"/>
<circle cx="96.30" cy="62.40" r="4.65" fill="#b0c2e6"/>
<circle cx="14.00" cy="68.20" r="4.65" fill="#8fa3dc"/>
<circle cx="32.30" cy="68.20" r="4.65" fill="#6d7fcb"/>
<circle cx="50.60" cy="68.20" r="4.65" fill="#b0c2e6"/>
<circle cx="68.90" cy="68.20" r="4.65" fill="#6d7fcb"/>
<circle cx="87.20" cy="68.20" r="4.65" fill="#8fa3dc"/>
<circle cx="105.50" cy="68.20" r="4.65" fill="#5661b6"/>
<circle cx="14.00" cy="78.20" r="4.65" fill="#8fa3dc"/>
<circle cx="32.30" cy="78.20" r="4.65" fill="#6d7fcb"/>
<circle cx="50.60" cy="78.20" r="4.65" fill="#6d7fcb"/>
<circle cx="68.90" cy="78.20" r="4.65" fill="#6d7fcb"/>
<circle cx="87.20" cy="78.20" r="4.65" fill="#8fa3dc"/>
<circle cx="105.50" cy="78.20" r="4.65" fill="#5661b6"/>
<circle cx="4.80" cy="84.10" r="4.65" fill="#8fa3dc"/>
<circle cx="23.10" cy="84.10" r="4.65" fill="#5661b6"/>
<circle cx="41.40" cy="84.10" r="4.65" fill="#8fa3dc"/>
<circle cx="59.70" cy="84.10" r="4.65" fill="#8fa3dc"/>
<circle cx="78.00" cy="84.10" r="4.65" fill="#5661b6"/>
<circle cx="96.30" cy="84.10" r="4.65" fill="#8fa3dc"/>
<circle cx="4.80" cy="94.10" r="4.65" fill="#8fa3dc"/>
<circle cx="23.10" cy="94.10" r="4.65" fill="#5661b6"/>
<circle cx="41.40" cy="94.10" r="4.65" fill="#8fa3dc"/>
<circle cx="59.70" cy="94.10" r="4.65" fill="#8fa3dc"/>
<circle cx="78.00" cy="94.10" r="4.65" fill="#5661b6"/>
<circle cx="96.30" cy="94.10" r="4.65" fill="#8fa3dc"/>
</svg>
<rect x="515.95" y="659.95" width="111.90" height="100.30" fill="#fff" stroke="#111" stroke-width="1.3"/>
<svg x="516.60" y="660.60" width="110.60" height="99.00" overflow="hidden">
<circle cx="14.00" cy="4.50" r="4.65" fill="#b0c2e6"/>
<circle cx="32.30" cy="4.50" r="4.65" fill="#d6dbe1"/>
<circle cx="50.60" cy="4.50" r="4.65" fill="#6d7fcb"/>
<circle cx="68.90" cy="4.50" r="4.65" fill="#d6dbe1"/>
<circle cx="87.20" cy="4.50" r="4.65" fill="#b0c2e6"/>
<circle cx="105.50" cy="4.50" r="4.65" fill="#efcfbf"/>
<circle cx="14.00" cy="14.50" r="4.65" fill="#b0c2e6"/>
<circle cx="32.30" cy="14.50" r="4.65" fill="#efcfbf"/>
<circle cx="50.60" cy="14.50" r="4.65" fill="#b0c2e6"/>
<circle cx="68.90" cy="14.50" r="4.65" fill="#efcfbf"/>
<circle cx="87.20" cy="14.50" r="4.65" fill="#b0c2e6"/>
<circle cx="105.50" cy="14.50" r="4.65" fill="#d6dbe1"/>
<circle cx="4.80" cy="20.00" r="4.65" fill="#b0c2e6"/>
<circle cx="23.10" cy="20.00" r="4.65" fill="#f7b396"/>
<circle cx="41.40" cy="20.00" r="4.65" fill="#8fa3dc"/>
<circle cx="59.70" cy="20.00" r="4.65" fill="#8fa3dc"/>
<circle cx="78.00" cy="20.00" r="4.65" fill="#f7b396"/>
<circle cx="96.30" cy="20.00" r="4.65" fill="#b0c2e6"/>
<circle cx="4.80" cy="30.00" r="4.65" fill="#d6dbe1"/>
<circle cx="23.10" cy="30.00" r="4.65" fill="#d6dbe1"/>
<circle cx="43.60" cy="30.00" r="4.65" fill="#bf232b"/>
<circle cx="57.60" cy="30.00" r="4.65" fill="#bf232b"/>
<circle cx="78.00" cy="30.00" r="4.65" fill="#d6dbe1"/>
<circle cx="96.30" cy="30.00" r="4.65" fill="#d6dbe1"/>
<circle cx="14.00" cy="35.80" r="4.65" fill="#8fa3dc"/>
<circle cx="34.10" cy="35.80" r="4.65" fill="#d65244"/>
<circle cx="67.40" cy="35.80" r="4.65" fill="#d65244"/>
<circle cx="87.20" cy="35.80" r="4.65" fill="#8fa3dc"/>
<circle cx="105.50" cy="35.80" r="4.65" fill="#b0c2e6"/>
<circle cx="14.00" cy="46.60" r="4.65" fill="#8fa3dc"/>
<circle cx="34.10" cy="46.60" r="4.65" fill="#d65244"/>
<circle cx="67.40" cy="46.60" r="4.65" fill="#d65244"/>
<circle cx="87.20" cy="46.60" r="4.65" fill="#8fa3dc"/>
<circle cx="105.50" cy="46.60" r="4.65" fill="#b0c2e6"/>
<circle cx="4.80" cy="52.50" r="4.65" fill="#d6dbe1"/>
<circle cx="23.10" cy="52.50" r="4.65" fill="#d6dbe1"/>
<circle cx="43.60" cy="52.50" r="4.65" fill="#bf232b"/>
<circle cx="57.60" cy="52.50" r="4.65" fill="#bf232b"/>
<circle cx="78.00" cy="52.50" r="4.65" fill="#d6dbe1"/>
<circle cx="96.30" cy="52.50" r="4.65" fill="#d6dbe1"/>
<circle cx="4.80" cy="62.40" r="4.65" fill="#b0c2e6"/>
<circle cx="23.10" cy="62.40" r="4.65" fill="#f7b396"/>
<circle cx="41.40" cy="62.40" r="4.65" fill="#8fa3dc"/>
<circle cx="59.70" cy="62.40" r="4.65" fill="#8fa3dc"/>
<circle cx="78.00" cy="62.40" r="4.65" fill="#f7b396"/>
<circle cx="96.30" cy="62.40" r="4.65" fill="#b0c2e6"/>
<circle cx="14.00" cy="68.20" r="4.65" fill="#b0c2e6"/>
<circle cx="32.30" cy="68.20" r="4.65" fill="#efcfbf"/>
<circle cx="50.60" cy="68.20" r="4.65" fill="#b0c2e6"/>
<circle cx="68.90" cy="68.20" r="4.65" fill="#efcfbf"/>
<circle cx="87.20" cy="68.20" r="4.65" fill="#b0c2e6"/>
<circle cx="105.50" cy="68.20" r="4.65" fill="#d6dbe1"/>
<circle cx="14.00" cy="78.20" r="4.65" fill="#b0c2e6"/>
<circle cx="32.30" cy="78.20" r="4.65" fill="#d6dbe1"/>
<circle cx="50.60" cy="78.20" r="4.65" fill="#6d7fcb"/>
<circle cx="68.90" cy="78.20" r="4.65" fill="#d6dbe1"/>
<circle cx="87.20" cy="78.20" r="4.65" fill="#b0c2e6"/>
<circle cx="105.50" cy="78.20" r="4.65" fill="#efcfbf"/>
<circle cx="4.80" cy="84.10" r="4.65" fill="#d6dbe1"/>
<circle cx="23.10" cy="84.10" r="4.65" fill="#d6dbe1"/>
<circle cx="41.40" cy="84.10" r="4.65" fill="#b0c2e6"/>
<circle cx="59.70" cy="84.10" r="4.65" fill="#b0c2e6"/>
<circle cx="78.00" cy="84.10" r="4.65" fill="#d6dbe1"/>
<circle cx="96.30" cy="84.10" r="4.65" fill="#d6dbe1"/>
<circle cx="4.80" cy="94.10" r="4.65" fill="#d6dbe1"/>
<circle cx="23.10" cy="94.10" r="4.65" fill="#d6dbe1"/>
<circle cx="41.40" cy="94.10" r="4.65" fill="#b0c2e6"/>
<circle cx="59.70" cy="94.10" r="4.65" fill="#b0c2e6"/>
<circle cx="78.00" cy="94.10" r="4.65" fill="#d6dbe1"/>
<circle cx="96.30" cy="94.10" r="4.65" fill="#d6dbe1"/>
</svg>
<defs><linearGradient id="cbar" x1="0" y1="0" x2="0" y2="1"><stop offset="0.000" stop-color="#b7021d"/><stop offset="0.025" stop-color="#b90c21"/><stop offset="0.050" stop-color="#c1282d"/><stop offset="0.075" stop-color="#ca3b37"/><stop offset="0.100" stop-color="#d1493f"/><stop offset="0.125" stop-color="#d95847"/><stop offset="0.150" stop-color="#e0654f"/><stop offset="0.175" stop-color="#e67259"/><stop offset="0.200" stop-color="#eb7d62"/><stop offset="0.225" stop-color="#f08a6c"/><stop offset="0.250" stop-color="#f39475"/><stop offset="0.275" stop-color="#f59f80"/><stop offset="0.300" stop-color="#f7a889"/><stop offset="0.325" stop-color="#f7b194"/><stop offset="0.350" stop-color="#f7b99e"/><stop offset="0.375" stop-color="#f5c1a9"/><stop offset="0.400" stop-color="#f3c8b2"/><stop offset="0.425" stop-color="#efcebd"/><stop offset="0.450" stop-color="#ebd3c6"/><stop offset="0.475" stop-color="#e5d8d1"/><stop offset="0.500" stop-color="#dfdbd9"/><stop offset="0.525" stop-color="#d9dcdf"/><stop offset="0.550" stop-color="#d4dae2"/><stop offset="0.575" stop-color="#cdd6e5"/><stop offset="0.600" stop-color="#c7d3e6"/><stop offset="0.625" stop-color="#bfcee7"/><stop offset="0.650" stop-color="#b8c9e7"/><stop offset="0.675" stop-color="#b0c2e6"/><stop offset="0.700" stop-color="#a9bce4"/><stop offset="0.725" stop-color="#a0b4e2"/><stop offset="0.750" stop-color="#98acdf"/><stop offset="0.775" stop-color="#8fa3dc"/><stop offset="0.800" stop-color="#879bd9"/><stop offset="0.825" stop-color="#7d91d5"/><stop offset="0.850" stop-color="#7588d0"/><stop offset="0.875" stop-color="#6c7dca"/><stop offset="0.900" stop-color="#6473c4"/><stop offset="0.925" stop-color="#5b68bb"/><stop offset="0.950" stop-color="#545eb3"/><stop offset="0.975" stop-color="#4c52a9"/><stop offset="1.000" stop-color="#4547a0"/></linearGradient></defs>
<rect x="634.4" y="422.59" width="6.4" height="337.21" fill="url(#cbar)" stroke="#111" stroke-width="1.1"/>
<line x1="640.8" y1="427.90" x2="646.9" y2="427.90" stroke="#111" stroke-width="1.2"/>
<line x1="640.8" y1="527.47" x2="646.9" y2="527.47" stroke="#111" stroke-width="1.2"/>
<line x1="640.8" y1="660.23" x2="646.9" y2="660.23" stroke="#111" stroke-width="1.2"/>
<line x1="640.8" y1="759.80" x2="646.9" y2="759.80" stroke="#111" stroke-width="1.2"/>
<text x="652.90" y="434.30" font-size="18.03" text-anchor="start" font-weight="normal" font-style="normal" fill="#000" textLength="11.13" lengthAdjust="spacingAndGlyphs" >1</text>
<text x="652.90" y="533.87" font-size="18.03" text-anchor="start" font-weight="normal" font-style="normal" fill="#000" textLength="27.83" lengthAdjust="spacingAndGlyphs" >0.7</text>
<text x="652.90" y="666.63" font-size="18.03" text-anchor="start" font-weight="normal" font-style="normal" fill="#000" textLength="27.83" lengthAdjust="spacingAndGlyphs" >0.3</text>
<text x="652.90" y="766.20" font-size="18.03" text-anchor="start" font-weight="normal" font-style="normal" fill="#000" textLength="11.13" lengthAdjust="spacingAndGlyphs" >0</text>
<text x="672.4" y="594.6" font-size="18.03" text-anchor="middle" fill="#000" textLength="69.5" lengthAdjust="spacingAndGlyphs" transform="rotate(-90 672.4 594.6)">LDOS [-]</text>
<path d="M263.4,779.7 L263.4,742 M263.4,779.7 L302,779.7" fill="none" stroke="#000" stroke-width="1.6"/>
<path d="M258.6,747.2 L263.4,741.2 L268.2,747.2" fill="none" stroke="#000" stroke-width="1.6" stroke-linejoin="miter"/>
<path d="M297,774.9 L303,779.7 L297,784.5" fill="none" stroke="#000" stroke-width="1.6" stroke-linejoin="miter"/>
<text x="258.0" y="725.2" font-size="22.5" font-style="italic" fill="#000">y</text>
<text x="311.4" y="788.4" font-size="23.5" font-style="italic" fill="#000">x</text>
</svg>
</body></html>
